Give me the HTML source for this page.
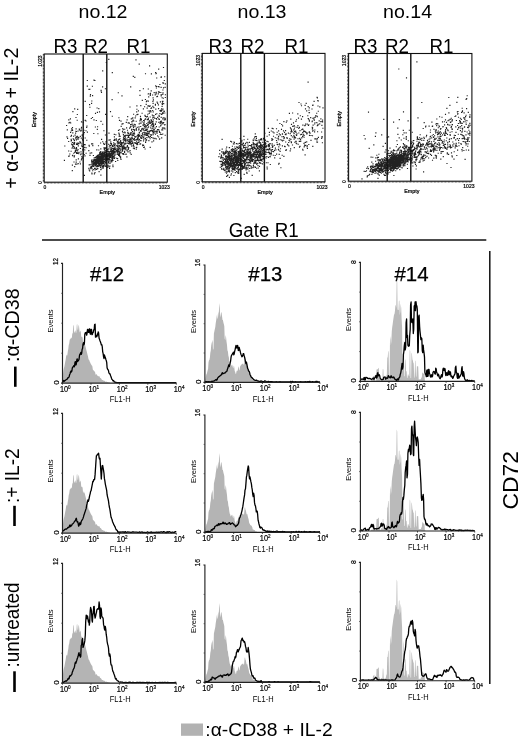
<!DOCTYPE html>
<html><head><meta charset="utf-8"><title>Figure</title>
<style>html,body{margin:0;padding:0;background:#fff}svg{display:block}</style></head>
<body>
<svg width="520" height="741" viewBox="0 0 520 741" font-family='"Liberation Sans", Arial, sans-serif' fill="#000">
<rect width="520" height="741" fill="#fff"/>
<path d="M98 159.8h0M98.1 162.6h0M95.5 163.7h0M103.1 157.3h0M102.8 158h0M100.4 159.6h0M92.8 161.4h0M100.8 158.2h0M92.7 170.7h0M95.7 164.5h0M100.1 160.6h0M100.9 162.3h0M100.1 159h0M96.5 156.3h0M101 155.7h0M96.7 164.9h0M97.7 162.1h0M101.3 158.9h0M97.3 165.4h0M97.1 157.8h0M96 161.8h0M100.6 165.5h0M99.2 156.3h0M91.5 166.3h0M98.6 164.2h0M100.8 160.2h0M93.6 161.1h0M101.5 156.3h0M104.3 156.8h0M99.4 165.4h0M101.3 162h0M97.3 166.5h0M95.4 164.9h0M103.7 165.6h0M93.6 163.2h0M104.3 156h0M92 173.9h0M100.3 162.9h0M94.8 159.9h0M103 158.2h0M99.9 159h0M104.9 155.6h0M100.9 158h0M93.2 159.7h0M102.5 157.2h0M91.7 167.3h0M102.1 165.8h0M98.3 157.8h0M94.1 158h0M101 160.4h0M100.2 158.1h0M99.4 156.7h0M96.5 163.9h0M102.8 158.8h0M95.7 159.5h0M104.4 159.6h0M93.9 164.4h0M98.4 162.4h0M104.2 161.8h0M103.6 163h0M96.1 160.4h0M103.1 155.7h0M100.3 159.8h0M99.5 158.7h0M98.3 160.4h0M101.1 159.9h0M101.8 157.5h0M106.4 155.8h0M97.4 163.2h0M98.9 157.8h0M97.7 160.4h0M105.8 166.4h0M94.8 162.5h0M100.5 159.4h0M97.4 159.6h0M100 162.3h0M108 154.8h0M96.9 162.5h0M98.1 161.7h0M88.9 168.4h0M102.7 163.1h0M98.7 157.8h0M102.1 154h0M92.7 165.8h0M97.7 159.5h0M103 168.3h0M103 164h0M101.5 164.9h0M99.6 156.4h0M98.4 160.7h0M101.9 158.9h0M98.7 155.8h0M102.9 159.9h0M109.1 159.5h0M102.4 160.1h0M99.5 158.3h0M99.8 158.3h0M93.3 169.5h0M101.3 163.2h0M95.2 168.4h0M103.7 155.8h0M104.4 161.4h0M99 165.1h0M101.8 153.8h0M95.7 157.3h0M102.6 159.7h0M91.7 160.1h0M98.6 163.4h0M100.5 158.8h0M104.5 161.6h0M103.2 153.4h0M104.3 158.7h0M96.2 159h0M99.4 160.4h0M104.2 159.1h0M90.5 167.1h0M92.1 161.9h0M100.2 162.6h0M98.9 158.1h0M99.3 156.2h0M98.8 157.5h0M104.5 152.3h0M96.5 159.3h0M92.1 168.7h0M91.7 161.3h0M94.4 163.6h0M98.3 161.5h0M96.8 161.4h0M105.6 157.2h0M100.9 156.4h0M98.2 165.9h0M96.9 158.4h0M92.9 166.5h0M102.7 156.2h0M99 158.2h0M99.6 164.9h0M93.2 166.5h0M102.4 161.2h0M95.6 165.6h0M93.3 164.6h0M94.6 162.2h0M90.3 164.7h0M96.6 169.3h0M101.7 160.5h0M90.7 168.7h0M100.1 162.1h0M101.9 156.8h0M101.4 158.5h0M103.9 156h0M100.6 167.5h0M102.3 154.6h0M97.9 163.3h0M106.1 163.3h0M100.7 151.5h0M95.6 160.5h0M105.9 157.6h0M101.1 156.7h0M95.6 163.2h0M100.1 157.5h0M98.9 161.8h0M95.2 164.4h0M102.3 158.9h0M95.8 165.8h0M108.8 151.5h0M101.3 169h0M101.3 158.1h0M105.2 156.1h0M98.7 159.3h0M91.8 161.4h0M100.2 162.9h0M103.9 151.9h0M93.8 166.3h0M100.1 159.8h0M97.5 165.3h0M106.8 153h0M94.6 168.3h0M105.3 154h0M105.7 154.4h0M95.8 161.9h0M91 168.1h0M98.8 159.3h0M96.3 163h0M100.7 158.8h0M101.3 159h0M97.8 158.9h0M99.2 163.9h0M96.7 162.3h0M98.6 160.7h0M99 160.4h0M98.5 165.8h0M100.5 156.4h0M100.6 160.8h0M100.6 163.6h0M92 164.7h0M95.5 160.3h0M95 172.6h0M95.1 157.6h0M97.6 166.7h0M96.2 160.8h0M100.8 159.4h0M112.1 148.3h0M101.9 154.3h0M113.3 146.1h0M109 160.8h0M101.1 153.9h0M100 152.4h0M106.1 150.2h0M100.6 143h0M110.5 154.8h0M102.7 141.7h0M99.7 153.7h0M108.7 154.3h0M94.2 160.8h0M104.5 149.7h0M107.4 154.9h0M107.8 151.5h0M103.5 156.8h0M100.4 154.5h0M94.9 165.4h0M102.1 166.8h0M99.1 171.6h0M97.4 156.8h0M105.9 156.2h0M100.5 167.3h0M114.4 148.2h0M109.5 159.4h0M100.8 169.6h0M107.3 149.4h0M89.2 164.8h0M106.3 166.4h0M89.7 170.8h0M97.8 168.6h0M102.3 156.2h0M106.3 151.3h0M112.2 145.4h0M93.2 165.6h0M94.9 168.2h0M101.5 158.1h0M105.4 165.8h0M93.7 162.3h0M100.7 160.4h0M101.6 162.7h0M106.8 153.2h0M101.5 162.3h0M100.9 175.1h0M95.4 161.1h0M91.9 161.9h0M103.1 165.7h0M100.4 160.6h0M105.2 152.5h0M101.8 163.2h0M101.1 158.8h0M107 153.5h0M97.2 168.7h0M99.5 163.7h0M94.5 162.5h0M98.7 158.9h0M105.6 158.5h0M117.8 151.6h0M109.5 153.2h0M109.6 168.4h0M97 159h0M106.1 141.5h0M104.2 148.9h0M107.2 149.4h0M105.5 157h0M105.5 162.6h0M110.1 159.9h0M103.7 144h0M100.5 158.5h0M109.9 153.6h0M96.6 159.1h0M106 151.5h0M96.8 149.9h0M113.3 151.9h0M103.9 159.5h0M111.6 157.2h0M106.6 158.4h0M97.4 155.9h0M111.1 153.2h0M97.5 155.3h0M101.7 156.1h0M112.4 145.6h0M98.5 145.7h0M102.1 153h0M97.7 160.4h0M90.2 153.1h0M111.3 160.4h0M91.9 173h0M110 156.5h0M101.6 160h0M101.2 164.9h0M102.2 166.5h0M101.6 156.2h0M105.2 157.6h0M95.9 160.1h0M98.8 150h0M107.3 155.8h0M98.9 163.8h0M95.7 163.3h0M104.1 153.7h0M105.9 143h0M97.3 160.2h0M121 159.4h0M98.5 158.6h0M103.1 154.8h0M100.4 156.4h0M102.4 152.9h0M89.2 169.9h0M102 164.2h0M95 157.7h0M97.7 156.3h0M107.1 153.3h0M105.5 156.7h0M92.5 163h0M105.1 159.5h0M101.4 153.6h0M96.1 157h0M114.7 154.7h0M103 158.2h0M112.5 150.5h0M108.1 158.9h0M101.9 158h0M90 155.3h0M108.1 165.4h0M107.1 156h0M105.1 154h0M91.9 164.4h0M112.2 156.1h0M95.1 169.8h0M93.8 160.1h0M113.5 149.3h0M103.7 143.3h0M98.5 163.8h0M105.6 152.6h0M95.2 168.6h0M104 155.3h0M93.2 163.7h0M98.4 156.9h0M101.3 158.8h0M99.7 152.7h0M111.5 155.2h0M107.8 159.5h0M102.5 153h0M112.3 154.8h0M101.6 156.9h0M91.9 163h0M97.5 158h0M94.4 173.9h0M102.3 156.1h0M124 136.7h0M146.4 101.6h0M147.8 114.2h0M134.4 148.6h0M112.6 151.3h0M131.2 154.3h0M148.3 89h0M162.7 119h0M146.1 129.6h0M99.1 158.1h0M156.4 118.5h0M103.1 157h0M123.8 148.8h0M120.4 141.3h0M105.8 161.4h0M147.5 124.7h0M139.9 90.6h0M120.1 152.6h0M142.3 100.3h0M115.8 134.7h0M111.6 150.9h0M148.7 96.9h0M125 139.9h0M149.9 131.4h0M100.5 152.2h0M105.5 157.6h0M122.6 151.1h0M145 115.3h0M115 143.6h0M151.5 135.1h0M156.2 121.8h0M125 135.7h0M144.6 106.7h0M124.1 135.8h0M120.1 150.7h0M161.1 77.3h0M128.4 122.8h0M124.9 144.2h0M112.6 145.7h0M119.5 153.5h0M125.8 149.7h0M102 155.8h0M143.1 135h0M114.4 136.9h0M118.1 151.8h0M148.5 137h0M148.2 118.1h0M130.2 152.8h0M165.3 119.6h0M123.4 146.2h0M165.3 97.5h0M153 115.8h0M164.3 80.5h0M110.1 154.2h0M120.1 136.3h0M121.8 143.3h0M113 157.5h0M136.6 143.9h0M159.2 116.5h0M114.9 146.9h0M123.8 143h0M137.8 142.5h0M146.6 133.1h0M108.8 152.9h0M106.7 151.2h0M103.8 165.4h0M134.5 136.7h0M115.6 161.5h0M146.2 130.4h0M151.8 134.7h0M111.8 153.1h0M157.7 117.3h0M113 152.1h0M103.7 155.2h0M163 113.5h0M105.6 159.1h0M129.4 123.1h0M105.7 160.2h0M121.2 146.2h0M118.8 147.9h0M103.6 161.2h0M141.4 119.1h0M101.7 161.2h0M142.1 121.8h0M113.4 154.1h0M101.1 163.3h0M135.9 136.6h0M141.2 131.1h0M113.1 153.4h0M154.5 131.1h0M139.1 141.8h0M145.4 99.5h0M164.8 113h0M127.1 150h0M137.7 144.4h0M109.3 155.4h0M109.3 146.8h0M98.3 158.8h0M156.2 138.9h0M149.8 122.5h0M98.7 154.8h0M141 123.2h0M129 137.4h0M109 140.1h0M100.3 157.7h0M147.1 108h0M121.2 126.3h0M136.2 129.4h0M153.6 140.9h0M123.3 147.8h0M147.9 127.7h0M108.8 152.8h0M109.4 156.1h0M141.4 119.9h0M134.1 133h0M153.7 125.1h0M165.3 83.9h0M107.9 150.7h0M152.9 106.4h0M109.2 154.3h0M129.9 138.7h0M114.1 156.6h0M135.6 116h0M103.4 159.7h0M144 122.2h0M161.2 94.6h0M113 166.6h0M100.1 160.8h0M127.9 132.7h0M115 147.4h0M136.2 121.2h0M98.9 157.6h0M119.4 135h0M163.5 83.1h0M119.8 156.4h0M122.3 149.6h0M150.1 138.7h0M123.9 146.2h0M151 108.5h0M150.4 136.3h0M115.7 148.8h0M144.6 133h0M118.3 146.9h0M129.9 143h0M160.4 121.5h0M143.8 136.8h0M125.5 137.9h0M129.6 128.1h0M106 155.1h0M122 124.1h0M132.8 142.4h0M149.5 120.7h0M143 128.2h0M128 151.9h0M145.1 149h0M122.2 153.5h0M105.7 155h0M100.9 157h0M131.8 146.1h0M127.8 132.4h0M165 124.5h0M123.1 146.8h0M102.3 156.3h0M102.2 162.2h0M117.4 141.3h0M162.6 112.8h0M117.3 145.3h0M150.7 122.1h0M161.6 121.2h0M150.7 127.9h0M109 157.2h0M160.3 134.5h0M117.1 150.9h0M120.6 157.9h0M139.9 144.1h0M161.2 124.9h0M156.5 86.5h0M141.5 135.5h0M117 150.4h0M110.9 149.6h0M156.4 88h0M134.4 133.7h0M157.7 103.3h0M130.4 142.3h0M116.6 145.7h0M133.3 129.4h0M125 135.7h0M96.5 166.7h0M153.3 119.8h0M136.3 149.2h0M120.3 149h0M100.5 166h0M118.6 150.8h0M152.1 131h0M124.7 129.2h0M122.8 128.5h0M131.9 124.3h0M118.4 139.9h0M140.6 143.9h0M138.4 110.9h0M107.7 165.8h0M156.7 119.1h0M136.3 128.5h0M110.9 154.3h0M151.9 121.3h0M159.2 127h0M150.1 130.7h0M125.3 135.4h0M141.6 138.4h0M108.6 162.9h0M161.7 134.5h0M129.5 135.3h0M106.1 160.9h0M106.7 155.7h0M100.1 163.9h0M149.6 137.1h0M156.9 96.6h0M137.2 135.8h0M164.7 124.8h0M94.9 158h0M151.9 124.9h0M132.7 138.6h0M148.6 126.8h0M118.9 145.5h0M158.3 129.5h0M138.2 138.2h0M152.6 126.8h0M161.3 114.4h0M155.4 104.4h0M135.2 117.9h0M111.9 151.7h0M153.6 129.1h0M155.2 94.9h0M151.5 120h0M98.5 160.7h0M103.6 155.8h0M142.1 113.2h0M109.2 156.3h0M154 138.7h0M133.1 120h0M139.4 139.9h0M107.5 159h0M134.1 139.9h0M106.4 153.7h0M133.8 135.3h0M128.7 147.6h0M155.7 85.9h0M164.7 76.7h0M113.6 150.6h0M149.5 123.2h0M162.9 101.4h0M164.2 119.8h0M140.5 118.4h0M120.6 156.9h0M114.2 155.8h0M161.1 87.3h0M147 129h0M108.8 166.9h0M149.2 133.9h0M120.2 146.3h0M133.4 139.4h0M99.8 163.5h0M100.5 153.1h0M162 110.2h0M102.4 157.4h0M123.3 148.2h0M143.2 129.6h0M140.6 130.6h0M117.6 151.5h0M123.2 129.6h0M118.9 147.9h0M158.6 137h0M133.5 144.7h0M113.1 151.9h0M118.9 148.8h0M155.4 123.8h0M135.7 142.8h0M150.5 130.6h0M107 160.2h0M108.1 160h0M152.7 117.9h0M125.8 143.6h0M160 110.6h0M104 163.3h0M160.6 133h0M106.3 149.7h0M99.3 163.4h0M150.2 147.3h0M116.6 150.6h0M162.4 128.1h0M132.3 118.2h0M114.4 151.8h0M114.6 149.3h0M116.7 150.9h0M136.7 111.9h0M149.2 113.5h0M131.8 132.8h0M101.8 159.5h0M105.9 147.8h0M159.9 84.5h0M155.4 105.2h0M121.5 142.6h0M127.1 119.8h0M160.7 110.3h0M163.2 117.8h0M121.7 144.6h0M127.7 140.5h0M156.3 92.2h0M148.7 93.7h0M115.2 154.8h0M132.8 125.8h0M130.7 134.6h0M117.6 158.6h0M132.8 121h0M136.1 139.5h0M125.3 140.1h0M102.8 158.8h0M144.4 120.8h0M128.1 133.6h0M115.7 149.4h0M124 154.2h0M110.6 145.6h0M117.5 146.6h0M106.3 161.9h0M105.8 158.9h0M119.6 154.1h0M112.1 157.9h0M158.6 108.5h0M142.6 145.7h0M148.4 136.6h0M158.3 93.8h0M161.2 117.3h0M148.4 119h0M128.9 141.6h0M123.6 142.9h0M152.6 95h0M113 160.3h0M107.7 159.6h0M148.3 101.1h0M162.1 106.3h0M136.9 105.9h0M162.8 94.4h0M147.3 129.8h0M161.6 122.9h0M108.2 161.8h0M162.9 123.8h0M119.5 120.4h0M155.8 109.1h0M161.8 110.1h0M150.3 123.5h0M160.4 122.9h0M133.5 127.4h0M139.2 123.9h0M96.5 157h0M118.9 155.5h0M137 114.6h0M131.2 139.3h0M163.7 103.6h0M112.2 153.9h0M103.4 156.8h0M138.9 135.4h0M119.5 155.1h0M111.8 152.8h0M118.5 143.1h0M99.7 154.8h0M140.6 137.8h0M159.9 113.5h0M111.5 149.4h0M131.1 141.8h0M110.8 141.8h0M128.6 143.6h0M114.2 152.8h0M139.5 132.8h0M108.4 153.8h0M124.6 152.4h0M99.9 163.2h0M107.6 157.9h0M100.8 148.9h0M156.4 126.6h0M136.6 141.1h0M120.1 148.8h0M128.3 149.4h0M102.5 152h0M113.1 156h0M118.2 142.1h0M108 155.3h0M133.8 135.3h0M119.8 146.3h0M146.6 126h0M153.3 124.9h0M122.6 149.8h0M146.7 133.5h0M117.2 148.3h0M142.9 134.6h0M148.1 122.3h0M112.6 156.9h0M118 153.3h0M153.4 99.8h0M145 119.4h0M152.6 126.9h0M142.3 133.9h0M103.9 152.8h0M103.5 161h0M146.8 123.5h0M132.2 135.8h0M144.3 126.2h0M142 137.7h0M153.2 123.1h0M161.6 108.7h0M120.5 146.7h0M123.8 145.1h0M110.8 151h0M165.2 118.3h0M133.2 133.4h0M133.4 148.2h0M130.3 139.6h0M109.9 157.6h0M119.3 145.6h0M130.9 143.7h0M110.5 156.1h0M165.2 135.2h0M140 95.4h0M132.1 134.9h0M136.3 147.6h0M145.6 142.5h0M153 137.9h0M105.7 147.9h0M155 138.2h0M126.8 147h0M131.1 126.2h0M115.9 151.3h0M153.9 117.5h0M131.9 140.6h0M103.5 159h0M128.1 139.6h0M111.4 155.4h0M150.9 111.8h0M139.6 135.7h0M123.4 134.6h0M108.6 144.2h0M138.6 136.3h0M137.5 144.1h0M156.3 73.2h0M100.9 162.8h0M114.6 139.4h0M114.4 145.3h0M106.3 162.1h0M140 136.5h0M125.7 135.7h0M114.4 158.4h0M104.3 153.3h0M110.8 149.4h0M113 157.8h0M103.2 158.6h0M124.6 139.8h0M112.5 153.7h0M102.5 153h0M136.9 109.2h0M152.4 123.3h0M139.5 139.5h0M150.1 105.9h0M143.1 125.4h0M106.6 156.6h0M157.5 96.4h0M146.9 100.8h0M99.3 160.2h0M104 154.5h0M131.2 144.7h0M106.7 156.4h0M134.6 130.1h0M130.1 142.4h0M154.3 129.5h0M125.1 140.4h0M104.4 153.1h0M147.3 119.6h0M128.6 135.3h0M106.4 155h0M103.8 156.4h0M128.4 136.4h0M137.4 143.2h0M129.4 141.2h0M116.3 140.2h0M114.3 134.4h0M95.7 162.5h0M153.1 133.1h0M119.6 155.6h0M160.1 123.5h0M130.6 124.6h0M136.5 143h0M163 109.1h0M118.4 154.2h0M154.3 133h0M139.2 139.3h0M118.6 154.9h0M101.1 161.4h0M118.7 149.2h0M133.6 145.9h0M116.2 150.9h0M111.3 144.4h0M135.4 124.9h0M163.5 87.9h0M151.4 120.4h0M138.6 142.4h0M165 129h0M124.4 135.9h0M103.5 162.3h0M129.6 139.9h0M130.5 127.2h0M98.4 162.6h0M121.9 143.8h0M106.5 159.7h0M132.5 131.5h0M120.6 144.3h0M140.6 140.7h0M162.8 82.9h0M133.2 134.7h0M143.6 145.4h0M111.9 156h0M144.1 130.7h0M110 163.4h0M110.8 148.9h0M130 107h0M154 115.8h0M153.4 132.4h0M124.6 151.4h0M116.6 158.2h0M112.6 160h0M118.5 149.4h0M159.6 132.4h0M147.1 134h0M162.5 102.9h0M140.4 119.6h0M154.9 118.3h0M164.3 111.3h0M108.6 154.4h0M99 161.5h0M109.4 156.5h0M118.5 130.3h0M102.1 152.4h0M146.4 116.9h0M117.2 154.4h0M118.5 151.6h0M129.8 144h0M104.4 154.7h0M135 140.4h0M111.5 143.5h0M110.5 151.5h0M101.9 162.8h0M98.1 166.5h0M133.6 114.2h0M144.8 134.2h0M126.1 140.6h0M108.8 155.2h0M138.5 134.5h0M115.4 149h0M148.3 119.6h0M117.5 152.1h0M119.7 152.9h0M123 123.6h0M109.9 151.9h0M120 138.7h0M149.2 132.1h0M139.3 132.4h0M126 148.1h0M112.4 159.6h0M132.8 117.8h0M149.6 121h0M150.5 93.2h0M156.2 132.8h0M110.8 161.9h0M132.2 124h0M125.1 136.5h0M153.2 132.1h0M148.1 124.9h0M120.9 142.1h0M111.6 151.8h0M115.8 140h0M158.4 104.8h0M128.4 148.4h0M124.6 143.9h0M113.9 140.3h0M156.8 131.1h0M117.3 151.6h0M120.7 140.5h0M119.8 143.7h0M159.5 139.1h0M131.7 143.5h0M128 141.1h0M152 141.9h0M127 139h0M153 124.2h0M102.6 153.8h0M142 128.5h0M147.1 135.5h0M144.9 127.8h0M160.9 121.9h0M126.9 156.9h0M129.8 143.8h0M151 119.7h0M99.2 160.3h0M130.2 134.6h0M116.2 150.8h0M106.8 163.9h0M119.3 139.3h0M111.7 153.5h0M155.6 114.3h0M105.1 150.9h0M101.9 160h0M159.3 92.3h0M143.7 139.7h0M162.4 101.3h0M107.3 167.3h0M124.1 140.1h0M114.5 151.7h0M99.4 159.6h0M118 141.3h0M165.1 87.3h0M122.1 147.7h0M129.3 151h0M149.2 106.3h0M123.1 154.3h0M97.8 158.4h0M138.6 135.2h0M161.2 121.1h0M163 92.9h0M162.7 129.9h0M121.8 145.5h0M151.9 122.3h0M139 126.8h0M134 129.5h0M103.9 161.5h0M122.6 148.4h0M108.9 148.8h0M131.9 121.9h0M161.6 114.3h0M132.4 143h0M134.6 142.7h0M107.8 149.2h0M132 141.4h0M147.4 131.6h0M111.9 155.6h0M122 148.2h0M162 103.7h0M151.7 107.7h0M109 133.1h0M146.9 137.6h0M155.9 73.7h0M125 147.4h0M109.5 151.9h0M109 152.4h0M118.9 117.7h0M133.6 139.2h0M147.9 135.3h0M157.1 102.1h0M130.2 140.8h0M112 160.5h0M153.6 132.3h0M130.8 138.9h0M113 158.4h0M113.2 150.7h0M106.4 147.6h0M141.6 135.6h0M151.4 108h0M128.7 133.4h0M142.2 136.4h0M99.9 156.2h0M123.5 137.8h0M124.5 147.4h0M120.7 142.1h0M148.2 111h0M151.6 130.4h0M120.3 156.8h0M153.5 126.1h0M125.1 132.5h0M112.5 157.9h0M134.2 132.9h0M153.8 125.5h0M103.3 157.4h0M101.3 154.6h0M141 140.6h0M126.6 135.2h0M143.6 120.5h0M148.2 94h0M127.3 135.4h0M137.3 139.3h0M119.6 151.8h0M114.4 140.4h0M160.4 101.8h0M163.3 112.9h0M121.3 145.3h0M124.7 132.1h0M163.8 111.1h0M101.7 155.6h0M164.4 118h0M110.2 139.8h0M109.9 166.1h0M118.8 133h0M124.4 138.4h0M109.2 158.3h0M130.9 132.8h0M158.5 108.7h0M147.6 134.9h0M131.6 130.1h0M117.8 160.5h0M138.9 128.2h0M111.3 151.9h0M146.2 139.6h0M159.7 138.7h0M125 133h0M133.8 121h0M124.8 147.7h0M128 137.5h0M136.3 129.8h0M150.6 134.7h0M138.7 130h0M144.3 124.6h0M145 138.7h0M119.1 142.7h0M113.2 149.8h0M143.4 108.9h0M105.6 160.4h0M98.3 161.8h0M122.3 147h0M100.3 159.6h0M119.1 133.8h0M110.8 150.9h0M141.1 119.9h0M101.1 155.2h0M144.7 130.7h0M131.7 129.3h0M156.7 78h0M143.9 129h0M125 149h0M144.7 126.4h0M109.6 155.8h0M152.3 115h0M160.8 92.5h0M119.8 153.4h0M145.6 130.5h0M144.6 134.8h0M105.2 154.5h0M130.6 133.1h0M105 148.3h0M146 134.7h0M110.4 157.3h0M123.5 153.5h0M143.4 88.7h0M127.1 150.6h0M108 158.8h0M103.2 167.3h0M131.9 121.6h0M114.8 157.7h0M129.3 141.4h0M128.2 122.9h0M111.2 161.9h0M145.4 125h0M149.2 121.7h0M147.5 116.3h0M146 125.9h0M104.1 147.6h0M118.1 143.8h0M150.7 110.8h0M164.6 128h0M163.4 122.7h0M156 92.6h0M100.7 162.8h0M163.1 127.9h0M138.2 134.4h0M159.4 131.6h0M149.5 111.8h0M137.4 138.1h0M117.8 149.8h0M150.3 95.5h0M105.6 157.1h0M133.9 125.8h0M104.4 166h0M158.7 118.9h0M100.7 157.6h0M151 125.8h0M135.1 126.7h0M122.5 131.3h0M158.9 122.4h0M148.4 105.7h0M162.4 104.4h0M125.6 147.8h0M123.7 141.9h0M158.9 91.9h0M115.8 152.7h0M158.7 69.1h0M147.2 108.1h0M152.9 130.6h0M121 121.1h0M134.2 124.4h0M123.1 132.6h0M111 147.3h0M106.2 158.9h0M125.9 154.4h0M146.6 140.1h0M146.3 134.1h0M160.9 111.4h0M145.3 116.4h0M103.9 157.1h0M137.4 143.3h0M114.7 151h0M124.6 148.1h0M152.9 101.3h0M102.6 162.1h0M151.8 124.2h0M113.2 157.1h0M140.5 116.4h0M109.1 158.2h0M141.7 129.6h0M163.3 128.2h0M121 150h0M121.4 143.7h0M112.4 158.1h0M114.6 145.5h0M128.4 147.7h0M98.9 166.2h0M115.1 144.9h0M148.5 124h0M133.3 145.2h0M100.9 156.3h0M162.3 122.9h0M143.1 124.8h0M162.9 90h0M111.9 158.6h0M112.9 165.1h0M100.9 158h0M109.5 145.2h0M131.3 118.8h0M142.8 144.9h0M135.3 137.1h0M137.9 135.5h0M151.2 90.8h0M162.8 134h0M104.7 155.7h0M130 144h0M158.5 91.9h0M99.4 165.7h0M152.2 128.6h0M147.5 132h0M130.7 86.8h0M122 145.9h0M127.3 143.1h0M97.8 166.4h0M148.7 131.2h0M106.4 153.6h0M138.9 129.6h0M118.6 154.6h0M155.5 134.2h0M161.8 129.8h0M127.4 145.6h0M138.2 140.2h0M142.8 132.9h0M140.7 126.5h0M109.9 155.5h0M117.8 150.3h0M146.1 135.5h0M143.7 147.5h0M145.4 138.3h0M161.7 137.9h0M104.6 144.4h0M152.7 110.5h0M114.1 153.2h0M131.2 137.8h0M161.6 110.9h0M109.8 151.7h0M147.5 125.4h0M152.4 131.5h0M146 127.1h0M117.9 153.1h0M153.2 111.9h0M134.2 147h0M103.8 158.8h0M113.5 148.9h0M106.4 149.2h0M122.2 143.5h0M105.5 157.3h0M138.1 137.5h0M119.1 136.2h0M161.8 122.7h0M123.9 139.1h0M151.4 137.5h0M148.9 140.6h0M117.2 149h0M110.1 156.2h0M144.4 147.1h0M153.7 127h0M118.6 155.3h0M161.2 95.9h0M145.7 141.1h0M153.1 103.3h0M155.8 131.3h0M140.8 137.6h0M140.2 123h0M115.1 148.8h0M138.2 137.1h0M109.3 156.4h0M136.7 147.3h0M129.2 142.3h0M126.3 122.3h0M100.9 155.8h0M119.7 129.7h0M127.7 146.9h0M97.3 161.4h0M132.9 143.4h0M108.7 158.6h0M106.1 155.1h0M157.5 129.6h0M123.2 139.8h0M151.4 73.9h0M143.5 141h0M110.7 143.3h0M103 157.8h0M132.3 137.8h0M159 130.1h0M105.3 148.2h0M157.4 133h0M163.3 98.2h0M153.9 131h0M121 143h0M111.8 155.1h0M150.3 94.3h0M153.1 97.8h0M113.6 144.2h0M159.4 119.4h0M125.7 141.9h0M165.4 94.7h0M150 110.5h0M136.5 130.2h0M158.8 86.5h0M117.3 142.9h0M115.1 153h0M152.9 138h0M162.1 97.7h0M161.3 76.8h0M156.8 113.7h0M134.4 138.6h0M157.6 135.8h0M130 134.4h0M123.8 143h0M155.4 124.5h0M106.9 153.8h0M163.5 67.5h0M145.8 129.2h0M150.2 117h0M130.5 126.9h0M137.2 127.3h0M159 87h0M162.1 113.9h0M127.7 116.6h0M160.6 125.8h0M137.7 139.5h0M113.2 148.2h0M130.3 150.7h0M149.8 106.1h0M137.9 135.4h0M137.1 144.6h0M144.1 132.5h0M106.4 159h0M107.6 156.5h0M121.3 152.1h0M118.4 151h0M123.8 145.6h0M111.1 155.9h0M134.3 130.9h0M127.5 130.2h0M110.2 155.4h0M112.6 146.5h0M119.3 148.1h0M146.8 129.2h0M103.4 166.4h0M116.3 138.9h0M113.5 150h0M148 133.5h0M147.8 106h0M119.8 142.2h0M111.9 161.6h0M104.9 164.3h0M157.2 131.4h0M159.1 115.4h0M140.5 131.2h0M125.7 139.3h0M113.7 142.7h0M108.8 156.6h0M155.2 128.1h0M109 161.6h0M155.6 72.5h0M103.2 154.8h0M156.1 93.9h0M153.3 134.7h0M103.4 159.7h0M145.4 132.9h0M135.3 143.3h0M122.3 142.5h0M126.1 154.1h0M148.6 133.3h0M153 121.5h0M145.6 118.8h0M132.7 135.2h0M126.6 127.8h0M137.9 114.4h0M124 148.6h0M139.9 120.8h0M122.2 142.8h0M143.5 137.8h0M154.2 92.6h0M163.7 122.5h0M143.9 123.4h0M139.8 135h0M153.8 107.6h0M134.6 134h0M105.1 158.7h0M76.8 137.5h0M81.1 153.8h0M76.6 153.5h0M76.2 162.1h0M82.2 135.1h0M76.5 152.5h0M74.8 152.3h0M69 122.8h0M94.6 159.5h0M71 136.3h0M80.4 163.9h0M67 136.8h0M66.6 125.5h0M74.6 142.6h0M77.2 150.9h0M76.4 147.6h0M83.8 144.9h0M77 150.5h0M73.8 153.2h0M77.2 120.2h0M83.1 140.7h0M86 130.7h0M78.3 145.8h0M71.4 140.6h0M75.5 164.1h0M70.4 118.9h0M78.3 137.4h0M78.2 149.7h0M79.6 129.8h0M75.6 137.2h0M82.6 149.9h0M78.1 153.2h0M80.4 148.5h0M83.3 153.5h0M86.1 147.7h0M72.7 155.3h0M80.7 154.7h0M86.7 127.3h0M79.9 162h0M77.1 153.1h0M67.6 138.3h0M88.8 150.6h0M81.5 127.3h0M72.1 148.1h0M78.6 137.7h0M71.1 141h0M76.6 131.5h0M68.7 151h0M74.5 147.8h0M81 151.8h0M91.7 152.8h0M81.6 130.7h0M82.3 146.4h0M72.8 147h0M80.7 142.2h0M80.3 136.4h0M72.5 155.7h0M84.8 150h0M68.8 119.9h0M72.8 155.7h0M82.3 158.2h0M72.6 130.3h0M72.9 111.6h0M77.7 109.3h0M77.9 143h0M73.8 146.6h0M74.5 144h0M81.3 160h0M72.3 170.6h0M85.2 144.7h0M77.1 144.5h0M82.5 139.6h0M81.7 145.9h0M76.5 144.5h0M67.3 129.8h0M68.8 156.5h0M80.7 143h0M81.5 121.9h0M87 126h0M76 117.5h0M72.5 144.8h0M82.5 146.5h0M76.6 148.3h0M84.4 175.4h0M83.9 130.2h0M76.8 136.5h0M72.1 129.5h0M93.4 155.5h0M84.6 144.5h0M75.4 150h0M76.2 159.8h0M70 122.4h0M77.1 136.7h0M78.8 137.6h0M69.1 155.9h0M80.5 130.9h0M71.1 151.2h0M71.5 135.4h0M79 143.3h0M73.8 139.3h0M77.4 153.3h0M79 152.3h0M82.2 135.7h0M73.6 136.2h0M77.5 152.8h0M72.4 165.1h0M71.2 139.3h0M83.6 151.8h0M78 139.3h0M81.3 138.1h0M83.7 133.9h0M73.2 138.7h0M64.8 146h0M77.3 136.3h0M75.6 133.1h0M84.2 154.5h0M74.3 140.4h0M79.8 141.9h0M81.6 158.9h0M81.3 128.8h0M83.1 138.3h0M75.9 138.6h0M76.8 164.1h0M74 144.3h0M74.5 155.7h0M76 148.5h0M77.6 144.4h0M78.1 131h0M77.9 138.5h0M75.1 135.1h0M75.4 151.7h0M70.6 132.3h0M74.4 140.6h0M83.2 136.9h0M89.1 145.4h0M82.3 134.8h0M73.7 143.1h0M74.2 156.9h0M78.8 153.7h0M86.1 153.2h0M74.3 142.6h0M74.4 143.1h0M74 162h0M64.4 160.3h0M85.2 138h0M78 149.7h0M76.4 139.9h0M69.8 154h0M72.5 127.6h0M71.6 128.7h0M74.7 108.8h0M76.8 143.3h0M84.3 132.5h0M82.2 157.4h0M83.2 122.2h0M76.6 149.9h0M71.4 130.7h0M78.7 143.7h0M70.7 123h0M81.8 144h0M85 155.9h0M81.9 156.5h0M84.7 147.3h0M83.7 149.1h0M79.3 129.1h0M72.4 142.5h0M72.8 132.8h0M74 148.5h0M76.1 128.8h0M71.7 144.1h0M75.4 150.8h0M73 145.8h0M78.2 163.6h0M78.4 158.9h0M77.3 114.5h0M72.1 144.6h0M75.8 131.2h0M74.7 166.6h0M68.7 141.5h0M101.1 90.9h0M112.1 99.6h0M112.3 72.6h0M140.8 105.6h0M102.7 70.8h0M134.8 77.4h0M133.3 76.3h0M105.6 114.4h0M112.3 116.2h0M158.2 86.5h0M136 59.9h0M146.2 104.3h0M110.5 111.6h0M145.5 73.7h0M122 95.9h0M105.4 88.7h0M139.2 64.1h0M149.6 65.8h0M118.3 92.7h0M108.8 59.4h0M98.8 108.6h0M106.3 62.5h0M102.7 124.2h0M102.6 86.9h0M93.8 133.5h0M101 121.3h0M87.3 86.1h0M94 119.8h0M97.3 129.3h0M85.2 120.3h0M92.8 145.6h0M92.6 95.6h0M91.8 101h0M97.9 133.7h0M85.2 101.3h0M97.6 126.7h0M89 89.3h0M103.9 130.7h0M97.1 108h0M91.6 143.9h0M91.6 103.3h0M97.4 112.3h0M87.4 132.1h0M91.3 118.5h0M92.4 86.2h0M87.3 80.5h0M89.9 89.2h0M89.9 107.2h0M92.7 143.8h0M101.5 92.3h0M90.5 94.6h0M94.9 80.5h0M86 121h0M89.6 104.6h0M101.1 90.2h0M96.3 120.5h0M101.6 139.3h0M90.3 96.1h0M94 80.1h0M86.7 115.5h0M89.3 146.2h0M86.8 140.2h0M92.5 117.5h0M95.4 127h0M99.5 111.9h0M105.4 135h0M95.5 113.4h0" fill="none" stroke="#222" stroke-width="1.15" stroke-linecap="square"/>
<rect x="44.2" y="54" width="123.1" height="128.2" fill="none" stroke="#111" stroke-width="1.1"/>
<line x1="83.2" y1="54" x2="83.2" y2="182.2" stroke="#111" stroke-width="1.4"/>
<line x1="106.8" y1="54" x2="106.8" y2="182.2" stroke="#111" stroke-width="1.4"/>
<line x1="43.400000000000006" y1="54" x2="43.400000000000006" y2="182.2" stroke="#222" stroke-width="1.2" stroke-dasharray="0.7 0.7"/>
<line x1="44.2" y1="183.0" x2="167.3" y2="183.0" stroke="#222" stroke-width="1.2" stroke-dasharray="0.7 0.7"/>
<text x="41.8" y="55.5" font-size="5" text-anchor="end" transform="rotate(-90 41.8 55.5)" stroke="#000" stroke-width="0.2">1023</text>
<text x="41.8" y="182.7" font-size="5" text-anchor="middle" transform="rotate(-90 41.8 182.7)" stroke="#000" stroke-width="0.2">0</text>
<text x="36.5" y="119.6" font-size="5.4" text-anchor="middle" transform="rotate(-90 36.5 119.6)" stroke="#000" stroke-width="0.2">Empty</text>
<text x="45.0" y="189.2" font-size="5" text-anchor="middle" stroke="#000" stroke-width="0.2">0</text>
<text x="164.3" y="189.2" font-size="5" text-anchor="middle" stroke="#000" stroke-width="0.2">1023</text>
<text x="107.2" y="194.2" font-size="5.4" text-anchor="middle" stroke="#000" stroke-width="0.2">Empty</text>
<text x="103" y="17.8" font-size="18.3" text-anchor="middle" textLength="49" lengthAdjust="spacingAndGlyphs">no.12</text>
<text x="53.4" y="53.4" font-size="19.4" text-anchor="start" textLength="24" lengthAdjust="spacingAndGlyphs">R3</text>
<text x="83.9" y="53.4" font-size="19.4" text-anchor="start" textLength="24" lengthAdjust="spacingAndGlyphs">R2</text>
<text x="126.4" y="53.4" font-size="19.4" text-anchor="start" textLength="24" lengthAdjust="spacingAndGlyphs">R1</text>
<path d="M223.3 152.4h0M234.9 149h0M228.3 156.9h0M225.8 166.5h0M231.2 158.7h0M237.4 162.9h0M238.5 155.3h0M226.4 162.4h0M226.1 150.8h0M228.4 155.8h0M237.3 162.8h0M228.8 159.1h0M227 169h0M225.8 159.2h0M232.9 150.4h0M220.6 158.2h0M224.7 154.2h0M236 160.5h0M240.8 163.5h0M228.5 167.7h0M227.7 160.5h0M235.9 153.4h0M230.1 165.7h0M229.7 163.9h0M228.9 163.7h0M226.4 161.6h0M228.6 162.3h0M223.3 160.4h0M235.2 157.3h0M228.4 168.2h0M223.8 168.4h0M227.8 163.2h0M220.9 157.2h0M222.4 165.5h0M227.4 156.2h0M242.9 163.4h0M230.1 163.7h0M230.5 162.3h0M246.8 167.9h0M231.1 166.1h0M233.9 164.4h0M235.2 167.9h0M244.6 160h0M221 157h0M228.9 168.3h0M234.4 164.4h0M236.2 164.6h0M237.2 160.3h0M233.9 160.3h0M229.5 163.5h0M234.5 156.9h0M229.3 147.6h0M242 168.2h0M238.3 161.7h0M233.2 166.1h0M241.8 166.3h0M231.3 165.7h0M243.5 153.6h0M223.8 164h0M234 163.9h0M229.6 167.8h0M233.3 167.9h0M236.8 146.7h0M229.8 151.3h0M234 165.3h0M229.7 167.1h0M232.4 157h0M237.4 162.9h0M224.5 161.7h0M241.9 159.5h0M231.4 173.8h0M229.1 157.9h0M226 153.1h0M228.3 166.5h0M228.2 161.8h0M237.8 164.7h0M221 161.7h0M234.9 151.9h0M225 152.3h0M235.8 158.5h0M227.1 166.6h0M226 155.6h0M233.1 154.8h0M242.7 161.1h0M231.5 149.6h0M223.9 163.9h0M229.5 163.5h0M232.6 166.3h0M238.8 169.5h0M226.8 171.4h0M223.3 157.7h0M235.5 162.4h0M236.8 157.5h0M228.3 161.5h0M234 149.1h0M229.1 159h0M235 153.9h0M234.3 154.8h0M225.3 162.8h0M220.1 161.5h0M245.8 159.8h0M232.3 159.6h0M232.6 169.2h0M227.6 162.3h0M232.8 166.4h0M231.1 165.6h0M223.8 165.2h0M226.9 156.2h0M239.8 157.7h0M230.5 164.6h0M222.3 164.4h0M241.2 154.3h0M233.1 162.7h0M231.8 158.7h0M231.7 158.6h0M227.1 160.9h0M229.6 154.7h0M224.3 153.4h0M231.2 164.2h0M231.9 160.5h0M230.3 158.7h0M228.3 171.4h0M235.9 161.4h0M241.8 158.9h0M219.7 153.8h0M227.6 157.9h0M245.1 154.6h0M225.2 161.8h0M222.1 157.2h0M235.1 167.4h0M234.5 155.6h0M236.6 165.2h0M227.6 167.9h0M224 159.3h0M232 153.4h0M233.4 163.1h0M223.2 151.9h0M232.7 161.4h0M225.7 167.5h0M235.6 167h0M235.3 157.4h0M229.4 170.9h0M234.2 152.8h0M226.8 168.8h0M238.3 160.3h0M228 153.9h0M230.1 158.5h0M229.3 165.7h0M233.1 166.4h0M221.1 164.4h0M239.2 154.6h0M244.8 155.3h0M241.5 159.7h0M229.1 158.4h0M226 156.8h0M229.1 159.7h0M226.6 162h0M237.7 162.5h0M227.7 159.5h0M237.1 162.3h0M224.7 170.5h0M223.7 154.8h0M231.2 158.3h0M238.2 159.5h0M234.7 164.2h0M222.1 157.4h0M231.2 157.8h0M225.3 162h0M243.9 166.2h0M232.3 153.4h0M230.4 160.4h0M218.9 156.6h0M229.1 153.5h0M231.2 163.4h0M234.4 162.6h0M228.7 152h0M237.7 160.5h0M236.6 156.3h0M235.2 160.9h0M232.2 158.8h0M235.1 159.1h0M228.4 161.6h0M234.5 167h0M231.7 156.7h0M232.8 162.9h0M231.6 164h0M237.7 163.4h0M221.7 168.3h0M233.5 159.9h0M228.9 168.9h0M230.9 166.1h0M227.8 161.2h0M227.1 159.3h0M227.3 163.9h0M230.4 152.5h0M241.2 155.6h0M227.3 161.1h0M237.2 156.4h0M222 161.5h0M227.3 156.7h0M235.6 164.3h0M244.6 162.8h0M246.4 162.2h0M231.2 150h0M228.6 163.9h0M240.6 161.4h0M234.6 168.6h0M242.5 155.4h0M233.9 157h0M228.7 164h0M222.3 159h0M239.2 156.1h0M237.3 157h0M226.2 168.8h0M235.6 160.2h0M237.7 162.8h0M226.5 158.5h0M228.4 170.8h0M228.1 166.3h0M225.1 164.4h0M237.4 147.3h0M242.1 163.6h0M238.6 161.6h0M234.2 165.1h0M231.3 171h0M242.5 165.6h0M235.3 164.6h0M233.4 168.1h0M229.5 155.8h0M235.3 172.6h0M236.9 168.9h0M233.5 158.1h0M227.9 163h0M230.3 158.8h0M237.2 153.2h0M233.7 149.5h0M226.1 150.7h0M230.2 156.7h0M231 160.7h0M226.2 158.9h0M243.9 160.3h0M231.6 161.1h0M236 162.3h0M231.7 159.9h0M239.6 155.6h0M225.4 164.9h0M231.9 156.2h0M237.6 162.4h0M244.5 162.1h0M240.2 152.8h0M241.3 160h0M235.2 170.1h0M221.1 164.7h0M236.1 154.9h0M231.1 155.1h0M235.2 152.2h0M222.2 166h0M226 167.3h0M241.6 166.6h0M226.8 163.5h0M237.1 163.9h0M236.2 157.9h0M227.9 175h0M226.2 168.5h0M241.6 165.4h0M225.3 159h0M232.1 166.6h0M238.3 155.8h0M233.4 165.6h0M226.5 173.2h0M234.1 158.9h0M226.2 161h0M251.5 167.8h0M221.5 157.6h0M229.2 164.1h0M235.5 161.9h0M237.7 158.1h0M238.7 160.5h0M221.5 155.1h0M233.3 169.3h0M232.1 156h0M225.6 160.9h0M227.3 167.1h0M228 153.7h0M235.9 161.3h0M231.3 160.4h0M233.5 160.1h0M221.4 155.8h0M226.6 176.4h0M236 168.2h0M230.9 161.7h0M228.2 158h0M230.1 162.8h0M226 162.8h0M225.5 160.9h0M239.7 155.3h0M234.3 169.2h0M237.9 155.7h0M244.2 174.4h0M231.8 163.1h0M238.3 167.6h0M229.5 147.6h0M237.7 172.9h0M231.9 153.2h0M228 157.7h0M232.3 169.8h0M228 154.5h0M238.9 164.7h0M238.5 165.4h0M233.2 161.3h0M224.2 159.3h0M229.4 177.3h0M226.7 166.2h0M226.7 166.9h0M227.6 175.6h0M237.1 160.8h0M233.3 162.8h0M232.1 162.8h0M225.2 170.1h0M232.2 155.2h0M233.2 151.7h0M223.5 162.8h0M228 154h0M242 164.3h0M236.2 162.6h0M225.7 161.9h0M225.5 152.1h0M235.3 154.2h0M233.9 175.5h0M236.6 160.7h0M237.9 151.2h0M225.6 156.6h0M233.8 162.2h0M230 158.1h0M235.2 157.3h0M229.3 169h0M239.7 153.6h0M228.3 161.4h0M236.6 171.6h0M234.8 147h0M233.4 165.4h0M244.1 161.2h0M233 163.7h0M232.8 171.8h0M224 169.9h0M237.2 161.8h0M238.7 173.3h0M228.1 152.6h0M227 172.2h0M227.2 163.3h0M231.7 153.5h0M239.8 152.1h0M235.3 164.2h0M228.8 170h0M239.4 153.8h0M232.3 166.5h0M235.8 158.4h0M232.7 168.1h0M233.2 164.6h0M236.2 157.7h0M234.4 163.8h0M240.9 156.7h0M239.4 156.3h0M235.7 158.9h0M225.3 172h0M226.1 157.6h0M237.2 160.2h0M232.3 150.4h0M229.4 171.8h0M222.4 163.1h0M236 156.9h0M230.4 156.4h0M231.5 165.5h0M229.5 156.8h0M237.5 167.9h0M225.8 160.5h0M244.5 168.2h0M224.2 158.8h0M234.8 164.9h0M231.6 158.4h0M221.3 161.4h0M235.4 155.8h0M238.8 161.7h0M223.1 153.3h0M236.4 165h0M238 155.1h0M230.9 175.2h0M228.9 165.7h0M226.7 161.7h0M225.2 159h0M243.1 168.3h0M238 164.4h0M235 162h0M239.5 165.4h0M236.2 165.8h0M233.1 161.3h0M238.3 170.6h0M223.6 153h0M234.1 151.2h0M225.6 160h0M235.4 150.8h0M231.4 163.9h0M236 161.9h0M227.3 156.8h0M220.3 167.2h0M239.9 164.2h0M229.8 159.1h0M238.5 158.1h0M226 164.6h0M238 162h0M228 156.1h0M238.6 148.4h0M225.3 165.4h0M227.6 159.2h0M228.9 154.7h0M227.9 162.9h0M235.2 160.1h0M225.7 152.4h0M235.2 164.2h0M233 167.8h0M224.4 163h0M233.9 160.7h0M227.1 169.4h0M221.7 151.8h0M234 166h0M238.9 158.1h0M229.3 164.9h0M238.6 159.3h0M241.5 159.1h0M228.2 164.8h0M227.5 159.8h0M233.3 157.7h0M234.5 167.5h0M230.5 166.8h0M234.6 169h0M228.3 166.3h0M228.1 162.8h0M240.8 162.8h0M223.2 163h0M236.2 158h0M233.2 149.5h0M238.4 160.7h0M239 169.2h0M230.7 166.4h0M232.8 151.7h0M228.8 151.8h0M225.7 152.8h0M221.6 166.3h0M237.7 161.8h0M232.6 161.3h0M232.8 162.3h0M225.9 163h0M232.4 166.6h0M234.5 150.8h0M222 164.5h0M230.1 161.1h0M232.3 165.5h0M243.7 156.7h0M243.3 145.9h0M245.1 167.2h0M230.9 153.7h0M241.2 161.4h0M232.7 159.9h0M243.3 161.7h0M241.1 150.7h0M250.6 152.3h0M242.6 166.5h0M250.5 145.6h0M254.7 147.6h0M246.3 153.9h0M243.9 147.9h0M241.8 141.7h0M250.5 158.5h0M244 168.2h0M237.9 159.4h0M264.5 160.8h0M251.7 155.6h0M241.6 152.5h0M227.4 151.5h0M260.2 153.3h0M243.5 155.7h0M249.6 159.8h0M245 153.1h0M241.1 154.2h0M246.8 151.4h0M235.8 161.3h0M240.5 148.6h0M246.1 168.3h0M233.4 143.9h0M246.8 165.7h0M236.4 156.4h0M255.9 144.2h0M241 159.2h0M260 162.4h0M257.1 153.2h0M244.8 147.5h0M248 162.4h0M231.3 157.7h0M248.3 146.7h0M222.2 149.1h0M249.2 145.5h0M250.7 154.7h0M247.6 153.6h0M238.8 158h0M245.1 159.9h0M231.8 168.1h0M248.2 152.7h0M244.9 165h0M251.1 158.9h0M226.7 147.1h0M231.6 141.8h0M248.5 159.5h0M224.4 163.5h0M256.4 146h0M246.2 168.8h0M240.8 159.1h0M247.9 157.3h0M246.9 168.1h0M238.7 147h0M231.9 151.2h0M263.3 150.5h0M232.4 148.9h0M228.6 155.7h0M240.6 148.2h0M253.8 154.6h0M259 148.5h0M240 164.1h0M264.5 157.9h0M247.5 157.3h0M240.1 168.6h0M242.8 157.7h0M252.2 159.7h0M231 165.5h0M243.7 155h0M250.1 159h0M248.5 155.3h0M258.1 155.9h0M245.2 152.6h0M254.2 162.4h0M240.1 159.1h0M226.2 149h0M253 155.8h0M272.1 145.3h0M260.9 144.1h0M251.6 166.2h0M256.8 152.7h0M234 157.2h0M250.3 149.2h0M245.5 160.4h0M250.4 161.6h0M243.4 151.4h0M232 155.1h0M227.7 164.8h0M233.7 158.3h0M250 156.6h0M251.6 155.4h0M242.3 153.4h0M242 156h0M252.7 160.1h0M253.6 163.8h0M242.2 169.3h0M239.6 145.8h0M247 147.4h0M231.8 165h0M247.9 150.5h0M251 168.1h0M248.3 156.9h0M245 153.3h0M241.7 169.1h0M235.1 167.9h0M233 158.7h0M254.9 160.9h0M237.6 165.5h0M229.6 157.5h0M240 158.8h0M236 154h0M234 153.7h0M238.5 151.6h0M236.6 154.2h0M247.7 157h0M257.7 154.3h0M236.6 152.5h0M237.1 161.2h0M244.1 155.5h0M258.3 168h0M241.9 148.9h0M242.7 154.6h0M256.8 164.5h0M244.4 151.1h0M239.1 169.7h0M235.7 156.1h0M245.6 143.4h0M255.1 166.9h0M252.7 149.5h0M257.6 156.7h0M239.4 156.1h0M257 151.2h0M258.2 149.9h0M239.1 164.4h0M259.5 166.3h0M241.1 159.3h0M236.4 161.5h0M244.1 139.7h0M243.5 160.6h0M245.1 149.9h0M237.2 160.3h0M229.4 153h0M249.7 145.5h0M234 142h0M251.3 158.1h0M240.7 159.3h0M233.9 152.1h0M238.9 162.4h0M248.3 155.6h0M239.1 158.9h0M239.9 147.5h0M252.4 161.2h0M243.7 147h0M241.6 144.2h0M247.7 151.6h0M226.6 152.2h0M246.9 152.3h0M248 152.6h0M239.8 150.7h0M244.5 164.2h0M235.5 156.3h0M246.8 172.3h0M226.7 150.7h0M243.9 136.3h0M231.2 159.7h0M239 153.2h0M255.8 144.2h0M235.6 148.6h0M233.8 155.4h0M245.5 152.2h0M237.3 147.7h0M243.4 156.9h0M241.8 164.6h0M250.1 153.8h0M247.8 143h0M236.8 159.4h0M244.1 150.6h0M242.5 150.2h0M247.8 169.1h0M238.3 171.9h0M241.6 160h0M249 155.1h0M243.5 147.7h0M249 165.2h0M238.2 154.9h0M258.3 156.9h0M242.6 155h0M250.6 156.8h0M246.5 159.6h0M239.4 162.9h0M249.5 160.3h0M248.6 153.4h0M252.2 175.4h0M235.9 166.2h0M242.6 151.1h0M265.3 143.8h0M255.4 153h0M240.8 153.2h0M225.8 151.6h0M244.1 152.3h0M235.4 165.4h0M238.6 157.5h0M246.9 159.1h0M247 151.6h0M234.3 158.3h0M231 161.8h0M251.6 161.2h0M259.7 151.8h0M251.5 155.4h0M251.3 148.3h0M244.9 160.5h0M239.4 143.3h0M242.5 160.2h0M238.1 169.4h0M239.8 154.8h0M239.9 162.6h0M247.5 153.2h0M240.4 154.9h0M235.9 151.3h0M235.7 159.9h0M245.2 159.7h0M234.4 142.5h0M256.7 168.2h0M245 165.8h0M246.6 165.9h0M248.9 152.5h0M258.4 146.8h0M240.2 150.3h0M240.2 157.9h0M239.8 169.8h0M249.1 171h0M242 153.1h0M245 168h0M238.6 152.3h0M253.2 144.5h0M228.8 154.8h0M240 151.6h0M229.9 159h0M250 160.9h0M241 164.1h0M253.4 165.5h0M236.4 159.8h0M241.4 141.8h0M246.3 162.6h0M248.9 153.9h0M246.4 157h0M247.9 164.9h0M233.9 160.7h0M234.8 152.5h0M260.3 146.4h0M247.8 154h0M238.3 166.6h0M248.6 167h0M246.6 157.6h0M250.3 155.9h0M244.9 160.9h0M229.6 160.5h0M249.9 148.7h0M255.6 162.9h0M236.2 152.4h0M240.2 138.5h0M246.7 167.5h0M239.4 145.8h0M228.7 157h0M232.4 146.2h0M240.3 164.5h0M229.7 163.1h0M222.6 162h0M262.3 154.5h0M241.8 165.3h0M246.9 159.9h0M236.9 147.4h0M247.7 162.9h0M256.4 156.1h0M248.2 155.3h0M253.9 151.5h0M241.1 151.8h0M240.7 156.1h0M257.8 163.2h0M235.3 160.4h0M239.8 147.7h0M230.7 141.4h0M257.3 158.9h0M245.6 159.2h0M249.7 151.5h0M250.3 150.7h0M260.2 156.6h0M249.9 157.6h0M244.3 155.1h0M243.6 154.3h0M236.9 158.5h0M238.9 165.6h0M238.1 160.9h0M242.8 168.1h0M241.9 165.1h0M237.1 156h0M253.3 153.9h0M239.9 160.3h0M255.3 167.5h0M253.6 166.8h0M238.7 156.9h0M242.2 144.9h0M248.2 156.7h0M252 155.8h0M237.2 149.2h0M256.6 146.4h0M234.1 143.8h0M240.5 151.5h0M254 138.7h0M230.4 165.3h0M253.9 152.3h0M241.4 178.2h0M247.7 157.8h0M222.1 139.3h0M223 162.6h0M244 155.1h0M250.4 158.1h0M236.5 160h0M226.3 166.4h0M260.6 160.3h0M243.3 143.1h0M252.9 155.1h0M250.2 158.2h0M236.4 150.2h0M245.2 145.1h0M241.8 159.7h0M246.9 157.9h0M241.4 163.5h0M246.2 154.2h0M259.4 155.6h0M229.2 154.7h0M263.3 158.3h0M237.3 158.6h0M219.9 161.3h0M242.4 167.8h0M248.9 162.7h0M228.5 163.3h0M249.4 142.4h0M254.6 154.4h0M239.7 159h0M252.2 159.8h0M247.5 149.5h0M236.4 161.7h0M247.8 156.4h0M243 160.7h0M243.5 143.4h0M255.5 167.5h0M244.4 156.1h0M244.3 166.7h0M242.9 155.8h0M238.3 155h0M223.5 169.5h0M244.9 153.9h0M242.6 160.2h0M245.6 148.8h0M251.6 156.7h0M240.1 149.4h0M248.6 150h0M241.7 163.2h0M245.6 161.2h0M253.7 149.7h0M225.6 153.5h0M255.3 148.3h0M240 163.3h0M252.2 148.7h0M244.5 165.1h0M231.1 155.9h0M237.1 162.3h0M247.8 148.8h0M226.6 163.1h0M255 156.1h0M241.1 152.4h0M234.4 166.5h0M244.2 145.4h0M252.6 156.1h0M252.5 159h0M234.1 169.8h0M246.3 150h0M247.2 156.8h0M240.6 149.1h0M243.6 167.2h0M255.6 160.5h0M247.3 156.4h0M252.9 154.2h0M254.4 154.3h0M240.1 160.8h0M249.5 162.3h0M251.8 157.8h0M236.2 163.8h0M242.8 144h0M250.5 156.1h0M236.4 143.6h0M241.7 157h0M240.4 147.4h0M245.5 160h0M245.6 163.9h0M235.1 158.7h0M219.7 150.3h0M260.8 163.4h0M242.8 168.3h0M245.5 155.1h0M250.3 165.9h0M238.9 161.9h0M241.9 140.3h0M242.3 157.2h0M239.7 151.3h0M265.6 146.4h0M256.9 163.4h0M252.9 155.8h0M254.6 148.2h0M249.5 168.5h0M245.1 160.3h0M247.8 156.2h0M252.9 167.6h0M237.8 157.9h0M246.7 159.5h0M243.8 156.4h0M252.9 156.8h0M246.1 169.8h0M221.9 169.3h0M247 173.3h0M247.5 157.2h0M244 162.1h0M240.5 151h0M247 156.7h0M239.9 155.6h0M254.1 156h0M240.9 165.6h0M244.9 163.4h0M231.9 151.5h0M238.8 172h0M237.9 143.9h0M243.1 166.5h0M234.7 152.3h0M247.5 154.9h0M242.4 153.4h0M257 152.1h0M242.6 167.1h0M247.8 145h0M249.5 165.4h0M245.6 147.2h0M238.7 153.6h0M264.8 140.1h0M247.9 165.4h0M259.8 147.2h0M255.4 152.7h0M255 144.3h0M244.2 152h0M249.8 157.8h0M248.3 159.6h0M257.4 152.1h0M268.3 152.5h0M259.6 149.6h0M259.1 142h0M258.4 151.1h0M256.8 152.3h0M257.2 145.4h0M257.6 151.8h0M257.2 147.1h0M254.7 146.1h0M254.1 147.9h0M269.1 149.3h0M257 160.5h0M262 151.7h0M263 156.2h0M260.7 139.4h0M259.9 154.2h0M249.6 153.2h0M261.5 147.7h0M250.8 160.2h0M251.6 160h0M255.8 150.6h0M269.2 149.6h0M266.3 162.7h0M266.8 145.7h0M260.2 146.2h0M261.3 138.6h0M262.4 163.8h0M246.9 142.3h0M257 143.2h0M255.4 157.1h0M255.4 150.3h0M258.6 156.4h0M260.8 147.6h0M252 160.6h0M245.6 155.8h0M257.6 157.1h0M253.9 153.6h0M257.7 148.3h0M262.6 148.7h0M264.3 158.2h0M261.2 149.3h0M251.2 157.7h0M260.2 151.4h0M249.9 157h0M266.8 145.4h0M258 142.9h0M252 154.1h0M263.3 153.9h0M250.7 149h0M267.2 168.8h0M258.5 160.8h0M255.7 162.3h0M273.3 155.2h0M257.8 157.1h0M251.5 156.1h0M258.8 140h0M259.3 141.2h0M251.1 152.5h0M254.9 163.4h0M280.1 151.3h0M259 157.3h0M254 159.9h0M263.7 154.3h0M256.6 151.1h0M250.1 151.5h0M256.5 149.3h0M255.2 152.3h0M260.7 145.2h0M253.3 146h0M251.5 154.3h0M258.3 151.2h0M242.4 160.8h0M256.4 146h0M253.2 142.3h0M246.6 153h0M260.8 151.8h0M259.1 145.6h0M252.6 148.7h0M264 153.1h0M243.5 162.1h0M252.3 160.2h0M260.1 157.6h0M272.5 146.6h0M249.6 155.2h0M266.8 146.5h0M251.3 145.8h0M254.6 137.2h0M254.2 148.5h0M260.9 155h0M256.6 144.3h0M260.5 152.3h0M260.2 139.8h0M263.2 148.3h0M259.5 162.9h0M258.3 155.6h0M262 156h0M260.2 159.3h0M262.9 156.7h0M257.3 148.3h0M255.6 152.4h0M263.9 139.2h0M246.6 159.8h0M261.6 145.3h0M254.6 151.9h0M256.3 136.6h0M256.3 160.7h0M248.1 162.2h0M265.4 154.1h0M269.3 146.5h0M259.8 147.5h0M262.3 145.3h0M251.6 156.8h0M254.2 151.9h0M256 161h0M253.3 140.3h0M270.4 156.7h0M259.8 152.3h0M252.4 147.9h0M257.1 140.7h0M260.3 154.1h0M241.5 154.8h0M262.7 156.6h0M262.9 146.9h0M246.8 154.9h0M259.5 146.8h0M258.5 152.3h0M255.4 154.5h0M257.5 159.6h0M261.4 154.1h0M260.7 155.4h0M260 151.1h0M262.9 148.4h0M263.2 152.8h0M257.2 154.1h0M249.9 154h0M264.1 146.2h0M252.4 150.8h0M262.1 161.2h0M259.6 149.7h0M262.1 150h0M247 167.5h0M269.5 153.6h0M265.2 142.6h0M258 160.1h0M265.8 151.6h0M260.7 148.6h0M263.3 144.6h0M248.9 163h0M258.4 152.1h0M262.2 152.7h0M256.4 138.3h0M265.8 143.3h0M263.8 157h0M257 152.8h0M250.9 159h0M258.5 160.6h0M260.8 148.6h0M256.1 154.8h0M261.2 148.5h0M259.7 160.5h0M247.7 139.2h0M253.6 155.3h0M246.5 159.1h0M253.1 147.3h0M241.5 163.8h0M255 156h0M252.8 155.9h0M248 151.5h0M264.8 150.4h0M254.3 143.9h0M260.5 159h0M254 156.9h0M257.2 143.9h0M253.2 153.8h0M258.2 160.4h0M254.6 148.4h0M264.4 164.4h0M261.8 153.8h0M265.3 147.1h0M269.5 148.8h0M255.1 158.3h0M248.8 149.4h0M260.6 146.2h0M259.6 162.4h0M255.1 154.2h0M258.5 146.9h0M266.1 149.3h0M245 160.8h0M244.6 159h0M250.2 151.5h0M256.2 144.7h0M264.1 154.7h0M263.2 151.5h0M260.3 142.7h0M250.6 153.5h0M266.8 156.5h0M258.8 151.2h0M255 161.6h0M253.4 159.5h0M264.1 149.8h0M261.8 160h0M260.6 150.9h0M263.9 156.5h0M262.4 142.2h0M268.4 157.4h0M250.7 163.1h0M263.4 147.5h0M259.6 158h0M265.1 140.3h0M257.3 153.1h0M264.7 147.9h0M265.7 154.1h0M259.6 154.4h0M254.1 154.7h0M255.8 149h0M255.7 152h0M252.6 161.3h0M266.2 158h0M268.5 144.5h0M243.6 158.3h0M255 152.4h0M256.4 156.5h0M265.1 152.3h0M263.4 156.3h0M253.3 143.6h0M255.8 160h0M256.5 145.1h0M256.5 157.3h0M261.4 145.1h0M256.3 154.6h0M255.3 133.9h0M256.4 140.4h0M256.6 149.6h0M245.2 152.5h0M257.8 154.4h0M255 161.9h0M248.5 152.2h0M253.7 153.3h0M256.4 155.9h0M253.1 140h0M250.8 156.5h0M255.7 160.4h0M251.7 147h0M263.2 150.7h0M277.2 144.3h0M265 157h0M264.1 139.9h0M255.2 140.1h0M252.6 160.6h0M257.3 157.8h0M261.4 159.4h0M258 165.6h0M257.3 145.1h0M255.9 150.3h0M264.1 159h0M249.8 152.6h0M259.2 153.9h0M251.7 144.6h0M250.5 154.9h0M257.3 147.3h0M254.8 158.2h0M269.7 156.7h0M262.4 152.8h0M254.6 152.9h0M256 150.3h0M242.1 154.2h0M258 158.9h0M255.2 136.5h0M268.7 146.6h0M258.9 154.2h0M265.9 154.4h0M285.8 150.3h0M294.8 127h0M316.7 113.2h0M259.5 157h0M311 135.5h0M264.3 159.3h0M264.5 143.2h0M291.3 141.8h0M263.4 138.3h0M297 133.9h0M309.8 133h0M323 107.8h0M321.7 138.4h0M307 146.7h0M312.7 131.2h0M301.4 134.3h0M282.4 145.9h0M281.5 129.3h0M279.2 154.3h0M281.7 140.1h0M264.6 141.8h0M285.7 142h0M315.8 138.8h0M289.1 140.3h0M290.4 127.7h0M294.7 136.8h0M291.6 132h0M293.5 130h0M312.3 129h0M320.9 118.9h0M268.8 146h0M302.7 132.6h0M269.4 148.5h0M309.5 112.7h0M288.8 145.9h0M294.4 128.8h0M278.6 136.4h0M268.5 149.9h0M296.2 143.1h0M261.8 139.8h0M304.5 145h0M279.9 123.5h0M288.7 142.5h0M278.6 130.9h0M304 143.4h0M279.3 133.7h0M290.2 150.8h0M302.9 136.1h0M288.4 133.1h0M269.4 145.4h0M272 140.4h0M282.6 125.9h0M319.2 120.8h0M271.9 138.9h0M269.3 152.3h0M276.6 154.1h0M313 130.3h0M300 141.3h0M303.2 134.4h0M284.1 138.4h0M321.6 132h0M265.4 140.1h0M310.7 117.6h0M284.6 146.4h0M293.9 135.3h0M268.2 141.7h0M305.1 154.8h0M322.6 121.8h0M317.1 97.3h0M260.7 157.2h0M268.3 128.4h0M300.5 134.7h0M300.8 141.2h0M269.4 143.8h0M296.2 134.7h0M316.8 116h0M297.9 125.6h0M298 138.7h0M278.3 139.7h0M302.6 136.6h0M296.6 135.5h0M292.2 131.7h0M294.5 131.4h0M272.1 151.4h0M280.2 139.7h0M301.7 137.9h0M261.3 139.4h0M292.8 126.3h0M267.1 167.1h0M285.9 134.7h0M296.7 143.7h0M262.1 146.4h0M317.6 131.7h0M278.8 146.8h0M272.2 128.3h0M285.1 146.6h0M299.7 138.3h0M261.4 153.8h0M308.2 118.5h0M260.1 142.6h0M260.5 145.7h0M300.3 115.7h0M259.8 160.3h0M322.4 142.7h0M262 150.5h0M314.6 131.8h0M286.9 137.6h0M264.4 155.2h0M306.1 132.3h0M271.3 151h0M306.7 141.8h0M321.9 125.4h0M286.3 122.2h0M318.3 111.2h0M299.5 147.1h0M277.3 120h0M321.8 136.9h0M282.4 133.8h0M314.9 138.9h0M312.5 135.7h0M312.1 121.7h0M303 150.2h0M261.2 155.9h0M259.8 156.1h0M315 122.7h0M265.3 145h0M268.6 152.1h0M309.4 131.8h0M299.3 141.4h0M296.5 119.7h0M295.6 137.9h0M290.6 148.9h0M267 141.3h0M305.5 108.8h0M295.8 141.2h0M283.4 136.6h0M295.6 131.1h0M317.4 116.7h0M309.1 132.2h0M312.8 146.3h0M272.2 143.9h0M282.2 155.2h0M289.7 138.7h0M280 135h0M287.8 145h0M274.7 157.9h0M284 138.5h0M303.5 131.7h0M322.6 120h0M279.1 163.4h0M273.6 151.6h0M263.6 149.5h0M315.6 115.9h0M294.2 125.6h0M293.8 132.7h0M271.3 152.9h0M289.4 113.3h0M275.4 148.1h0M294.3 137.6h0M302.6 116.6h0M280.5 134.8h0M308.8 144.5h0M300 146.4h0M271.9 140.3h0M313 105.1h0M263.5 156.3h0M290.9 131.8h0M316.9 140h0M310.1 133.1h0M278.4 149.3h0M291.4 142.6h0M295 137.5h0M314.8 130h0M270.4 153.3h0M284.3 137.2h0M322.2 121.3h0M273.2 128.7h0M270.5 143.7h0M309.3 120.1h0M283.7 140.2h0M265.1 157h0M308.4 125.3h0M292.6 113h0M271.1 150.4h0M319.8 106.8h0M294.8 142.2h0M271 149.5h0M272.8 139.5h0M300.4 139.4h0M297.8 113.9h0M314.1 101.3h0M293.5 122.9h0M301.6 129.7h0M286.9 120.9h0M307.3 133h0M279.9 144.8h0M309.3 107.9h0M296 132.3h0M306.9 134h0M291.5 124.3h0M309.1 112.6h0M277.1 138.2h0M298.8 133h0M275.3 137.7h0M318.4 137.3h0M308.2 106.6h0M277.8 144.6h0M320.8 121.6h0M301.5 119.2h0M292.7 126.2h0M304.1 135.3h0M301 104h0M264.2 142.3h0M280.1 158.4h0M306.7 110.8h0M264.1 162.6h0M314.7 124h0M305.1 105.4h0M290.8 119.1h0M322.4 136.9h0M304.1 137.2h0M286.5 149.7h0M274.2 145.4h0M277.2 132.2h0M305.8 145.4h0M305.2 142.5h0M303.8 130.8h0M259.4 170.9h0M273.5 136.2h0M290.9 128.6h0M313.9 119.7h0M261.3 147.1h0M316.7 142h0M277 134.6h0M289.8 141h0M321.9 137h0M266.9 152.5h0M259.2 153.6h0M313.9 118.1h0M276.5 128.7h0M272.5 149.5h0M306.6 133.7h0M264.5 139.8h0M314.4 120.1h0M305.4 142.3h0M282.5 134.2h0M308.5 118.9h0M297.1 127.3h0M291.4 129.8h0M259.9 143.2h0M268.5 145.4h0M318 106h0M312 109h0M280.9 167.7h0M300.6 139.7h0M285.6 130.6h0M322.2 121.7h0M280.5 148.7h0M302.9 125.1h0M317.6 125.4h0M307.4 148.3h0M266.7 150h0M299.4 127.3h0M304.2 146.9h0M263.5 156.9h0M300 130.6h0M286.3 149.8h0M298.8 128.3h0M318.1 124.3h0M272 138.5h0M267.1 136.2h0M268 162.7h0M283.9 121.6h0M276.5 140.5h0M293.2 126.2h0M291.3 135.6h0M304.8 125.6h0M281.9 136.7h0M265.5 146.7h0M312.3 121h0M317.4 97.9h0M315.1 117.3h0M302.8 136.2h0M264.9 133.2h0M262.3 145.2h0M319.7 123.9h0M309.4 121.2h0M302.5 129h0M269.4 153.8h0M275.2 155.5h0M291.5 130.6h0M301.5 105.7h0M305.4 131.8h0M317.8 125.4h0M311 140.3h0M292.5 137h0M309.5 135.3h0M294.1 136.6h0M274 132.8h0M316.8 122.6h0M307.2 124.1h0M298.5 118.1h0M298.2 144.2h0M305.2 125.3h0M317.5 142.1h0M304.7 131.3h0M267.6 149.3h0M283.5 130.8h0M292.5 145h0M308.1 82.1h0M284.6 146.2h0M270.3 164.5h0M301.4 119.1h0M317.3 125.7h0M312.6 127.9h0M312.8 118.2h0M287.5 144.4h0M307.8 115.7h0M318.3 101h0M271.4 153.7h0M284.5 132.4h0M282.5 140.8h0M271.5 151h0M302.9 129.4h0M287.2 138.3h0M281.7 124.5h0M260.6 144.3h0M317.3 138.6h0M279.4 143.9h0M269.4 132.4h0M322.9 128.2h0M262.7 159.1h0M278.7 164.1h0M269.3 134.9h0M299 102.5h0M309 110.2h0M313.1 125.1h0M275.9 149.8h0M261.8 154.8h0M272.3 147.5h0M271.3 131h0M278.9 150.2h0M285.3 134.3h0M312.7 105.3h0M295.9 121.3h0M312.2 127.2h0M266.1 147.2h0M307.4 145.7h0M273 146.7h0M278.5 138.1h0M306.2 103.4h0M270 148h0M290.9 139.3h0M277 142.4h0M304.9 145.6h0M272.9 131.8h0M305.6 124h0M259.5 142.7h0M283.9 156.3h0M294.3 147.6h0M302.7 149.2h0M294.1 133.4h0M261.3 160.5h0M296.1 141.4h0M286.1 133.8h0M274.5 150.4h0M317.8 100.6h0M290.2 133.6h0M294.1 139.1h0M308.8 124.7h0M270.9 154.8h0" fill="none" stroke="#222" stroke-width="1.15" stroke-linecap="square"/>
<rect x="202.3" y="53.4" width="122.7" height="128.4" fill="none" stroke="#111" stroke-width="1.1"/>
<line x1="240.8" y1="53.4" x2="240.8" y2="181.8" stroke="#111" stroke-width="1.4"/>
<line x1="264.4" y1="53.4" x2="264.4" y2="181.8" stroke="#111" stroke-width="1.4"/>
<line x1="201.5" y1="53.4" x2="201.5" y2="181.8" stroke="#222" stroke-width="1.2" stroke-dasharray="0.7 0.7"/>
<line x1="202.3" y1="182.60000000000002" x2="325" y2="182.60000000000002" stroke="#222" stroke-width="1.2" stroke-dasharray="0.7 0.7"/>
<text x="199.9" y="54.9" font-size="5" text-anchor="end" transform="rotate(-90 199.9 54.9)" stroke="#000" stroke-width="0.2">1023</text>
<text x="199.9" y="182.3" font-size="5" text-anchor="middle" transform="rotate(-90 199.9 182.3)" stroke="#000" stroke-width="0.2">0</text>
<text x="194.6" y="119.1" font-size="5.4" text-anchor="middle" transform="rotate(-90 194.6 119.1)" stroke="#000" stroke-width="0.2">Empty</text>
<text x="203.1" y="188.8" font-size="5" text-anchor="middle" stroke="#000" stroke-width="0.2">0</text>
<text x="322" y="188.8" font-size="5" text-anchor="middle" stroke="#000" stroke-width="0.2">1023</text>
<text x="265.1" y="193.8" font-size="5.4" text-anchor="middle" stroke="#000" stroke-width="0.2">Empty</text>
<text x="262" y="17.8" font-size="18.3" text-anchor="middle" textLength="49" lengthAdjust="spacingAndGlyphs">no.13</text>
<text x="208.4" y="52.8" font-size="19.4" text-anchor="start" textLength="24" lengthAdjust="spacingAndGlyphs">R3</text>
<text x="240.4" y="52.8" font-size="19.4" text-anchor="start" textLength="24" lengthAdjust="spacingAndGlyphs">R2</text>
<text x="284.4" y="52.8" font-size="19.4" text-anchor="start" textLength="24" lengthAdjust="spacingAndGlyphs">R1</text>
<path d="M403.4 160.1h0M393.1 165.3h0M401.5 156.3h0M386.4 160.2h0M391.2 168.5h0M387.7 166.9h0M408.4 147.8h0M389.5 166.1h0M397 159.6h0M393.6 168.1h0M393.9 164.6h0M386.6 164.1h0M388.4 170.4h0M404.2 155.2h0M403.8 158.3h0M393.9 162.4h0M388.9 161.1h0M397.6 162h0M386.2 165.2h0M404.8 153.1h0M400.8 161.1h0M396.9 159.1h0M397.2 157.2h0M392.6 171.1h0M383.3 169.1h0M388.8 161.5h0M401.8 159.4h0M399 160.1h0M397.1 162.8h0M394 157.7h0M394.7 162h0M402.5 155.6h0M394.1 161.2h0M390.8 162.7h0M397.8 160.8h0M397 159.7h0M382.7 169h0M396.5 163.1h0M391 164h0M404.7 159.3h0M392.7 164.3h0M389.8 161.8h0M390.9 159.8h0M401 157.6h0M401.7 159.8h0M386.8 164.8h0M399.5 165.9h0M389.6 159.6h0M398.5 155.6h0M399.7 159.9h0M398.4 157.5h0M396 162.2h0M397.8 162h0M409 159.8h0M388.1 168.9h0M401.7 161h0M397 161.9h0M397.6 166.2h0M396.6 163.3h0M401.9 157.1h0M389.4 167.2h0M399.2 155.9h0M400.2 160.5h0M402.1 168h0M393.3 165.9h0M390.6 161.2h0M397.6 159.8h0M395.4 159.3h0M400.3 162.1h0M401.1 163.1h0M405.5 163h0M394.6 165.9h0M396.4 156.5h0M392.1 156.2h0M403.7 157.4h0M393 159.1h0M380.9 169.4h0M401.3 159.8h0M409.4 159.3h0M389 164.6h0M399.2 154h0M386.7 164h0M402.9 161.5h0M393.7 166.7h0M400.3 156.9h0M399.3 159.4h0M401.5 160h0M400 157h0M403.1 157.1h0M396.6 158.6h0M387.8 170.7h0M404.8 157.9h0M390.5 165.5h0M395.3 161.4h0M392 159.1h0M387 154.2h0M390.3 157.2h0M399.7 166.4h0M389.6 163.4h0M397.6 162.4h0M396.2 160.8h0M390 163.3h0M408.4 159.6h0M390.7 160.8h0M403.4 155h0M392.7 162.8h0M397.2 161.8h0M398.3 156.6h0M399.1 160.4h0M395.1 155.1h0M389.5 156.2h0M400.1 159.7h0M392.1 156h0M402.7 155.8h0M407.4 164.2h0M396.7 162.3h0M392.2 162.4h0M399.1 158.4h0M395.4 166.5h0M399.2 158.1h0M407.7 154h0M396.2 165.6h0M411 158.8h0M397.2 158.2h0M398.9 155.5h0M390.5 165.9h0M397.1 165.6h0M392.8 157.4h0M397.8 161.2h0M393 162.3h0M396 165.4h0M400.4 164.7h0M403.1 160.2h0M383.7 171.4h0M397.7 164.1h0M406 152.9h0M407.7 154.1h0M403.5 161.1h0M403.3 160.6h0M395.9 166.5h0M396.5 159.8h0M395.8 165.6h0M401.1 156.3h0M395.7 158.6h0M401.6 163.2h0M396 168.4h0M390.5 161.7h0M391.3 161.6h0M398.1 168.4h0M393.5 156.6h0M396.2 160.9h0M392.3 168.7h0M387.4 153.6h0M395.1 165h0M396.8 168.4h0M403.8 152.3h0M392 161.6h0M391.2 159.9h0M391.5 163.5h0M403.4 157h0M394.3 167.7h0M387.3 159.9h0M399 160.2h0M403.1 158.5h0M392.1 163.1h0M395.6 161.6h0M409.9 154.5h0M397.7 161.8h0M392.4 166.4h0M385.7 166.7h0M387.7 171.2h0M390.9 170.8h0M403.7 154.1h0M390.8 155.5h0M399.8 169.6h0M396.3 165.1h0M386.5 165.7h0M402.5 157.5h0M388 166.6h0M391.9 158.5h0M395.6 165.2h0M391.1 170.5h0M391.4 159.6h0M385.5 164.3h0M395.5 158.5h0M389.8 160.1h0M404.8 149.8h0M387.1 164.6h0M395 161.3h0M390.6 160h0M409.2 151.3h0M390.8 165.4h0M400.2 159.5h0M391.9 158.2h0M399 156.6h0M395.1 156.9h0M393.5 166.5h0M396.1 166.7h0M403.1 156.2h0M386.8 163.9h0M400.8 161.1h0M398.4 162.8h0M395.7 161.8h0M398.8 164.1h0M389.8 162.3h0M393.3 160.4h0M393.3 167.3h0M400.2 159h0M400.2 161.3h0M394.1 157.3h0M386.7 158.1h0M399 160.6h0M396.6 158.9h0M391.8 161.8h0M390.8 170.2h0M397.2 160.6h0M399.7 158.1h0M400 157.1h0M390.2 158.8h0M411 158.4h0M389.1 161.2h0M401.2 155.8h0M404.7 163.7h0M398.2 158.9h0M403.1 162.4h0M396.2 162.8h0M395.2 162.3h0M395.3 168.4h0M395.9 161.2h0M393.9 175.5h0M392.2 165.2h0M391.2 157h0M401.3 160.3h0M399.4 147.8h0M390.7 161.5h0M392.7 156.9h0M402.3 159.7h0M399.5 163.2h0M387.3 161.2h0M405.2 159.4h0M393.2 169.2h0M408.1 161.8h0M390.7 164h0M402.9 158.9h0M396 161.4h0M400.8 159.9h0M397 161.4h0M389.9 158.4h0M392.2 167.7h0M393.6 162.1h0M400.7 165.4h0M389 163.1h0M398.2 164.8h0M389.8 162.9h0M395.3 167.8h0M391.2 157.5h0M390.2 159.5h0M387.5 158.7h0M405 160.7h0M392.3 160.3h0M389.2 161.7h0M402.9 158.1h0M397.9 161.4h0M401.7 162.6h0M405 158.5h0M394.3 168.2h0M393.6 161.3h0M403 165.1h0M395.4 164.2h0M389.4 163.7h0M391.8 159.6h0M381 163.8h0M385.5 172.4h0M399 161.7h0M396.8 164.8h0M390.2 166.2h0M395.8 164.7h0M393.7 165.5h0M397.4 165.3h0M384.5 175.3h0M396 161.1h0M401.4 162.4h0M389.7 169.2h0M400.3 162.3h0M401.6 159.8h0M394.5 169h0M392.3 159.7h0M392.7 160h0M386.9 160.7h0M411.6 151.9h0M397.9 165.5h0M393.1 164.9h0M397.1 168.7h0M391.3 160.1h0M396.9 158.3h0M400.8 164.1h0M388.6 162.2h0M396.3 161h0M391.5 159.1h0M398.8 156.1h0M394.1 159.5h0M395.7 165.1h0M395.6 167.8h0M395.1 161.1h0M399.9 164.1h0M388.7 166.7h0M384.5 167.8h0M410.6 155.9h0M391.8 165.4h0M405.9 162.4h0M395.4 161.9h0M392 165.5h0M386.7 167.8h0M403.3 153.6h0M394.5 159.3h0M398.6 160.1h0M395.3 157.1h0M399.2 161.2h0M394.8 158.3h0M392.8 165.2h0M394.5 163.8h0M403.1 157.7h0M395.6 163.6h0M403.9 157.1h0M407.7 154h0M394.9 163.9h0M394.5 161.3h0M400.5 158.1h0M404.8 164.2h0M396.2 166.7h0M390.3 165.6h0M392.4 166.3h0M387.6 160h0M394.3 158.4h0M389.9 172.3h0M392.8 159.2h0M393 161h0M390.1 158.2h0M398.5 156.6h0M394.5 157.1h0M396.5 163.1h0M392.5 162.4h0M391 167.6h0M396.8 158.5h0M394.4 158.8h0M404.9 163.2h0M397.5 164.6h0M392.5 162h0M382.9 163.6h0M400.7 157.8h0M399.7 153.3h0M394 158h0M404.1 156.8h0M386.1 165.4h0M394.4 168.1h0M395.7 158.7h0M394.6 162.6h0M404.2 160.9h0M390.8 163.1h0M402.3 157h0M396.5 163.1h0M402.9 155.7h0M386.4 163.5h0M382.7 160.3h0M399.5 162.6h0M388.9 165h0M386.3 162.6h0M393.2 169.1h0M396 157h0M389 165.2h0M406.2 157.3h0M393 161.8h0M400.4 163.7h0M395.5 167.8h0M387.3 170.2h0M400.8 158.6h0M400.1 155.4h0M396.3 160.4h0M398.3 158.9h0M390.1 164.5h0M395.2 161.6h0M391.9 163.3h0M397.7 160.2h0M399.3 157.2h0M399.2 156.7h0M400.7 154.6h0M399.6 162.6h0M409 152.7h0M403 156.3h0M396.3 165.6h0M398.5 161.9h0M393.8 170.2h0M404.7 162.9h0M389.9 161.7h0M399.2 163.3h0M396 160.5h0M396.9 159.1h0M400.4 161.3h0M387 156.3h0M393.9 165.9h0M400.2 157.8h0M392.6 153.7h0M383 161.1h0M395.9 160.3h0M397.8 161.7h0M397.8 165.7h0M393.8 155.2h0M381.7 161.7h0M383.6 168.9h0M401 161.3h0M392.8 168.2h0M395.4 162.3h0M392.5 168.5h0M396.9 159.5h0M402.4 157.3h0M404.5 154h0M380.3 160.5h0M395.5 165.6h0M398.5 157h0M387.4 169h0M399.9 162.2h0M404.2 157.8h0M393 167.5h0M399.4 166.8h0M388.8 168.8h0M405.5 151.7h0M394.8 163.3h0M400 155.4h0M391.6 154.6h0M394.9 157.5h0M382.9 166.1h0M392.2 155.2h0M394.9 166.6h0M406.9 160.3h0M396 166.1h0M399.8 159.4h0M394.5 163.5h0M392.9 165.2h0M388.2 159.5h0M401 165h0M389.6 162.1h0M408.7 157.9h0M394.3 163h0M397.5 161.6h0M402.1 155.6h0M399.1 154.4h0M394.8 163.9h0M412.7 163h0M387.4 173.3h0M398.1 164.8h0M402 167.3h0M395.3 163.2h0M390 159.2h0M393.8 160.5h0M393.1 161.8h0M393.6 162h0M395.5 164.2h0M398.5 161.3h0M390.7 167.2h0M398.5 155.5h0M388.8 165.5h0M398.6 156.6h0M400 164.5h0M396.3 157.9h0M397.4 161.8h0M389.5 163h0M395.7 161.4h0M404.4 154.1h0M391.6 162h0M394.3 161.6h0M405.2 154.8h0M396.3 163.8h0M395.2 160.3h0M393.3 158.2h0M396.2 165.8h0M407.5 168.5h0M394.6 162.4h0M401.6 155.3h0M404.2 152.7h0M397.8 160.4h0M401.7 159.6h0M389 165.5h0M399.8 157.8h0M389.9 159h0M397.8 166.5h0M398.7 156.7h0M399 161.6h0M391.6 158.7h0M397.3 161h0M393.8 166.1h0M385.6 166.3h0M402.2 156.4h0M392.3 156.9h0M394.8 165.6h0M401.5 154.3h0M393.9 166.8h0M395.7 170.7h0M396.4 155.6h0M397.6 163.7h0M400 161.9h0M403.1 160.4h0M407.4 158.9h0M397.1 164.6h0M388.9 162.5h0M398 164.4h0M399.2 161.9h0M393 162.7h0M398.3 157.9h0M403 157.6h0M392 165.4h0M398.1 165.2h0M395.1 163.2h0M395.5 160.9h0M401.9 153.2h0M401 155.9h0M390.1 159.5h0M403.3 164.1h0M410.1 158.7h0M382.8 159.3h0M396.4 164.3h0M392.9 158.5h0M397.5 162.3h0M402.5 162.8h0M391.3 165.1h0M391.9 160.2h0M394.8 165.8h0M393.5 169.8h0M397 160.7h0M399.5 161.1h0M398.3 164.2h0M396.2 160.8h0M389.3 161.5h0M396.9 160.9h0M393.4 154.8h0M396.1 164.3h0M391.3 160.8h0M394.9 164.8h0M392 159.3h0M396.5 157.3h0M396 165.9h0M400.9 158.6h0M392.4 163.8h0M390.7 160.1h0M393.7 160.4h0M397.5 161.9h0M398.1 161.6h0M389.5 165.2h0M389.5 160.8h0M399.7 162.4h0M399.5 159.3h0M401.5 163.1h0M396.2 165.1h0M392.3 157.6h0M384.9 168.7h0M398.8 157.6h0M391.7 170.5h0M386.5 163.3h0M402.2 155.9h0M392 157.7h0M395 159.4h0M395 155.8h0M393.2 170.5h0M394.3 161.3h0M397.6 163.6h0M394.8 166.1h0M394.8 161.5h0M397.4 154.8h0M385 163.3h0M398.5 164.9h0M396.5 161.3h0M390.5 160.6h0M406.7 155.3h0M400.4 155.9h0M395.4 158h0M391.6 162.3h0M400 155.2h0M394.5 163.1h0M398.7 160.8h0M396.8 158.1h0M391.8 159.6h0M398.2 161.7h0M389.1 166.1h0M395.8 158h0M385.2 162.5h0M397.1 165.3h0M400.8 158.3h0M398.5 164.3h0M389.9 160.1h0M403.8 157.4h0M395 163.5h0M386.6 161h0M395.5 157h0M392.1 158.8h0M392.1 160.6h0M403.7 161.4h0M401.1 159.7h0M390.9 162.4h0M399.6 162.9h0M394.6 164h0M391.8 163.6h0M400.6 161.7h0M402.9 160.5h0M392.3 158.7h0M403.8 161.2h0M399.3 164.6h0M393.8 163.6h0M400 164.8h0M393.3 164.9h0M396.6 165.8h0M388.7 153.4h0M397.2 166.6h0M400.7 164.7h0M385.7 158.7h0M402.9 162.2h0M390.1 161.7h0M407.2 155.4h0M399.7 164.6h0M386.3 163.3h0M401.6 159h0M396 156.3h0M391.5 158.9h0M400.6 162.2h0M396.7 160.8h0M399.3 164h0M394.8 161.5h0M396.2 161.3h0M397.4 161.7h0M393.3 158.5h0M392.5 163.8h0M391.2 167.3h0M398.5 160.7h0M395.3 160h0M395.1 159.2h0M406 156.7h0M394.6 155.8h0M399.9 166.3h0M403.4 158.1h0M400.7 164.1h0M391.4 165.4h0M399.1 164.5h0M392.2 159.2h0M392.6 162.2h0M391.2 169.4h0M395.6 162h0M388.2 160.5h0M400.5 156.6h0M393.3 166.6h0M395.6 161h0M395.1 163.9h0M390.6 166h0M395.6 163.4h0M405.2 159.3h0M398.5 162.3h0M395.1 165.4h0M393.4 167.9h0M384.7 160.3h0M390.3 161.8h0M395.4 163.7h0M400 162.1h0M398.4 162h0M401.4 156.1h0M396.4 157.2h0M398.8 154.7h0M395.4 167.3h0M397.2 160.1h0M394.1 162.9h0M394.6 166.5h0M405.4 161.1h0M390.2 169.2h0M391.5 163.1h0M404.1 156.5h0M392.1 167.4h0M390 163.8h0M400.8 161.6h0M404.8 151.3h0M396.9 169.1h0M402 159.7h0M399.7 156.5h0M390.6 163h0M397 163.9h0M399.8 160.6h0M393.9 155.2h0M397 155.1h0M395.2 157.9h0M392 162.3h0M401.9 167.4h0M399 161.4h0M402 158.7h0M395.6 166.3h0M412 158.7h0M394.3 164.7h0M394.4 161.2h0M388.8 160h0M394.6 159.7h0M384.6 167.3h0M394.4 163.4h0M392.4 161.5h0M398.3 164.3h0M385.4 162.4h0M394.3 158.1h0M387.6 166h0M372.4 170.3h0M377 163.7h0M370.6 166.3h0M371.7 171.2h0M372.5 171.4h0M378.9 166.3h0M378 165.4h0M393.5 163.7h0M374.2 169.3h0M381.2 168.3h0M389.5 161.2h0M395.1 162.1h0M364.2 171.4h0M386.3 168.7h0M377.9 164.7h0M382.8 170.6h0M378 178.4h0M381.8 171.1h0M381.5 171.1h0M375.7 170.1h0M400.3 166.8h0M374 170.5h0M388.9 162.6h0M386.5 167h0M382.7 169.4h0M380.6 170h0M372.2 172.5h0M394.6 162.7h0M376.9 168.4h0M378.9 163.4h0M381.7 169.1h0M386.3 164.8h0M377.3 170.6h0M382.8 172.3h0M375.8 164.8h0M387.6 161.8h0M378.9 169.6h0M380 169h0M390.3 165.8h0M390.8 167.3h0M384.3 160.8h0M376.9 170.3h0M377.9 173.4h0M379.9 169.6h0M396.4 165.3h0M367.7 166.9h0M388.1 165.6h0M383.7 164h0M378.1 167.6h0M382.8 161h0M391.2 164.2h0M373 165.9h0M381.5 163h0M382.2 166.2h0M386.2 168.5h0M377.5 160h0M376.1 165h0M386.3 163.1h0M390.9 169.5h0M388.1 172.6h0M382.2 165.7h0M388.6 161.7h0M375.6 169.3h0M380.8 169.6h0M376.4 170.4h0M389.4 160.5h0M386.8 160h0M382.4 170.5h0M377.5 167.2h0M388.6 161.2h0M375.9 165h0M378.3 165.7h0M387.9 160.5h0M378.3 166.9h0M384.6 167.7h0M382.4 164.7h0M370.9 171.6h0M397 161.9h0M378.1 174.1h0M375.5 166.6h0M386.3 164.4h0M385.7 168.1h0M392.3 168.4h0M385.2 167.1h0M370.5 166.4h0M380 164.9h0M390.2 164.5h0M377.4 168.7h0M381.3 162.1h0M387.4 160.2h0M386.8 168.4h0M387.9 162.2h0M381 165.5h0M379.7 171.7h0M381.2 164.4h0M379.4 175.2h0M376.5 164.4h0M383.3 162.7h0M376.8 169.5h0M375.2 171.1h0M385.2 165.7h0M378.6 166.6h0M373.2 170.2h0M371.9 174.3h0M372.8 172.7h0M392.2 159.8h0M390.1 167.1h0M385.9 169.9h0M378.2 166.9h0M371.3 168.6h0M385.8 173.2h0M365.7 171.5h0M381 166.6h0M374.3 166.6h0M382.6 169.3h0M392.6 163.6h0M386.7 159.4h0M378.5 168.4h0M370.3 170.3h0M384.7 157.6h0M385.5 165.4h0M373.4 171.8h0M369.6 174.4h0M382.5 165.7h0M375.8 169h0M376.5 166h0M386 167.9h0M378.8 171.9h0M378.7 160.1h0M381.7 164h0M385.6 161h0M379.6 170.5h0M388.6 162.2h0M377.4 164.1h0M381.7 167.1h0M393.9 162.3h0M383.8 167.6h0M383.1 163h0M384.8 168.9h0M384.7 166.7h0M383.8 167.1h0M367.4 175.8h0M379.2 175.1h0M371.8 162.1h0M386.4 167.5h0M383.9 174.2h0M383.4 163.1h0M383 171.2h0M388.2 167.3h0M378 167.1h0M379.8 160.3h0M380.9 159.7h0M384.8 170.6h0M381.8 166.7h0M391.3 160.3h0M398.7 165.4h0M378.9 159.5h0M375.8 167h0M392.4 168h0M379.5 170h0M385.3 164.7h0M381.5 164.7h0M376.6 169.4h0M384.9 159.2h0M381.5 166.8h0M390.5 164.7h0M390.4 164.1h0M389.4 164.6h0M375.7 171.3h0M384.6 159.7h0M394.1 165.2h0M398.4 167.1h0M376.2 164.9h0M371.7 166h0M384.3 164.2h0M373.8 167.4h0M388 165.7h0M388.6 165.3h0M384.1 167.5h0M372.8 169.5h0M385.1 168.8h0M368.8 175.3h0M390.5 165.7h0M376.7 163.7h0M380.6 172.4h0M378.9 170.7h0M380.6 170.4h0M382.2 165.2h0M378 168.5h0M380.7 164.3h0M377 165.4h0M390.1 165.7h0M375.4 169.5h0M370 171.5h0M373.8 169.3h0M379.3 165.7h0M382.6 165.3h0M381.5 166h0M374.3 166.3h0M390.4 161.1h0M372.8 167.5h0M371 166.7h0M380.4 168.8h0M376.8 168.9h0M381.8 170.3h0M382.2 165.9h0M385.3 166.3h0M381.8 158.8h0M388.5 164.3h0M372.5 166.8h0M385.6 175.4h0M380.7 165.8h0M382 166.5h0M380.8 162.3h0M384.3 167.3h0M380.3 159.9h0M376 170.1h0M384 165.9h0M383.8 161.7h0M389.4 163.7h0M382.1 167.1h0M380.3 163.7h0M373.4 172.5h0M378.8 171h0M376.9 163.8h0M366.8 168.3h0M373 169.7h0M378 171.3h0M371.9 168.9h0M362 178.8h0M379.2 163.7h0M394.2 165.1h0M376.4 169.1h0M384.9 162.9h0M375.4 166.7h0M381.6 162.9h0M379.1 168.3h0M376.1 172.8h0M383.6 164h0M389.3 164.3h0M378.7 170.8h0M374.1 171.2h0M384.1 166.1h0M366.5 170.7h0M379.9 171h0M381.7 165.1h0M374.9 173.2h0M379.7 166.5h0M380.1 161.9h0M382.8 170.2h0M387 168h0M386.4 165.5h0M390.1 168.5h0M386.7 164.3h0M375.8 165.8h0M397 162.2h0M376.7 168.6h0M390.5 164h0M391.7 167h0M390.6 170.5h0M380.7 168.2h0M378.5 163.4h0M377.8 166.6h0M394.3 161.2h0M379 170.1h0M368.4 168.6h0M387.8 161.7h0M383.5 159h0M387 173.9h0M375.9 165.4h0M379.2 164.6h0M399.1 165.7h0M396.7 163.8h0M371.9 168.8h0M387.9 167.6h0M392.5 167.6h0M380.5 164h0M380.4 169.2h0M381.7 164.6h0M393.5 159.5h0M394.5 164.2h0M370.7 169.6h0M379.1 171h0M378.4 167.9h0M382.2 163.6h0M375.7 164.3h0M382.2 164.3h0M390.2 169.4h0M392.6 167h0M384.5 162.5h0M388.1 171h0M383 162.7h0M381 167.4h0M382.3 161h0M378.2 171h0M374.4 170.4h0M380.3 166h0M381.3 173.1h0M371.2 166.9h0M386.8 170.6h0M388.2 174h0M397.6 161.3h0M370.7 167.6h0M381.6 168.5h0M379.4 168.2h0M381.2 170.2h0M378 165.8h0M385.4 170.8h0M378.5 162.1h0M386.7 160h0M372.7 172.6h0M367.2 177h0M379.3 171.2h0M374.5 171h0M380.6 164.3h0M385.7 172.2h0M392 165.8h0M375.1 168.5h0M379.2 172.4h0M413.8 155.1h0M395.2 154h0M414.8 148.5h0M392.6 155.4h0M409.9 150.6h0M406 156.8h0M399.8 165.7h0M394.2 164.2h0M400.4 146.9h0M381 169.1h0M392.3 158.6h0M410.4 157.2h0M393.6 150.6h0M403.6 151.6h0M407.6 157.9h0M402.3 158.9h0M394.1 156.7h0M404.1 162h0M393.7 154.1h0M401.8 151.3h0M397.7 161.2h0M407.1 150.1h0M375.8 157.8h0M393.8 153.7h0M414 153.3h0M392 156.6h0M401.2 152.1h0M388.2 157.8h0M408.1 149.3h0M405.8 147h0M393.2 150.6h0M402.2 161h0M397.8 154.8h0M403.2 146.9h0M402 158.2h0M419.3 152h0M393.2 152.3h0M396.8 161.3h0M391.2 151.4h0M391.2 157.8h0M396.4 158h0M393.3 156.9h0M405.6 147.9h0M397.3 163.4h0M387.5 159.4h0M378.9 154.2h0M400.6 154.9h0M388.3 163h0M393.9 153.6h0M396.8 153.1h0M404.8 165.6h0M398.4 148.8h0M395.9 156.2h0M399.3 163.2h0M419.3 150.8h0M405.9 156.6h0M412.5 145.3h0M410.6 147h0M406.5 145.7h0M403.9 153.8h0M407.4 158.8h0M378.4 157.4h0M401.7 159.4h0M398.1 161.9h0M393.1 156.7h0M401.4 150.4h0M399.6 152.1h0M406.3 158h0M385.8 164h0M398.2 159.4h0M419.5 154h0M404.5 158.9h0M406.4 161.2h0M408.6 152.1h0M396.9 163.6h0M414.8 154.7h0M412.9 166h0M390 148.1h0M415.8 150.9h0M409 149.5h0M397.3 155.8h0M390.4 166.4h0M401.5 151h0M401.8 162.4h0M407.7 152.9h0M406.9 155.4h0M398.1 150.1h0M412.3 159.1h0M390.8 152.8h0M403.5 154.4h0M391.9 152.2h0M402 153.8h0M403.7 157.7h0M403.8 153.8h0M406.6 151.5h0M389.3 163h0M398.1 149.5h0M394.8 150.6h0M409.7 147.7h0M419.9 149.9h0M403.2 147.6h0M403.9 148.7h0M399.3 147.7h0M403.4 165.9h0M409.8 153.9h0M392.7 159.6h0M397.9 149.6h0M403.3 155.1h0M400.3 160.9h0M394.8 159.9h0M398.4 163h0M396.9 150.8h0M404.3 154.4h0M403.4 156.1h0M390.1 153.5h0M419.8 146.8h0M406.3 139.5h0M389.9 155.6h0M397.4 158.1h0M386 160.3h0M403.8 163.9h0M398.5 159h0M391.7 154.5h0M414.6 148.9h0M409.3 148.5h0M399.8 152.4h0M411.9 154.7h0M399.1 164h0M384.3 165.1h0M408.1 151.2h0M402.6 147.3h0M385.1 152.1h0M401.1 150.8h0M412.4 156.8h0M392.9 155.5h0M399.9 159.1h0M399.3 160.1h0M401.6 157.5h0M415.1 157.3h0M405.4 153.6h0M414.1 157.1h0M396.3 146.7h0M394.7 159.5h0M397 162.3h0M411 143.6h0M399.1 160.3h0M388.7 155.2h0M395.8 153.8h0M379.5 164.2h0M405.8 151.5h0M375.6 161.2h0M401.5 155.4h0M397.4 159h0M401.6 152.2h0M373 163.8h0M408.5 154.5h0M411 157.9h0M417 145.1h0M396.9 140.7h0M412.9 142.7h0M390 159.3h0M404.5 148.3h0M401 162.9h0M411 153.4h0M404.2 156.3h0M399.4 163.8h0M406.2 157.5h0M385 157.7h0M400.1 150.1h0M407.5 160.5h0M436.7 123.5h0M431.5 143.8h0M419.3 153.4h0M460.9 128.2h0M457.9 113.5h0M414 154.9h0M432 145h0M426.5 147.8h0M413.2 149.9h0M445.6 130.7h0M407.5 149.8h0M414.8 157.4h0M409.8 159.9h0M437.4 144.4h0M410.3 158.7h0M408.7 147.3h0M437.5 134.6h0M411.8 160.5h0M446.4 133.2h0M403.5 155.2h0M439.5 138.1h0M411.2 147.8h0M464.7 117.9h0M458.5 117.2h0M433.9 150.7h0M459.4 138.5h0M450.2 119.3h0M412.6 147h0M436.1 138.3h0M448.1 124.9h0M453.5 138h0M433.9 141.3h0M466 145h0M455.7 139.9h0M446.9 108.3h0M453.9 143.8h0M458.6 127.3h0M451.9 128.8h0M442.9 126.9h0M425.7 157.3h0M414.7 154.3h0M437 146.6h0M421.9 157.6h0M446.6 128.3h0M445.5 114.4h0M451.5 126.6h0M465.5 142.9h0M464.2 141.7h0M454.4 138h0M404.5 158h0M452.3 129.3h0M417.4 156.7h0M433.3 134.5h0M411.9 162.1h0M416.8 147.7h0M420.2 134.7h0M464.2 137.8h0M431.5 141.8h0M412.5 152.2h0M431.6 146.8h0M429 139.2h0M462.2 150.9h0M465.6 116.6h0M462.1 135h0M438.2 153.2h0M452.3 157h0M415.3 162.3h0M464.9 131.3h0M461.4 144.1h0M422.6 156.2h0M469.8 116.6h0M419.6 142.4h0M466.4 143.7h0M423.6 156.4h0M463.9 150.5h0M451.1 127.3h0M441 151.7h0M416.1 169h0M468.2 133.9h0M405.8 157.7h0M461 123.1h0M415.4 151.8h0M426.3 152.5h0M470 114.8h0M421.8 140.3h0M455 116.5h0M420.6 144.1h0M469 137.7h0M404.8 146.4h0M467.7 146.2h0M454.2 151.7h0M407 156.1h0M416.7 158h0M464.3 137h0M407.8 159.9h0M447.7 129.9h0M406.2 154h0M414.7 152.7h0M422.1 144.6h0M447.3 152.8h0M444.6 124.9h0M466.6 108.6h0M439.5 140.4h0M420.5 146.4h0M470 133.3h0M439.1 133.5h0M405.2 153.2h0M424.1 160.4h0M404.9 145.1h0M455.6 145.9h0M417.4 138.6h0M405 158.8h0M464.3 138.3h0M444.1 141.8h0M417.6 152.6h0M457.6 125.5h0M407.7 155.1h0M443.1 126.5h0M434 129.3h0M456.9 102.4h0M416.1 160.7h0M428 144.5h0M467.6 139.8h0M426.1 151.7h0M452.8 142h0M422.4 159h0M460 122.8h0M412.5 150.7h0M455.8 126.9h0M449.4 141.6h0M419 162.3h0M437.1 132.3h0M444.3 140h0M420.8 148.2h0M433.4 150h0M450.1 134.5h0M430.5 130h0M406.2 146.9h0M459.6 120.9h0M449.8 125.1h0M456.6 146h0M460.7 143.7h0M414 157.1h0M419.2 146.8h0M429.9 143.6h0M423 161h0M421.4 154.7h0M464.6 126.9h0M443.6 145.5h0M416.5 145.9h0M417 149.1h0M403.4 143.5h0M462.6 128.4h0M462.5 129.9h0M462.1 131.6h0M428.7 153.2h0M439.5 126.7h0M425.6 145.1h0M452 131.7h0M465.4 121h0M439.1 140.5h0M421.2 157.8h0M421.1 149.2h0M410.9 163.4h0M412.4 145.7h0M440 136.3h0M426.8 156.2h0M466.9 120.6h0M423.6 171.8h0M436.3 158.1h0M445.6 132.2h0M440.8 159.1h0M427.2 148.9h0M411.9 150.9h0M409.5 149.2h0M434.2 149.3h0M438.8 138.7h0M431.9 122.1h0M430.9 146.7h0M436.1 156.9h0M432.2 135.7h0M416.8 157.1h0M420.6 149h0M456.2 143.3h0M423.8 137.2h0M410.7 151.4h0M451.5 152.9h0M445 133.2h0M460.4 118.2h0M457 146.5h0M414.6 157.3h0M406.7 155.1h0M420.4 151.4h0M430.5 149.7h0M462.7 147.6h0M467.1 132h0M411.3 147.5h0M425.6 126.8h0M442.5 121.8h0M436.8 119h0M419.8 143h0M456 132.4h0M412.3 146.9h0M439.8 144.5h0M452.2 119.6h0M418.5 143.3h0M430.5 136.3h0M433.7 147.9h0M411.3 150.2h0M453.1 146.2h0M446.9 149.3h0M438.3 134.1h0M439.6 116.7h0M434.5 145h0M430.9 144h0M444.2 144.6h0M421.6 149h0M430.2 136.9h0M447.3 153.8h0M413.6 143.3h0M461.9 149.5h0M430.1 138.7h0M420.6 139.1h0M452.7 145h0M438.9 147.6h0M454 159.1h0M469.8 135.1h0M463.8 121.9h0M460.4 121.6h0M431.4 150.9h0M468.3 127.7h0M414.7 147.4h0M423.8 154.8h0M434.6 138.8h0M405.3 160h0M406.6 147.9h0M436.1 129.6h0M468.2 139.1h0M462.2 135h0M407 155.8h0M442.6 134.9h0M411.9 158.2h0M455.3 146.2h0M411.7 155.5h0M441.1 153.4h0M465.1 139h0M408.1 151.8h0M431.5 151.4h0M426.6 143.7h0M407.8 161.1h0M435.6 142.8h0M406.4 155h0M429.1 146.9h0M412.3 153.6h0M465.1 159.4h0M440.3 148.3h0M468.7 134h0M406.3 161.1h0M413.1 149.9h0M423.4 158.7h0M414.1 161.8h0M420 162.1h0M415.4 153.3h0M452 128.9h0M419.3 152.7h0M412.7 151.8h0M431.7 137.9h0M419.3 153.3h0M421.2 154.2h0M431.8 143.8h0M409.1 152.6h0M403.2 158.2h0M436 146.1h0M464.2 138.7h0M430.6 150.2h0M432.4 146.4h0M413.7 150.4h0M412.7 151.4h0M409.9 147.2h0M445.4 135.2h0M450.7 122.3h0M437.2 144.1h0M433.8 158.1h0M417.5 137.4h0M428.2 142.7h0M422.9 143.7h0M464.4 127.2h0M435.4 131.1h0M420 160.8h0M418.5 145.8h0M444.2 144.6h0M467.5 141.5h0M469 126.6h0M462.4 111.7h0M418.3 155.6h0M406.2 138.1h0M440.3 138.3h0M463.8 121.5h0M469.8 131.9h0M421.8 146.3h0M467.7 137.9h0M459.7 120.5h0M458.4 123.5h0M418.9 154.6h0M438.3 127.7h0M463.1 138.2h0M416.4 165.9h0M442.3 142.1h0M457.7 129.3h0M450.4 147h0M450.6 148h0M458.8 127.8h0M463.7 117.8h0M449.5 139h0M440.9 136.3h0M435.1 148.8h0M420.5 145.2h0M403.3 165h0M410.3 147.2h0M456.4 120.5h0M426.6 135.4h0M445.3 131.8h0M432.6 146.2h0M418.9 142.1h0M459 145.7h0M440.8 128.6h0M418.7 152.8h0M462.5 110.8h0M466.2 124.5h0M409.7 149.3h0M415.9 159.6h0M466.1 115.2h0M443.6 133.1h0M412.8 146.6h0M422.2 156.6h0M414.7 155.9h0M421.9 138.4h0M444.4 147.7h0M425.1 151.9h0M403.9 144.6h0M448 120.7h0M406.2 158.3h0M405.2 155.5h0M432 150.2h0M447.8 142.2h0M450 144.7h0M465.9 141.6h0M450.2 135.3h0M463.1 141.5h0M456.8 155.5h0M468.9 130.2h0M417.3 137.4h0M411 161.8h0M423.2 128.5h0M424.2 122.6h0M455.2 147.8h0M427.2 145.7h0M403.5 159h0M407.2 157.8h0M462.2 123.4h0M433.7 136.9h0M428.6 153.7h0M426.3 136.7h0M468.5 125.2h0M469.9 123.2h0M433.4 146.4h0M460.4 130.6h0M417.1 148.8h0M408.7 155.7h0M406.3 158.9h0M415.2 162.9h0M408.3 140.7h0M407.6 156.8h0M415.8 154.3h0M433 149h0M413.2 144.6h0M440.3 134.3h0M461.3 119.4h0M407.8 155.3h0M441 136.1h0M469.8 117.5h0M447.7 144.9h0M416.8 159.3h0M450.1 132.2h0M460.8 134.4h0M426.6 143.1h0M461.6 112.4h0M414.4 149.3h0M417 141.2h0M437.8 140.3h0M432.4 145.4h0M416.8 145.5h0M468.3 112.3h0M435.3 155.4h0M462.2 138.6h0M469.6 133.2h0M466.1 123h0M444.6 134.9h0M457.3 138.6h0M411 151.2h0M427.8 143.2h0M431.5 155.4h0M432.5 160.2h0M442.8 148h0M421.1 144.8h0M403.2 157.7h0M458 111.5h0M450.2 146.6h0M415.9 148.7h0M419.6 137.7h0M430.8 146.2h0M439.8 149.1h0M431.7 145.2h0M432.6 126.1h0M422.8 157.8h0M434.3 139.6h0M412.3 132.2h0M436.1 130.7h0M434.6 143.4h0M403.8 151.9h0M435.6 132.8h0M423.8 140.3h0M426.9 144.5h0M410 157.9h0M439.6 145.7h0M451.9 121.2h0M446.8 138h0M464.6 139.1h0M448.6 154.4h0M418.3 144.9h0M436.5 155.9h0M466.7 98.6h0M427.5 140.3h0M440.3 139.9h0M437.1 148h0M403.9 138.2h0M418 145.9h0M432.3 126.3h0M437.8 123.9h0M461.9 134.7h0M419.9 139.7h0M443.6 143.7h0M443.2 151.5h0M424.3 146.7h0M414.4 153.2h0M448.9 112.9h0M419.9 152.7h0M468 143.8h0M447.5 134.4h0M445.5 119.8h0M424.7 158.7h0M464.5 138.3h0M413.8 140.5h0M446.9 148.1h0M448.8 97.5h0M429.6 141.2h0M454.4 137.3h0M447.6 124.4h0M410.9 153.2h0M440.4 131.8h0M411.5 143.5h0M445.5 144.4h0M421 145h0M405.2 150.8h0M416.7 158h0M455.4 135.5h0M412.6 150.6h0M450.3 122h0M424.6 147.1h0M428 141.8h0M429 144.4h0M426.4 152.8h0M454.3 135.2h0M470 125.4h0M466 134.8h0M434.6 135.7h0M417.4 147.1h0M452 155.8h0M430.4 132.2h0M415.5 164.5h0M449 120.1h0M457.8 97.3h0M431.1 146.2h0M407.2 160.3h0M438.3 131h0M461.7 125.6h0M442.7 141.6h0M441.4 133.1h0M438 136.9h0M435 147h0M433.8 148.3h0M429.3 141.7h0M440.3 138.3h0M439.2 132.4h0M467.8 140.3h0M405.2 155.8h0M438.6 145h0M435.6 139.2h0M445.4 148.3h0M446.5 122.3h0M407.2 146.2h0M444.6 135.5h0M441.3 140.2h0M452.4 124.5h0M430.3 151.4h0M446.3 140.7h0M436 124.1h0M458.3 134.2h0M435.1 148.5h0M421.2 152h0M425.1 155.3h0M410.9 161.4h0M456 144.8h0M413.4 149.6h0M411.8 141.9h0M464.1 112.9h0M420.9 154.2h0M441.7 140.3h0M447.7 147.1h0M444.4 121.7h0M449.1 146.8h0M440.5 129.1h0M450.4 145.7h0M424.3 138.4h0M418.2 143.6h0M469.8 123.7h0M425.9 126h0M416.1 156.9h0M445.5 130.9h0M410.6 150h0M436.9 150.3h0M449.3 139.7h0M433.6 137.5h0M420.7 159.2h0M460.2 123.2h0M404.8 155.7h0M468.6 150.1h0M409.2 153.6h0M451.3 138.6h0M457.6 150.1h0M455.8 115.8h0M437.2 144.2h0M408.1 150.6h0M440.2 147.3h0M439.5 143.2h0M408.3 158h0M413.3 140.6h0M439 125.9h0M417.4 136.9h0M467.2 95.7h0M422.3 158h0M449.9 105.4h0M450.6 122.3h0M405.4 154.1h0M426.9 143.8h0M467.6 127.4h0M458.8 142.8h0M403.6 162.2h0M408.1 156.9h0M466.3 150h0M447 163.5h0M445.7 129.5h0M464.8 119.4h0M441.4 147.5h0M427.6 153.4h0M403.7 156.3h0M409.2 149.6h0M406.6 155.1h0M451 167.5h0M460.2 126.6h0M429.1 126.1h0M461.9 132.2h0M439.2 132.3h0M418.3 151.7h0M457.4 111.8h0M435.2 150.1h0M443.3 156.6h0M442 151.6h0M469.2 141.5h0M404.8 155.6h0M425.2 149.4h0M433.2 144.8h0M410.9 155.6h0M466.1 99.4h0M410.8 160h0M406.6 159.3h0M423.4 156.1h0M442.2 143.2h0M407.4 161.4h0M415.9 157.7h0M442 117.2h0M445.4 147.3h0M438.8 142.7h0M451.7 147.4h0M428.6 158h0M443.3 145.5h0M444.5 146.3h0M448.1 130.6h0M433.6 151.8h0M422.9 145.7h0M446.1 133.5h0M447.7 143h0M439.5 150.2h0M430.5 154.4h0M403.6 161.4h0M446.3 127.6h0M466.8 139.4h0M427.1 156.2h0M457.7 114.2h0M436.7 125.6h0M434.2 148h0M411.2 143.4h0M418.5 146.1h0M418.6 139.3h0M423.1 149.3h0M428 145.9h0M412.2 147.1h0M410.4 159.8h0M462.9 135.6h0M440.9 128.5h0M432.9 145.9h0M403.4 160.7h0M463.7 135.8h0M418.3 144.8h0M458.6 140.4h0M452.2 120.7h0M427.7 151.1h0M421 149.6h0M423.5 144.3h0M424.7 148h0M437.5 144.1h0M437.9 133h0M417.2 139.5h0M451.3 118.2h0M462.2 108.2h0M399.3 119.6h0M408.1 120.8h0M416.9 61.9h0M421.8 102.5h0M452.1 124.9h0M398.8 69h0M418 117.9h0M406.5 77.9h0M409.3 130.2h0M397.8 128.1h0M375.9 132.8h0M381.7 134.9h0M401.3 140h0M383.8 119.4h0M368.5 112.1h0M393.6 122.1h0M375.4 136.4h0M403.5 111.8h0M364.1 135.5h0M372.8 157.2h0M391.4 156.7h0M402.8 134.7h0M376.8 155.2h0M387.4 137.5h0M365.2 138.8h0M369.2 148.4h0M371.1 157.1h0M388.5 150.7h0M406.1 132.9h0M397.4 144.5h0M393.7 149.7h0M385.4 143.4h0M383.1 146.4h0M403.3 130.4h0M397.9 134.3h0M377.7 157.3h0M373.8 144.8h0M399.2 137.9h0M406.3 136.6h0M377.4 157.9h0M386 149.8h0M404.1 132.9h0M388.6 136.8h0" fill="none" stroke="#222" stroke-width="1.15" stroke-linecap="square"/>
<rect x="348.6" y="53.5" width="123.3" height="127.7" fill="none" stroke="#111" stroke-width="1.1"/>
<line x1="387.2" y1="53.5" x2="387.2" y2="181.2" stroke="#111" stroke-width="1.4"/>
<line x1="410.8" y1="53.5" x2="410.8" y2="181.2" stroke="#111" stroke-width="1.4"/>
<line x1="347.8" y1="53.5" x2="347.8" y2="181.2" stroke="#222" stroke-width="1.2" stroke-dasharray="0.7 0.7"/>
<line x1="348.6" y1="182.0" x2="471.9" y2="182.0" stroke="#222" stroke-width="1.2" stroke-dasharray="0.7 0.7"/>
<text x="346.2" y="55.0" font-size="5" text-anchor="end" transform="rotate(-90 346.2 55.0)" stroke="#000" stroke-width="0.2">1023</text>
<text x="346.2" y="181.7" font-size="5" text-anchor="middle" transform="rotate(-90 346.2 181.7)" stroke="#000" stroke-width="0.2">0</text>
<text x="340.9" y="118.8" font-size="5.4" text-anchor="middle" transform="rotate(-90 340.9 118.8)" stroke="#000" stroke-width="0.2">Empty</text>
<text x="349.4" y="188.2" font-size="5" text-anchor="middle" stroke="#000" stroke-width="0.2">0</text>
<text x="468.9" y="188.2" font-size="5" text-anchor="middle" stroke="#000" stroke-width="0.2">1023</text>
<text x="411.8" y="193.2" font-size="5.4" text-anchor="middle" stroke="#000" stroke-width="0.2">Empty</text>
<text x="407.6" y="17.8" font-size="18.3" text-anchor="middle" textLength="49" lengthAdjust="spacingAndGlyphs">no.14</text>
<text x="353.4" y="52.9" font-size="19.4" text-anchor="start" textLength="24" lengthAdjust="spacingAndGlyphs">R3</text>
<text x="384.9" y="52.9" font-size="19.4" text-anchor="start" textLength="24" lengthAdjust="spacingAndGlyphs">R2</text>
<text x="429.4" y="52.9" font-size="19.4" text-anchor="start" textLength="24" lengthAdjust="spacingAndGlyphs">R1</text>
<text x="18.1" y="188.7" font-size="19.4" text-anchor="start" transform="rotate(-90 18.1 188.7)" textLength="141" lengthAdjust="spacingAndGlyphs">+ α-CD38 + IL-2</text>
<text x="263.7" y="236.8" font-size="19.4" text-anchor="middle" textLength="69.8" lengthAdjust="spacingAndGlyphs">Gate R1</text>
<line x1="42" y1="240" x2="486.3" y2="240" stroke="#111" stroke-width="1.5"/>
<line x1="489.8" y1="251" x2="489.8" y2="684" stroke="#111" stroke-width="1.5"/>
<text x="518.3" y="509.5" font-size="22.7" text-anchor="start" transform="rotate(-90 518.3 509.5)" textLength="58.5" lengthAdjust="spacingAndGlyphs">CD72</text>
<polygon points="62.5,383.1 62.5,382.2 62.9,375 63.4,370.4 63.8,368.5 64.3,366.9 64.7,364.8 65.2,361.9 65.6,359.9 66.1,356.6 66.5,354.5 67,356.1 67.4,354.4 67.9,350.8 68.3,349.1 68.7,345.3 69.2,343.5 69.6,340.4 70.1,338.6 70.5,339.4 71,337.6 71.4,338.4 71.9,337.2 72.3,333.4 72.8,333.2 73.2,325.5 73.7,325.2 74.1,332.9 74.5,332.3 75,330.9 75.4,330.3 75.9,333.1 76.3,332.5 76.8,324.7 77.2,324.1 77.7,329.7 78.1,330.1 78.6,324.8 79,326.1 79.5,331.2 79.9,332.4 80.4,330.4 80.8,331.6 81.2,336.2 81.7,337 82.1,336.8 82.6,337.7 83,342 83.5,342.9 83.9,341.1 84.4,342.9 84.8,343.6 85.3,345.7 85.7,347.3 86.2,349.4 86.6,351.1 87,352.4 87.5,354.7 87.9,356 88.4,358.7 88.8,359.8 89.3,360.3 89.7,361.5 90.2,362.6 90.6,363.6 91.1,364.2 91.5,365.2 92,365.4 92.4,366.4 92.8,369.4 93.3,370.4 93.7,370.2 94.2,371.1 94.6,371.6 95.1,372.2 95.5,374.3 96,374.9 96.4,374 96.9,374.6 97.3,375.4 97.8,376 98.2,376 98.6,376.6 99.1,376.1 99.5,376.4 100,377.8 100.4,378.1 100.9,378.3 101.3,378.7 101.8,379.8 102.2,380.1 102.7,380.1 103.1,380.4 103.6,380.5 104,380.8 104.4,380.7 104.9,380.9 105.3,381.7 105.8,381.8 106.2,381.6 106.7,381.8 107.1,381.9 107.6,382.1 108,382.2 108.5,382.4 108.9,382.3 109.4,382.5 109.8,382.8 110.3,382.9 110.7,382.9 111.1,382.9 111.6,383.1 112,383.1 112.5,382.9 112.9,382.9 113.4,382.9 113.8,382.9 114.3,383.1 114.7,383.1 115.2,383.1 115.6,383.1 116.1,383.1 116.5,383.1 116.9,382.9 117.4,382.9 117.8,383 118.3,383 118.7,383.1 119.2,383.1 119.6,382.9 120.1,382.9 120.5,383 121,383 121.4,383 121.9,383 122.3,383.1 122.7,383.1 123.2,383 123.6,383.1 124.1,383 124.5,383 125,383.1 125.4,383.1 125.9,383 126.3,383 126.8,383 127.2,383 127.7,383.1 128.1,383.1 128.5,383 129,383 129.4,383.1 129.9,383.1 130.3,383.1 130.8,383.1 131.2,383.1 131.7,383.1 132.1,383.1 132.6,383.1 133,383 133.5,383 133.9,383.1 134.4,383.1 134.8,383.1 135.2,383.1 135.7,383.1 136.1,383.1 136.6,383.1 137,383.1 137.5,383.1 137.9,383.1 138.4,383.1 138.8,383.1 139.3,383.1 139.7,383.1 140.2,383.1 140.6,383.1 141,383.1 141.5,383.1 141.9,383.1 142.4,383.1 142.8,383.1 143.3,383.1 143.7,383.1 144.2,383.1 144.6,383.1 145.1,383.1 145.5,383.1 146,383.1 146.4,383.1 146.8,383.1 147.3,383.1 147.7,383.1 148.2,383.1 148.6,383.1 149.1,383.1 149.5,383.1 150,383.1 150.4,383.1 150.9,383.1 151.3,383.1 151.8,383.1 152.2,383.1 152.6,383.1 153.1,383.1 153.5,383.1 154,383.1 154.4,383.1 154.9,383.1 155.3,383.1 155.8,383.1 156.2,383.1 156.7,383.1 157.1,383.1 157.6,383.1 158,383.1 158.4,383.1 158.9,383.1 159.3,383.1 159.8,383.1 160.2,383.1 160.7,383.1 161.1,383.1 161.6,383.1 162,383.1 162.5,383.1 162.9,383.1 163.4,383.1 163.8,383.1 164.3,383.1 164.7,383.1 165.1,383.1 165.6,383.1 166,383.1 166.5,383.1 166.9,383.1 167.4,383.1 167.8,383.1 168.3,383.1 168.7,383.1 169.2,383.1 169.6,383.1 170.1,383.1 170.5,383.1 170.9,383.1 171.4,383.1 171.8,383.1 172.3,383.1 172.7,383.1 173.2,383.1 173.6,383.1 174.1,383.1 174.5,383.1 175,383.1 175.4,383.1 175.9,383.1 176.3,383.1 176.3,383.1" fill="#b4b4b4"/>
<path d="M62.5 382L62.9 381.9L63.4 380.9L63.8 380.5L64.3 381.2L64.7 380.9L65.2 380.3L65.6 380.1L66.1 379.7L66.5 379.4L67 379.2L67.4 378.9L67.9 377.8L68.3 377.4L68.7 377.5L69.2 376.5L69.6 374.7L70.1 373.7L70.5 372L71 370.9L71.4 372L71.9 371L72.3 368L72.8 367L73.2 366.7L73.7 365.7L74.1 366.9L74.5 366.1L75 362.4L75.4 361.6L75.9 365L76.3 364.3L76.8 359.7L77.2 358.9L77.7 361.5L78.1 360.7L78.6 360.2L79 359.4L79.5 355.5L79.9 354.2L80.4 353.7L80.8 352.4L81.2 354.4L81.7 353.2L82.1 349.5L82.6 348.3L83 344.1L83.5 342.7L83.9 344.8L84.4 343.5L84.8 334.2L85.3 332.7L85.7 333.7L86.2 332.3L86.6 335.2L87 333.9L87.5 329.3L87.9 329.5L88.4 332.3L88.8 332.4L89.3 328.9L89.7 329L90.2 334L90.6 334.2L91.1 329.4L91.5 329.3L92 334.7L92.4 334.3L92.8 332.7L93.3 332.3L93.7 329.9L94.2 329.6L94.6 324.5L95.1 324.2L95.5 337.2L96 337L96.4 335.6L96.9 336.6L97.3 334L97.8 335L98.2 331.8L98.6 332.9L99.1 338.2L99.5 339.2L100 340.7L100.4 341.8L100.9 343.2L101.3 344.8L101.8 344.7L102.2 346.3L102.7 351.8L103.1 353.4L103.6 357.1L104 358.6L104.4 354.9L104.9 356.7L105.3 357.3L105.8 359.2L106.2 360.4L106.7 362.3L107.1 367.7L107.6 369.3L108 369.6L108.5 370.7L108.9 372.8L109.4 373.8L109.8 373.6L110.3 374.7L110.7 375.9L111.1 377L111.6 378.5L112 379.5L112.5 379.8L112.9 380.8L113.4 380.6L113.8 380.9L114.3 381.9L114.7 382.1L115.2 382.1L115.6 382.3L116.1 382.3L116.5 382.5L116.9 382.7L117.4 382.7L117.8 382.7L118.3 382.7L118.7 382.7L119.2 382.7L119.6 382.7L120.1 382.7L120.5 382.7L121 382.7L121.4 382.7L121.9 382.7L122.3 382.7L122.7 382.7L123.2 382.7L123.6 382.7L124.1 382.7L124.5 382.7L125 382.7L125.4 382.7L125.9 382.7L126.3 382.7L126.8 382.7L127.2 382.7L127.7 382.7L128.1 382.7L128.5 382.7L129 382.7L129.4 382.7L129.9 382.7L130.3 382.7L130.8 382.7L131.2 382.7L131.7 382.7L132.1 382.7L132.6 382.7L133 382.7L133.5 382.7L133.9 382.7L134.4 382.7L134.8 382.7L135.2 382.7L135.7 382.7L136.1 382.7L136.6 382.7L137 382.7L137.5 382.7L137.9 382.7L138.4 382.7L138.8 382.7L139.3 382.7L139.7 382.7L140.2 382.7L140.6 382.7L141 382.7L141.5 382.7L141.9 382.7L142.4 382.7L142.8 382.7L143.3 382.7L143.7 382.7L144.2 382.7L144.6 382.7L145.1 382.7L145.5 382.7L146 382.7L146.4 382.7L146.8 382.7L147.3 382.7L147.7 382.7L148.2 382.7L148.6 382.7L149.1 382.7L149.5 382.7L150 382.7L150.4 382.7L150.9 382.7L151.3 382.7L151.8 382.7L152.2 382.7L152.6 382.7L153.1 382.7L153.5 382.7L154 382.7L154.4 382.7L154.9 382.7L155.3 382.7L155.8 382.7L156.2 382.7L156.7 382.7L157.1 382.7L157.6 382.7L158 382.7L158.4 382.7L158.9 382.7L159.3 382.7L159.8 382.7L160.2 382.7L160.7 382.7L161.1 382.7L161.6 382.7L162 382.7L162.5 382.7L162.9 382.7L163.4 382.7L163.8 382.7L164.3 382.7L164.7 382.7L165.1 382.7L165.6 382.7L166 382.7L166.5 382.7L166.9 382.7L167.4 382.7L167.8 382.7L168.3 382.7L168.7 382.7L169.2 382.7L169.6 382.7L170.1 382.7L170.5 382.7L170.9 382.7L171.4 382.7L171.8 382.7L172.3 382.7L172.7 382.7L173.2 382.7L173.6 382.7L174.1 382.7L174.5 382.7L175 382.7L175.4 382.7L175.9 382.7L176.3 382.7" fill="none" stroke="#000" stroke-width="1.3" stroke-linejoin="round"/>
<path d="M61.0 263.4H62.5V383.1H176.3M61.0 383.1H62.5" fill="none" stroke="#222" stroke-width="1.15"/>
<line x1="61.2" y1="353.2" x2="62.5" y2="353.2" stroke="#333" stroke-width="0.7"/>
<line x1="61.2" y1="323.2" x2="62.5" y2="323.2" stroke="#333" stroke-width="0.7"/>
<line x1="61.2" y1="293.3" x2="62.5" y2="293.3" stroke="#333" stroke-width="0.7"/>
<line x1="62.5" y1="383.1" x2="62.5" y2="384.70000000000005" stroke="#222" stroke-width="0.8"/>
<text x="59.9" y="391.8" font-size="8.6" stroke="#000" stroke-width="0.2" textLength="10.8" lengthAdjust="spacingAndGlyphs">10<tspan dy="-2.8" font-size="5.4">0</tspan></text>
<line x1="91.0" y1="383.1" x2="91.0" y2="384.70000000000005" stroke="#222" stroke-width="0.8"/>
<text x="88.4" y="391.8" font-size="8.6" stroke="#000" stroke-width="0.2" textLength="10.8" lengthAdjust="spacingAndGlyphs">10<tspan dy="-2.8" font-size="5.4">1</tspan></text>
<line x1="119.4" y1="383.1" x2="119.4" y2="384.70000000000005" stroke="#222" stroke-width="0.8"/>
<text x="116.8" y="391.8" font-size="8.6" stroke="#000" stroke-width="0.2" textLength="10.8" lengthAdjust="spacingAndGlyphs">10<tspan dy="-2.8" font-size="5.4">2</tspan></text>
<line x1="147.8" y1="383.1" x2="147.8" y2="384.70000000000005" stroke="#222" stroke-width="0.8"/>
<text x="145.2" y="391.8" font-size="8.6" stroke="#000" stroke-width="0.2" textLength="10.8" lengthAdjust="spacingAndGlyphs">10<tspan dy="-2.8" font-size="5.4">3</tspan></text>
<line x1="176.3" y1="383.1" x2="176.3" y2="384.70000000000005" stroke="#222" stroke-width="0.8"/>
<text x="173.7" y="391.8" font-size="8.6" stroke="#000" stroke-width="0.2" textLength="10.8" lengthAdjust="spacingAndGlyphs">10<tspan dy="-2.8" font-size="5.4">4</tspan></text>
<text x="120.2" y="402.3" font-size="8.3" text-anchor="middle" textLength="20.8" lengthAdjust="spacingAndGlyphs">FL1-H</text>
<text x="53.2" y="320.9" font-size="8" text-anchor="middle" transform="rotate(-90 53.2 320.9)" textLength="23" lengthAdjust="spacingAndGlyphs">Events</text>
<text x="57.9" y="265.0" font-size="8" text-anchor="start" transform="rotate(-90 57.9 265.0)" textLength="7" lengthAdjust="spacingAndGlyphs" stroke="#000" stroke-width="0.2">12</text>
<text x="58.6" y="382.4" font-size="8" text-anchor="middle" transform="rotate(-90 58.6 382.4)" stroke="#000" stroke-width="0.2">0</text>
<text x="107" y="281.4" font-size="19.4" text-anchor="middle" textLength="34" lengthAdjust="spacingAndGlyphs" stroke="#000" stroke-width="0.25">#12</text>
<polygon points="204.9,382.4 204.9,382.4 205.4,379.8 205.8,377.2 206.3,374.6 206.7,374 207.2,372.3 207.6,370.5 208.1,368.8 208.5,362.5 209,360.3 209.4,359.9 209.9,357.5 210.3,353.1 210.8,350.5 211.2,345.6 211.7,342.8 212.1,341.9 212.6,339.7 213,350.1 213.5,348.5 213.9,333.4 214.4,331.2 214.8,329.3 215.3,327 215.7,323.2 216.2,320.3 216.6,317 217.1,314 217.5,319.2 218,317.3 218.4,313.5 218.9,311.5 219.3,303.1 219.8,307.8 220.2,317.5 220.7,315.3 221.1,312.1 221.6,313.1 222,316 222.5,319.9 222.9,320.1 223.4,322.5 223.8,323.9 224.3,326.2 224.7,338.6 225.2,340.5 225.6,334.9 226.1,337.5 226.5,341.5 227,345.1 227.4,350.3 227.9,351.4 228.4,356.1 228.8,356.9 229.3,361.2 229.7,363.4 230.2,364.4 230.6,366.8 231.1,365.1 231.5,365.9 232,364.5 232.4,365.4 232.9,367.6 233.3,368.5 233.8,365.6 234.2,366.7 234.7,371 235.1,371.7 235.6,373.7 236,374 236.5,371.4 236.9,370.5 237.4,370.9 237.8,370.1 238.3,367.3 238.7,366.3 239.2,370.6 239.6,370.1 240.1,366.4 240.5,365.8 241,365.2 241.4,364.6 241.9,364.2 242.3,363.6 242.8,364.1 243.2,363.5 243.7,365 244.1,364.3 244.6,358.1 245,357.3 245.5,359.8 245.9,360.6 246.4,363.5 246.8,364.5 247.3,364 247.7,366 248.2,367.9 248.6,369.2 249.1,372.5 249.5,373.6 250,374.3 250.4,375.5 250.9,374.9 251.4,375.8 251.8,376.3 252.3,377.2 252.7,379.2 253.2,379.7 253.6,379.6 254.1,380 254.5,380 255,380.4 255.4,381.3 255.9,381.7 256.3,381.5 256.8,381.6 257.2,381.9 257.7,382 258.1,382.2 258.6,382.3 259,382.4 259.5,382.4 259.9,382.4 260.4,382.4 260.8,382.4 261.3,382.4 261.7,382.4 262.2,382.4 262.6,382.4 263.1,382.4 263.5,382.4 264,382.4 264.4,382.4 264.9,382.4 265.3,382.4 265.8,382.4 266.2,382.4 266.7,382.4 267.1,382.4 267.6,382.4 268,382.4 268.5,382.4 268.9,382.4 269.4,382.4 269.8,382.4 270.3,382.4 270.7,382.4 271.2,382.4 271.6,382.4 272.1,382.4 272.5,382.4 273,382.4 273.4,382.4 273.9,382.4 274.4,382.4 274.8,382.4 275.3,382.4 275.7,382.4 276.2,382.4 276.6,382.4 277.1,382.4 277.5,382.4 278,382.4 278.4,382.4 278.9,382.4 279.3,382.4 279.8,382.4 280.2,382.4 280.7,382.4 281.1,382.4 281.6,382.4 282,382.4 282.5,382.4 282.9,382.4 283.4,382.4 283.8,382.4 284.3,382.4 284.7,382.4 285.2,382.4 285.6,382.4 286.1,382.4 286.5,382.4 287,382.4 287.4,382.4 287.9,382.4 288.3,382.4 288.8,382.4 289.2,382.4 289.7,382.4 290.1,382.4 290.6,382.4 291,382.4 291.5,382.4 291.9,382.4 292.4,382.4 292.8,382.4 293.3,382.4 293.7,382.4 294.2,382.4 294.6,382.4 295.1,382.4 295.5,382.4 296,382.4 296.4,382.4 296.9,382.4 297.4,382.4 297.8,382.4 298.3,382.4 298.7,382.4 299.2,382.4 299.6,382.4 300.1,382.4 300.5,382.4 301,382.4 301.4,382.4 301.9,382.4 302.3,382.4 302.8,382.4 303.2,382.4 303.7,382.4 304.1,382.4 304.6,382.4 305,382.4 305.5,382.4 305.9,382.4 306.4,382.4 306.8,382.4 307.3,382.4 307.7,382.4 308.2,382.4 308.6,382.4 309.1,382.4 309.5,382.4 310,382.4 310.4,382.4 310.9,382.4 311.3,382.4 311.8,382.4 312.2,382.4 312.7,382.4 313.1,382.4 313.6,382.4 314,382.4 314.5,382.4 314.9,382.4 315.4,382.4 315.8,382.4 316.3,382.4 316.7,382.4 317.2,382.4 317.6,382.4 318.1,382.4 318.5,382.4 319,382.4 319.4,382.4 319.9,382.4 319.9,382.4" fill="#b4b4b4"/>
<path d="M204.9 381.7L205.4 381.6L205.8 381.6L206.3 381.6L206.7 381.7L207.2 381.6L207.6 382L208.1 382L208.5 381.7L209 381.6L209.4 381.8L209.9 381.8L210.3 381.9L210.8 381.9L211.2 381.3L211.7 381.3L212.1 381.6L212.6 381.5L213 381.2L213.5 381.1L213.9 381L214.4 380.8L214.8 380.3L215.3 380.1L215.7 379.7L216.2 379.5L216.6 380.2L217.1 379.8L217.5 378.3L218 377.7L218.4 377.2L218.9 376.7L219.3 376.5L219.8 376L220.2 375.7L220.7 375.4L221.1 374.9L221.6 374.6L222 373L222.5 372.7L222.9 373.8L223.4 373.5L223.8 373.3L224.3 373L224.7 373.2L225.2 372.7L225.6 372.2L226.1 371.7L226.5 371.4L227 371L227.4 369.2L227.9 368.1L228.4 366.1L228.8 364.8L229.3 366.6L229.7 365.4L230.2 362.7L230.6 361L231.1 356.9L231.5 355.3L232 354.8L232.4 353.9L232.9 353.1L233.3 352.2L233.8 354.8L234.2 353.9L234.7 351.2L235.1 349.6L235.6 347.2L236 345.5L236.5 346.4L236.9 348.1L237.4 345.5L237.8 345.8L238.3 350.5L238.7 350.3L239.2 347.3L239.6 349.1L240.1 350.8L240.5 352.7L241 354.4L241.4 355.3L241.9 356.8L242.3 356.5L242.8 355.3L243.2 353.7L243.7 353.6L244.1 355.6L244.6 357.2L245 359.2L245.5 361.9L245.9 363.6L246.4 362L246.8 363.8L247.3 367L247.7 368.5L248.2 369.5L248.6 371.1L249.1 371.2L249.5 372.1L250 374.5L250.4 375.3L250.9 376.5L251.4 377.3L251.8 377.3L252.3 378L252.7 378.5L253.2 378.8L253.6 379.5L254.1 379.8L254.5 379.9L255 380.3L255.4 380.4L255.9 380.5L256.3 380.1L256.8 380.2L257.2 380.9L257.7 381L258.1 381L258.6 381.1L259 381.3L259.5 381.4L259.9 381.3L260.4 381.4L260.8 381L261.3 381L261.7 381.3L262.2 381.3L262.6 381.7L263.1 381.7L263.5 381.6L264 381.6L264.4 381L264.9 381L265.3 381.1L265.8 381.2L266.2 381.7L266.7 381.8L267.1 382L267.6 382L268 381.3L268.5 381.4L268.9 382L269.4 382L269.8 381.7L270.3 381.7L270.7 381.7L271.2 381.7L271.6 381.6L272.1 381.7L272.5 381.9L273 381.9L273.4 382L273.9 382L274.4 382L274.8 382L275.3 381.8L275.7 381.8L276.2 381.7L276.6 381.8L277.1 381.8L277.5 381.8L278 382L278.4 382L278.9 382L279.3 382L279.8 381.7L280.2 381.7L280.7 382L281.1 382L281.6 381.9L282 381.9L282.5 382L282.9 382L283.4 382L283.8 382L284.3 382L284.7 382L285.2 382L285.6 382L286.1 381.9L286.5 381.9L287 382L287.4 382L287.9 382L288.3 382L288.8 381.9L289.2 381.9L289.7 381.8L290.1 381.8L290.6 381.5L291 381.5L291.5 382L291.9 382L292.4 381.5L292.8 381.5L293.3 382L293.7 382L294.2 382L294.6 382L295.1 381.7L295.5 381.7L296 382L296.4 382L296.9 381.9L297.4 381.9L297.8 381.9L298.3 381.9L298.7 381.8L299.2 381.8L299.6 382L300.1 382L300.5 381.6L301 381.6L301.4 382L301.9 382L302.3 382L302.8 382L303.2 382L303.7 382L304.1 382L304.6 382L305 381.6L305.5 381.6L305.9 382L306.4 382L306.8 381.8L307.3 381.8L307.7 381.6L308.2 381.6L308.6 381.8L309.1 381.8L309.5 381.4L310 381.4L310.4 382L310.9 382L311.3 382L311.8 382L312.2 381.6L312.7 381.6L313.1 381.8L313.6 381.8L314 382L314.5 382L314.9 382L315.4 382L315.8 381.4L316.3 381.4L316.7 381.5L317.2 381.5L317.6 382L318.1 382L318.5 382L319 382L319.4 382L319.9 382" fill="none" stroke="#000" stroke-width="1.3" stroke-linejoin="round"/>
<path d="M203.4 265.0H204.9V382.4H319.9M203.4 382.4H204.9" fill="none" stroke="#222" stroke-width="1.15"/>
<line x1="203.6" y1="353.0" x2="204.9" y2="353.0" stroke="#333" stroke-width="0.7"/>
<line x1="203.6" y1="323.7" x2="204.9" y2="323.7" stroke="#333" stroke-width="0.7"/>
<line x1="203.6" y1="294.4" x2="204.9" y2="294.4" stroke="#333" stroke-width="0.7"/>
<line x1="204.9" y1="382.4" x2="204.9" y2="384.0" stroke="#222" stroke-width="0.8"/>
<text x="202.3" y="391.1" font-size="8.6" stroke="#000" stroke-width="0.2" textLength="10.8" lengthAdjust="spacingAndGlyphs">10<tspan dy="-2.8" font-size="5.4">0</tspan></text>
<line x1="233.7" y1="382.4" x2="233.7" y2="384.0" stroke="#222" stroke-width="0.8"/>
<text x="231.1" y="391.1" font-size="8.6" stroke="#000" stroke-width="0.2" textLength="10.8" lengthAdjust="spacingAndGlyphs">10<tspan dy="-2.8" font-size="5.4">1</tspan></text>
<line x1="262.4" y1="382.4" x2="262.4" y2="384.0" stroke="#222" stroke-width="0.8"/>
<text x="259.8" y="391.1" font-size="8.6" stroke="#000" stroke-width="0.2" textLength="10.8" lengthAdjust="spacingAndGlyphs">10<tspan dy="-2.8" font-size="5.4">2</tspan></text>
<line x1="291.1" y1="382.4" x2="291.1" y2="384.0" stroke="#222" stroke-width="0.8"/>
<text x="288.5" y="391.1" font-size="8.6" stroke="#000" stroke-width="0.2" textLength="10.8" lengthAdjust="spacingAndGlyphs">10<tspan dy="-2.8" font-size="5.4">3</tspan></text>
<line x1="319.9" y1="382.4" x2="319.9" y2="384.0" stroke="#222" stroke-width="0.8"/>
<text x="317.3" y="391.1" font-size="8.6" stroke="#000" stroke-width="0.2" textLength="10.8" lengthAdjust="spacingAndGlyphs">10<tspan dy="-2.8" font-size="5.4">4</tspan></text>
<text x="263.2" y="401.6" font-size="8.3" text-anchor="middle" textLength="20.8" lengthAdjust="spacingAndGlyphs">FL1-H</text>
<text x="195.6" y="321.4" font-size="8" text-anchor="middle" transform="rotate(-90 195.6 321.4)" textLength="23" lengthAdjust="spacingAndGlyphs">Events</text>
<text x="200.3" y="266.6" font-size="8" text-anchor="start" transform="rotate(-90 200.3 266.6)" textLength="7.6" lengthAdjust="spacingAndGlyphs" stroke="#000" stroke-width="0.2">16</text>
<text x="201.0" y="381.7" font-size="8" text-anchor="middle" transform="rotate(-90 201.0 381.7)" stroke="#000" stroke-width="0.2">0</text>
<text x="265.3" y="281.4" font-size="19.4" text-anchor="middle" textLength="34" lengthAdjust="spacingAndGlyphs" stroke="#000" stroke-width="0.25">#13</text>
<polygon points="360.4,381.3 360.4,381.3 360.8,381.3 361.3,381.3 361.7,381.3 362.2,381.3 362.6,381.3 363.1,381.3 363.5,381.3 364,381.3 364.4,381.3 364.9,381.3 365.3,381.3 365.8,381.3 366.2,381.3 366.7,381.3 367.1,381.3 367.6,381.3 368,381.3 368.5,381.3 368.9,381.3 369.4,381.3 369.8,381.3 370.3,381.3 370.7,381.3 371.2,380.4 371.6,379.5 372.1,380.5 372.5,380.3 373,376.9 373.4,376 373.8,376 374.3,375.2 374.7,380.1 375.2,380 375.6,380.9 376.1,380.9 376.5,369.7 377,369.3 377.4,369.4 377.9,369 378.3,368.2 378.8,367.8 379.2,378.1 379.7,378 380.1,380.4 380.6,380.4 381,378.6 381.5,378.6 381.9,379 382.4,379 382.8,369.1 383.3,369.3 383.7,378.8 384.2,378.5 384.6,379.8 385.1,379.6 385.5,378.5 385.9,378.2 386.4,375.4 386.8,375.1 387.3,357.6 387.7,357.6 388.2,351.2 388.6,351.2 389.1,379.8 389.5,379.6 390,340.1 390.4,335.9 390.9,345.3 391.3,341.8 391.8,331.3 392.2,327.3 392.7,324 393.1,320.8 393.6,317.5 394,314.8 394.5,313.9 394.9,311.2 395.4,305.4 395.8,304.9 396.3,308.1 396.7,279.5 397.2,281.7 397.6,309.5 398.1,309.9 398.5,309.9 398.9,301 399.4,300.5 399.8,315.2 400.3,311.6 400.7,303.6 401.2,307.9 401.6,318.6 402.1,327.8 402.5,369.1 403,370.4 403.4,340.8 403.9,345.6 404.3,376.1 404.8,376.4 405.2,359.1 405.7,360.6 406.1,371.5 406.6,370.9 407,378 407.5,377.8 407.9,374.2 408.4,374.5 408.8,376.1 409.3,376.3 409.7,349.8 410.2,351 410.6,378.1 411.1,378.2 411.5,352.4 411.9,353.4 412.4,359.6 412.8,360.3 413.3,362.8 413.7,363.4 414.2,377.6 414.6,377.7 415.1,360.5 415.5,361 416,376.6 416.4,376.7 416.9,366.2 417.3,366.5 417.8,366.1 418.2,366.5 418.7,379.6 419.1,379.6 419.6,379.3 420,379.4 420.5,379.2 420.9,379.2 421.4,377.5 421.8,377.6 422.3,372 422.7,372.9 423.2,373 423.6,374 424,373.7 424.5,374.9 424.9,380.7 425.4,380.9 425.8,381.2 426.3,381.3 426.7,381.3 427.2,381.3 427.6,381.3 428.1,381.3 428.5,381.3 429,381.3 429.4,381.3 429.9,381.3 430.3,381.3 430.8,381.3 431.2,381.3 431.7,381.3 432.1,381.3 432.6,381.3 433,381.3 433.5,381.3 433.9,381.3 434.4,381.3 434.8,381.3 435.3,381.3 435.7,381.3 436.2,381.3 436.6,381.3 437,381.3 437.5,381.3 437.9,381.3 438.4,381.3 438.8,381.3 439.3,381.3 439.7,381.3 440.2,381.3 440.6,381.3 441.1,381.3 441.5,381.3 442,381.3 442.4,381.3 442.9,381.3 443.3,381.3 443.8,381.3 444.2,381.3 444.7,381.3 445.1,381.3 445.6,381.3 446,381.3 446.5,381.3 446.9,381.3 447.4,381.3 447.8,381.3 448.3,381.3 448.7,381.3 449.2,381.3 449.6,381.3 450,381.3 450.5,381.3 450.9,381.3 451.4,381.3 451.8,381.3 452.3,381.3 452.7,381.3 453.2,381.3 453.6,381.3 454.1,381.3 454.5,381.3 455,381.3 455.4,381.3 455.9,381.3 456.3,381.3 456.8,381.3 457.2,381.3 457.7,381.3 458.1,381.3 458.6,381.3 459,381.3 459.5,381.3 459.9,381.3 460.4,381.3 460.8,381.3 461.3,381.3 461.7,381.3 462.1,381.3 462.6,381.3 463,381.3 463.5,381.3 463.9,381.3 464.4,381.3 464.8,381.3 465.3,381.3 465.7,381.3 466.2,381.3 466.6,381.3 467.1,381.3 467.5,381.3 468,381.3 468.4,381.3 468.9,381.3 469.3,381.3 469.8,381.3 470.2,381.3 470.7,381.3 471.1,381.3 471.6,381.3 472,381.3 472.5,381.3 472.9,381.3 473.4,381.3 473.8,381.3 474.3,381.3 474.7,381.3 474.7,381.3" fill="#bababa"/>
<path d="M360.4 380.1L360.8 379.8L361.3 379.3L361.7 379L362.2 379.2L362.6 378.9L363.1 379.7L363.5 379.5L364 377.7L364.4 377.5L364.9 380L365.3 379.9L365.8 377.5L366.2 377.4L366.7 377.7L367.1 377.6L367.6 378.4L368 378.5L368.5 378.4L368.9 378.7L369.4 378.3L369.8 378.5L370.3 378.6L370.7 378.8L371.2 379.4L371.6 379.3L372.1 379L372.5 378.9L373 378.1L373.4 378L373.8 379.3L374.3 379.2L374.7 377.7L375.2 377.4L375.6 376L376.1 375.5L376.5 378.1L377 377.7L377.4 373.3L377.9 372.8L378.3 375.8L378.8 375.7L379.2 374.7L379.7 375.7L380.1 378L380.6 378.8L381 379.3L381.5 379.6L381.9 379.7L382.4 379.6L382.8 379.4L383.3 379.3L383.7 377.3L384.2 377.1L384.6 377.1L385.1 376.9L385.5 379.2L385.9 379.1L386.4 378L386.8 377.9L387.3 378.3L387.7 378.2L388.2 375.9L388.6 375.7L389.1 377.1L389.5 377L390 377.9L390.4 377.8L390.9 375.8L391.3 375.8L391.8 377.4L392.2 377.7L392.7 377.3L393.1 377.5L393.6 376.9L394 377.2L394.5 378.8L394.9 379L395.4 379.5L395.8 379.7L396.3 380.5L396.7 380.4L397.2 379.1L397.6 378.9L398.1 380L398.5 379.9L398.9 377.8L399.4 377.6L399.8 376.8L400.3 374.2L400.7 373.1L401.2 370.1L401.6 366.9L402.1 363.4L402.5 369.1L403 366.9L403.4 354.7L403.9 351.5L404.3 346.6L404.8 342.5L405.2 349.9L405.7 347.1L406.1 322.5L406.6 319L407 337.5L407.5 335.5L407.9 345.3L408.4 346.2L408.8 344.9L409.3 345.9L409.7 335.5L410.2 329.4L410.6 304.6L411.1 302L411.5 321.7L411.9 322.6L412.4 321.7L412.8 318.8L413.3 333.5L413.7 329.4L414.2 305.8L414.6 310.3L415.1 302L415.5 310.6L416 301.7L416.4 305.2L416.9 306L417.3 309.5L417.8 352.8L418.2 352L418.7 316.7L419.1 315.1L419.6 326.3L420 331.2L420.5 335.7L420.9 339.7L421.4 337.8L421.8 338.5L422.3 350.9L422.7 352.5L423.2 345.2L423.6 349.9L424 352.6L424.5 357.1L424.9 372.4L425.4 374.3L425.8 374.6L426.3 376.6L426.7 370.9L427.2 369.9L427.6 376.4L428.1 376L428.5 369.5L429 369.4L429.4 373.2L429.9 374.2L430.3 376.3L430.8 377.1L431.2 375.2L431.7 374.8L432.1 376.8L432.6 376L433 372.3L433.5 371.5L433.9 371.6L434.4 371.9L434.8 373.7L435.3 374.1L435.7 368.2L436.2 368.8L436.6 372.4L437 372.8L437.5 375.1L437.9 375.9L438.4 374.1L438.8 375.2L439.3 377.4L439.7 378.3L440.2 378.7L440.6 377.4L441.1 375.8L441.5 374.6L442 377L442.4 376L442.9 369.6L443.3 368.2L443.8 370.3L444.2 370.6L444.7 368.4L445.1 369.2L445.6 375L446 375.5L446.5 372.9L446.9 372.6L447.4 375.3L447.8 375L448.3 371.1L448.7 370.7L449.2 374.8L449.6 374.5L450 371.7L450.5 372.4L450.9 376.1L451.4 376.8L451.8 376L452.3 376.8L452.7 378.4L453.2 377.8L453.6 376.2L454.1 375.6L454.5 374.5L455 373.9L455.4 367.4L455.9 366.2L456.3 372.1L456.8 373L457.2 377.4L457.7 378.4L458.1 373.4L458.6 375.1L459 378.1L459.5 376.9L459.9 376.6L460.4 375.6L460.8 374.7L461.3 373.7L461.7 368.3L462.1 366.7L462.6 375.5L463 376.3L463.5 371.7L463.9 373.5L464.4 377.8L464.8 379L465.3 380.1L465.7 380.3L466.2 380.9L466.6 380.9L467.1 379.7L467.5 380.1L468 380.8L468.4 380.9L468.9 380.5L469.3 380.5L469.8 380.6L470.2 380.7L470.7 380.9L471.1 380.9L471.6 380.5L472 380.5L472.5 380.9L472.9 380.9L473.4 380.9L473.8 380.9L474.3 380.9L474.7 380.9" fill="none" stroke="#000" stroke-width="1.3" stroke-linejoin="round"/>
<path d="M358.9 262.3H360.4V381.3H474.7M358.9 381.3H360.4" fill="none" stroke="#222" stroke-width="1.15"/>
<line x1="359.09999999999997" y1="351.6" x2="360.4" y2="351.6" stroke="#333" stroke-width="0.7"/>
<line x1="359.09999999999997" y1="321.8" x2="360.4" y2="321.8" stroke="#333" stroke-width="0.7"/>
<line x1="359.09999999999997" y1="292.1" x2="360.4" y2="292.1" stroke="#333" stroke-width="0.7"/>
<line x1="360.4" y1="381.3" x2="360.4" y2="382.90000000000003" stroke="#222" stroke-width="0.8"/>
<text x="357.8" y="390.0" font-size="8.6" stroke="#000" stroke-width="0.2" textLength="10.8" lengthAdjust="spacingAndGlyphs">10<tspan dy="-2.8" font-size="5.4">0</tspan></text>
<line x1="389.0" y1="381.3" x2="389.0" y2="382.90000000000003" stroke="#222" stroke-width="0.8"/>
<text x="386.4" y="390.0" font-size="8.6" stroke="#000" stroke-width="0.2" textLength="10.8" lengthAdjust="spacingAndGlyphs">10<tspan dy="-2.8" font-size="5.4">1</tspan></text>
<line x1="417.5" y1="381.3" x2="417.5" y2="382.90000000000003" stroke="#222" stroke-width="0.8"/>
<text x="414.9" y="390.0" font-size="8.6" stroke="#000" stroke-width="0.2" textLength="10.8" lengthAdjust="spacingAndGlyphs">10<tspan dy="-2.8" font-size="5.4">2</tspan></text>
<line x1="446.1" y1="381.3" x2="446.1" y2="382.90000000000003" stroke="#222" stroke-width="0.8"/>
<text x="443.5" y="390.0" font-size="8.6" stroke="#000" stroke-width="0.2" textLength="10.8" lengthAdjust="spacingAndGlyphs">10<tspan dy="-2.8" font-size="5.4">3</tspan></text>
<line x1="474.7" y1="381.3" x2="474.7" y2="382.90000000000003" stroke="#222" stroke-width="0.8"/>
<text x="472.1" y="390.0" font-size="8.6" stroke="#000" stroke-width="0.2" textLength="10.8" lengthAdjust="spacingAndGlyphs">10<tspan dy="-2.8" font-size="5.4">4</tspan></text>
<text x="418.3" y="400.5" font-size="8.3" text-anchor="middle" textLength="20.8" lengthAdjust="spacingAndGlyphs">FL1-H</text>
<text x="351.1" y="319.5" font-size="8" text-anchor="middle" transform="rotate(-90 351.1 319.5)" textLength="23" lengthAdjust="spacingAndGlyphs">Events</text>
<text x="355.8" y="263.9" font-size="8" text-anchor="start" transform="rotate(-90 355.8 263.9)" textLength="3.8" lengthAdjust="spacingAndGlyphs" stroke="#000" stroke-width="0.2">8</text>
<text x="356.5" y="380.6" font-size="8" text-anchor="middle" transform="rotate(-90 356.5 380.6)" stroke="#000" stroke-width="0.2">0</text>
<text x="411.5" y="281.4" font-size="19.4" text-anchor="middle" textLength="34" lengthAdjust="spacingAndGlyphs" stroke="#000" stroke-width="0.25">#14</text>
<polygon points="62.5,533.1 62.5,532.2 62.9,525 63.4,520.4 63.8,518.5 64.3,516.9 64.7,514.8 65.2,511.9 65.6,509.9 66.1,506.6 66.5,504.5 67,506.1 67.4,504.4 67.9,500.8 68.3,499.1 68.7,495.3 69.2,493.5 69.6,490.4 70.1,488.6 70.5,489.4 71,487.6 71.4,488.4 71.9,487.2 72.3,483.4 72.8,483.2 73.2,475.5 73.7,475.2 74.1,482.9 74.5,482.3 75,480.9 75.4,480.3 75.9,483.1 76.3,482.5 76.8,474.7 77.2,474.1 77.7,479.7 78.1,480.1 78.6,474.8 79,476.1 79.5,481.2 79.9,482.4 80.4,480.4 80.8,481.6 81.2,486.2 81.7,487 82.1,486.8 82.6,487.7 83,492 83.5,492.9 83.9,491.1 84.4,492.9 84.8,493.6 85.3,495.7 85.7,497.3 86.2,499.4 86.6,501.1 87,502.4 87.5,504.7 87.9,506 88.4,508.7 88.8,509.8 89.3,510.3 89.7,511.5 90.2,512.6 90.6,513.6 91.1,514.2 91.5,515.2 92,515.4 92.4,516.4 92.8,519.4 93.3,520.4 93.7,520.2 94.2,521.1 94.6,521.6 95.1,522.2 95.5,524.3 96,524.9 96.4,524 96.9,524.6 97.3,525.4 97.8,526 98.2,526 98.6,526.6 99.1,526.1 99.5,526.4 100,527.8 100.4,528.1 100.9,528.3 101.3,528.7 101.8,529.8 102.2,530.1 102.7,530.1 103.1,530.4 103.6,530.5 104,530.8 104.4,530.7 104.9,530.9 105.3,531.7 105.8,531.8 106.2,531.6 106.7,531.8 107.1,531.9 107.6,532.1 108,532.2 108.5,532.4 108.9,532.3 109.4,532.5 109.8,532.8 110.3,532.9 110.7,532.9 111.1,532.9 111.6,533.1 112,533.1 112.5,532.9 112.9,532.9 113.4,532.9 113.8,532.9 114.3,533.1 114.7,533.1 115.2,533.1 115.6,533.1 116.1,533.1 116.5,533.1 116.9,532.9 117.4,532.9 117.8,533 118.3,533 118.7,533.1 119.2,533.1 119.6,532.9 120.1,532.9 120.5,533 121,533 121.4,533 121.9,533 122.3,533.1 122.7,533.1 123.2,533 123.6,533.1 124.1,533 124.5,533 125,533.1 125.4,533.1 125.9,533 126.3,533 126.8,533 127.2,533 127.7,533.1 128.1,533.1 128.5,533 129,533 129.4,533.1 129.9,533.1 130.3,533.1 130.8,533.1 131.2,533.1 131.7,533.1 132.1,533.1 132.6,533.1 133,533 133.5,533 133.9,533.1 134.4,533.1 134.8,533.1 135.2,533.1 135.7,533.1 136.1,533.1 136.6,533.1 137,533.1 137.5,533.1 137.9,533.1 138.4,533.1 138.8,533.1 139.3,533.1 139.7,533.1 140.2,533.1 140.6,533.1 141,533.1 141.5,533.1 141.9,533.1 142.4,533.1 142.8,533.1 143.3,533.1 143.7,533.1 144.2,533.1 144.6,533.1 145.1,533.1 145.5,533.1 146,533.1 146.4,533.1 146.8,533.1 147.3,533.1 147.7,533.1 148.2,533.1 148.6,533.1 149.1,533.1 149.5,533.1 150,533.1 150.4,533.1 150.9,533.1 151.3,533.1 151.8,533.1 152.2,533.1 152.6,533.1 153.1,533.1 153.5,533.1 154,533.1 154.4,533.1 154.9,533.1 155.3,533.1 155.8,533.1 156.2,533.1 156.7,533.1 157.1,533.1 157.6,533.1 158,533.1 158.4,533.1 158.9,533.1 159.3,533.1 159.8,533.1 160.2,533.1 160.7,533.1 161.1,533.1 161.6,533.1 162,533.1 162.5,533.1 162.9,533.1 163.4,533.1 163.8,533.1 164.3,533.1 164.7,533.1 165.1,533.1 165.6,533.1 166,533.1 166.5,533.1 166.9,533.1 167.4,533.1 167.8,533.1 168.3,533.1 168.7,533.1 169.2,533.1 169.6,533.1 170.1,533.1 170.5,533.1 170.9,533.1 171.4,533.1 171.8,533.1 172.3,533.1 172.7,533.1 173.2,533.1 173.6,533.1 174.1,533.1 174.5,533.1 175,533.1 175.4,533.1 175.9,533.1 176.3,533.1 176.3,533.1" fill="#b4b4b4"/>
<path d="M62.5 530.8L62.9 530.2L63.4 530.8L63.8 530.4L64.3 530L64.7 529.5L65.2 529.4L65.6 529L66.1 529.3L66.5 529L67 528.5L67.4 528.2L67.9 527.5L68.3 527.2L68.7 527.5L69.2 527.2L69.6 525.3L70.1 524.9L70.5 526.6L71 526.2L71.4 525.4L71.9 525.1L72.3 524.1L72.8 523.7L73.2 523.4L73.7 522.8L74.1 522.1L74.5 521.5L75 521.1L75.4 520.4L75.9 518.9L76.3 518.2L76.8 520.7L77.2 522L77.7 521.7L78.1 523.1L78.6 526.1L79 525.8L79.5 523.6L79.9 522.8L80.4 524.6L80.8 524L81.2 521.5L81.7 520.7L82.1 520L82.6 519.1L83 518.3L83.5 516.9L83.9 515.2L84.4 513.8L84.8 512.5L85.3 511.1L85.7 509.8L86.2 508.4L86.6 505.6L87 504L87.5 501.7L87.9 500L88.4 501.4L88.8 499.9L89.3 497.5L89.7 495.4L90.2 493.6L90.6 491.3L91.1 490.6L91.5 488.4L92 485.9L92.4 483.8L92.8 481.3L93.3 481.6L93.7 479.6L94.2 479.9L94.6 479.4L95.1 474.4L95.5 468.4L96 460.7L96.4 455.8L96.9 455.4L97.3 454.5L97.8 454L98.2 453.7L98.6 453.3L99.1 457.6L99.5 459.1L100 458.2L100.4 464.7L100.9 472.1L101.3 479L101.8 471.3L102.2 465.8L102.7 465.5L103.1 467.8L103.6 470.7L104 473.5L104.4 478.4L104.9 481.1L105.3 483.8L105.8 486.3L106.2 488.2L106.7 490.6L107.1 494.7L107.6 497.1L108 498.6L108.5 501L108.9 504.2L109.4 507.3L109.8 508.8L110.3 512.2L110.7 515L111.1 517.3L111.6 518.5L112 519.4L112.5 521.5L112.9 522.4L113.4 523.6L113.8 524.8L114.3 525.2L114.7 526.4L115.2 527.2L115.6 528.4L116.1 529.5L116.5 530L116.9 530.2L117.4 530.7L117.8 532.2L118.3 532.6L118.7 531.8L119.2 531.8L119.6 532.6L120.1 532.6L120.5 532L121 532L121.4 532.1L121.9 532.1L122.3 532L122.7 532.1L123.2 531.9L123.6 531.9L124.1 532.5L124.5 532.5L125 531.7L125.4 531.7L125.9 532.5L126.3 532.5L126.8 532.2L127.2 532.2L127.7 531.9L128.1 531.9L128.5 532.2L129 532.2L129.4 532.1L129.9 532.1L130.3 532.4L130.8 532.4L131.2 532.4L131.7 532.4L132.1 532L132.6 532L133 532L133.5 532L133.9 532.1L134.4 532.1L134.8 532.1L135.2 532.1L135.7 532.1L136.1 532.1L136.6 532.2L137 532.2L137.5 532.4L137.9 532.4L138.4 532.4L138.8 532.4L139.3 531.8L139.7 531.8L140.2 532.6L140.6 532.6L141 532.1L141.5 532.1L141.9 532L142.4 532L142.8 532.6L143.3 532.6L143.7 532.3L144.2 532.3L144.6 532.3L145.1 532.3L145.5 532.7L146 532.7L146.4 532.4L146.8 532.4L147.3 531.9L147.7 531.9L148.2 532.3L148.6 532.3L149.1 532.4L149.5 532.4L150 532.6L150.4 532.6L150.9 531.9L151.3 531.9L151.8 532.7L152.2 532.7L152.6 532.3L153.1 532.3L153.5 532.3L154 532.3L154.4 532.4L154.9 532.4L155.3 532.4L155.8 532.4L156.2 532.1L156.7 532.1L157.1 532.3L157.6 532.3L158 532.1L158.4 532.1L158.9 532.4L159.3 532.4L159.8 532.1L160.2 532.1L160.7 532L161.1 532L161.6 531.9L162 531.9L162.5 532.4L162.9 532.4L163.4 531.7L163.8 531.7L164.3 531.8L164.7 531.8L165.1 532.4L165.6 532.4L166 532.7L166.5 532.7L166.9 531.7L167.4 531.7L167.8 532.4L168.3 532.4L168.7 531.7L169.2 531.7L169.6 531.9L170.1 531.9L170.5 532.3L170.9 532.3L171.4 532.5L171.8 532.5L172.3 532.1L172.7 532.1L173.2 532.3L173.6 532.3L174.1 532.4L174.5 532.4L175 531.7L175.4 531.7L175.9 531.7L176.3 531.7" fill="none" stroke="#000" stroke-width="1.3" stroke-linejoin="round"/>
<path d="M61.0 413.4H62.5V533.1H176.3M61.0 533.1H62.5" fill="none" stroke="#222" stroke-width="1.15"/>
<line x1="61.2" y1="503.2" x2="62.5" y2="503.2" stroke="#333" stroke-width="0.7"/>
<line x1="61.2" y1="473.2" x2="62.5" y2="473.2" stroke="#333" stroke-width="0.7"/>
<line x1="61.2" y1="443.3" x2="62.5" y2="443.3" stroke="#333" stroke-width="0.7"/>
<line x1="62.5" y1="533.1" x2="62.5" y2="534.7" stroke="#222" stroke-width="0.8"/>
<text x="59.9" y="541.8" font-size="8.6" stroke="#000" stroke-width="0.2" textLength="10.8" lengthAdjust="spacingAndGlyphs">10<tspan dy="-2.8" font-size="5.4">0</tspan></text>
<line x1="91.0" y1="533.1" x2="91.0" y2="534.7" stroke="#222" stroke-width="0.8"/>
<text x="88.4" y="541.8" font-size="8.6" stroke="#000" stroke-width="0.2" textLength="10.8" lengthAdjust="spacingAndGlyphs">10<tspan dy="-2.8" font-size="5.4">1</tspan></text>
<line x1="119.4" y1="533.1" x2="119.4" y2="534.7" stroke="#222" stroke-width="0.8"/>
<text x="116.8" y="541.8" font-size="8.6" stroke="#000" stroke-width="0.2" textLength="10.8" lengthAdjust="spacingAndGlyphs">10<tspan dy="-2.8" font-size="5.4">2</tspan></text>
<line x1="147.8" y1="533.1" x2="147.8" y2="534.7" stroke="#222" stroke-width="0.8"/>
<text x="145.2" y="541.8" font-size="8.6" stroke="#000" stroke-width="0.2" textLength="10.8" lengthAdjust="spacingAndGlyphs">10<tspan dy="-2.8" font-size="5.4">3</tspan></text>
<line x1="176.3" y1="533.1" x2="176.3" y2="534.7" stroke="#222" stroke-width="0.8"/>
<text x="173.7" y="541.8" font-size="8.6" stroke="#000" stroke-width="0.2" textLength="10.8" lengthAdjust="spacingAndGlyphs">10<tspan dy="-2.8" font-size="5.4">4</tspan></text>
<text x="120.2" y="552.3" font-size="8.3" text-anchor="middle" textLength="20.8" lengthAdjust="spacingAndGlyphs">FL1-H</text>
<text x="53.2" y="470.9" font-size="8" text-anchor="middle" transform="rotate(-90 53.2 470.9)" textLength="23" lengthAdjust="spacingAndGlyphs">Events</text>
<text x="57.9" y="415.0" font-size="8" text-anchor="start" transform="rotate(-90 57.9 415.0)" textLength="7" lengthAdjust="spacingAndGlyphs" stroke="#000" stroke-width="0.2">12</text>
<text x="58.6" y="532.4" font-size="8" text-anchor="middle" transform="rotate(-90 58.6 532.4)" stroke="#000" stroke-width="0.2">0</text>
<polygon points="204.9,532.4 204.9,532.4 205.4,529.8 205.8,527.2 206.3,524.6 206.7,524 207.2,522.3 207.6,520.5 208.1,518.8 208.5,512.5 209,510.3 209.4,509.9 209.9,507.5 210.3,503.1 210.8,500.5 211.2,495.6 211.7,492.8 212.1,491.9 212.6,489.7 213,500.1 213.5,498.5 213.9,483.4 214.4,481.2 214.8,479.3 215.3,477 215.7,473.2 216.2,470.3 216.6,467 217.1,464 217.5,469.2 218,467.3 218.4,463.5 218.9,461.5 219.3,453.1 219.8,457.8 220.2,467.5 220.7,465.3 221.1,462.1 221.6,463.1 222,466 222.5,469.9 222.9,470.1 223.4,472.5 223.8,473.9 224.3,476.2 224.7,488.6 225.2,490.5 225.6,484.9 226.1,487.5 226.5,491.5 227,495.1 227.4,500.3 227.9,501.4 228.4,506.1 228.8,506.9 229.3,511.2 229.7,513.4 230.2,514.4 230.6,516.8 231.1,515.1 231.5,515.9 232,514.5 232.4,515.4 232.9,517.6 233.3,518.5 233.8,515.6 234.2,516.7 234.7,521 235.1,521.7 235.6,523.7 236,524 236.5,521.4 236.9,520.5 237.4,520.9 237.8,520.1 238.3,517.3 238.7,516.3 239.2,520.6 239.6,520.1 240.1,516.4 240.5,515.8 241,515.2 241.4,514.6 241.9,514.2 242.3,513.6 242.8,514.1 243.2,513.5 243.7,515 244.1,514.3 244.6,508.1 245,507.3 245.5,509.8 245.9,510.6 246.4,513.5 246.8,514.5 247.3,514 247.7,516 248.2,517.9 248.6,519.2 249.1,522.5 249.5,523.6 250,524.3 250.4,525.5 250.9,524.9 251.4,525.8 251.8,526.3 252.3,527.2 252.7,529.2 253.2,529.7 253.6,529.6 254.1,530 254.5,530 255,530.4 255.4,531.3 255.9,531.7 256.3,531.5 256.8,531.6 257.2,531.9 257.7,532 258.1,532.2 258.6,532.3 259,532.4 259.5,532.4 259.9,532.4 260.4,532.4 260.8,532.4 261.3,532.4 261.7,532.4 262.2,532.4 262.6,532.4 263.1,532.4 263.5,532.4 264,532.4 264.4,532.4 264.9,532.4 265.3,532.4 265.8,532.4 266.2,532.4 266.7,532.4 267.1,532.4 267.6,532.4 268,532.4 268.5,532.4 268.9,532.4 269.4,532.4 269.8,532.4 270.3,532.4 270.7,532.4 271.2,532.4 271.6,532.4 272.1,532.4 272.5,532.4 273,532.4 273.4,532.4 273.9,532.4 274.4,532.4 274.8,532.4 275.3,532.4 275.7,532.4 276.2,532.4 276.6,532.4 277.1,532.4 277.5,532.4 278,532.4 278.4,532.4 278.9,532.4 279.3,532.4 279.8,532.4 280.2,532.4 280.7,532.4 281.1,532.4 281.6,532.4 282,532.4 282.5,532.4 282.9,532.4 283.4,532.4 283.8,532.4 284.3,532.4 284.7,532.4 285.2,532.4 285.6,532.4 286.1,532.4 286.5,532.4 287,532.4 287.4,532.4 287.9,532.4 288.3,532.4 288.8,532.4 289.2,532.4 289.7,532.4 290.1,532.4 290.6,532.4 291,532.4 291.5,532.4 291.9,532.4 292.4,532.4 292.8,532.4 293.3,532.4 293.7,532.4 294.2,532.4 294.6,532.4 295.1,532.4 295.5,532.4 296,532.4 296.4,532.4 296.9,532.4 297.4,532.4 297.8,532.4 298.3,532.4 298.7,532.4 299.2,532.4 299.6,532.4 300.1,532.4 300.5,532.4 301,532.4 301.4,532.4 301.9,532.4 302.3,532.4 302.8,532.4 303.2,532.4 303.7,532.4 304.1,532.4 304.6,532.4 305,532.4 305.5,532.4 305.9,532.4 306.4,532.4 306.8,532.4 307.3,532.4 307.7,532.4 308.2,532.4 308.6,532.4 309.1,532.4 309.5,532.4 310,532.4 310.4,532.4 310.9,532.4 311.3,532.4 311.8,532.4 312.2,532.4 312.7,532.4 313.1,532.4 313.6,532.4 314,532.4 314.5,532.4 314.9,532.4 315.4,532.4 315.8,532.4 316.3,532.4 316.7,532.4 317.2,532.4 317.6,532.4 318.1,532.4 318.5,532.4 319,532.4 319.4,532.4 319.9,532.4 319.9,532.4" fill="#b4b4b4"/>
<path d="M204.9 531.9L205.4 531.9L205.8 532L206.3 532L206.7 531.7L207.2 531.7L207.6 531.5L208.1 531.4L208.5 531.3L209 531.3L209.4 531.8L209.9 531.8L210.3 531.5L210.8 531.3L211.2 530L211.7 529.6L212.1 530.2L212.6 529.8L213 528.8L213.5 528.4L213.9 528.8L214.4 528.4L214.8 526.6L215.3 526.2L215.7 526.1L216.2 525.7L216.6 525.3L217.1 524.9L217.5 525.7L218 525.5L218.4 523.9L218.9 523.7L219.3 524.9L219.8 524.8L220.2 523.7L220.7 523.6L221.1 523.9L221.6 523.9L222 523.3L222.5 523.5L222.9 522.2L223.4 522.4L223.8 523.7L224.3 523.8L224.7 523.1L225.2 522.9L225.6 523.7L226.1 523.6L226.5 524.4L227 524.3L227.4 523.8L227.9 523.9L228.4 523.1L228.8 523.2L229.3 522.6L229.7 522.7L230.2 524.2L230.6 524.3L231.1 523.7L231.5 523.6L232 523.1L232.4 522.9L232.9 523.4L233.3 523.9L233.8 524.2L234.2 524.8L234.7 525L235.1 525.7L235.6 526.7L236 526.5L236.5 525.5L236.9 525.4L237.4 525.3L237.8 524.3L238.3 524L238.7 522.8L239.2 519.2L239.6 517.9L240.1 517.2L240.5 515.3L241 514.7L241.4 512.9L241.9 511.1L242.3 509L242.8 506.7L243.2 504L243.7 500.4L244.1 497.6L244.6 494.9L245 490.1L245.5 488.7L245.9 483.9L246.4 477.2L246.8 475.4L247.3 471.5L247.7 468.8L248.2 466L248.6 467L249.1 475.3L249.5 478.8L250 477L250.4 479.2L250.9 481.7L251.4 483.9L251.8 487.2L252.3 490L252.7 494.2L253.2 496.5L253.6 493.1L254.1 495.6L254.5 502.4L255 505.2L255.4 505.6L255.9 508.5L256.3 511.9L256.8 511.2L257.2 511.2L257.7 515.2L258.1 520.2L258.6 522.1L259 524L259.5 525.8L259.9 527.6L260.4 528L260.8 527L261.3 527.5L261.7 527.6L262.2 528.2L262.6 529.7L263.1 530L263.5 529.9L264 530L264.4 530.5L264.9 530.7L265.3 530.9L265.8 531L266.2 531.9L266.7 532L267.1 531L267.6 531.1L268 531.4L268.5 531.4L268.9 531.1L269.4 531.1L269.8 531.6L270.3 531.6L270.7 531.3L271.2 531.3L271.6 531.6L272.1 531.6L272.5 531.7L273 531.7L273.4 531.5L273.9 531.5L274.4 531.7L274.8 531.7L275.3 531.7L275.7 531.7L276.2 531.2L276.6 531.2L277.1 531.2L277.5 531.2L278 531.8L278.4 531.8L278.9 531.6L279.3 531.6L279.8 531.8L280.2 531.8L280.7 531.6L281.1 531.6L281.6 531.9L282 531.9L282.5 531.3L282.9 531.3L283.4 531.9L283.8 531.9L284.3 531.6L284.7 531.6L285.2 531.8L285.6 531.8L286.1 532L286.5 532L287 531.9L287.4 531.9L287.9 531.8L288.3 531.8L288.8 531.9L289.2 531.9L289.7 532L290.1 532L290.6 532L291 532L291.5 531.7L291.9 531.7L292.4 532L292.8 532L293.3 531.7L293.7 531.7L294.2 532L294.6 532L295.1 532L295.5 532L296 531.5L296.4 531.5L296.9 532L297.4 532L297.8 532L298.3 532L298.7 531.3L299.2 531.3L299.6 532L300.1 532L300.5 531.9L301 531.9L301.4 531.6L301.9 531.6L302.3 532L302.8 532L303.2 532L303.7 532L304.1 531.4L304.6 531.4L305 532L305.5 532L305.9 531.6L306.4 531.6L306.8 532L307.3 532L307.7 532L308.2 532L308.6 531.8L309.1 531.8L309.5 531.7L310 531.7L310.4 531.6L310.9 531.6L311.3 532L311.8 532L312.2 531.8L312.7 531.8L313.1 531.9L313.6 531.9L314 531.7L314.5 531.7L314.9 531.8L315.4 531.8L315.8 532L316.3 532L316.7 532L317.2 532L317.6 532L318.1 532L318.5 531.8L319 531.8L319.4 531.6L319.9 531.6" fill="none" stroke="#000" stroke-width="1.3" stroke-linejoin="round"/>
<path d="M203.4 415.0H204.9V532.4H319.9M203.4 532.4H204.9" fill="none" stroke="#222" stroke-width="1.15"/>
<line x1="203.6" y1="503.0" x2="204.9" y2="503.0" stroke="#333" stroke-width="0.7"/>
<line x1="203.6" y1="473.7" x2="204.9" y2="473.7" stroke="#333" stroke-width="0.7"/>
<line x1="203.6" y1="444.4" x2="204.9" y2="444.4" stroke="#333" stroke-width="0.7"/>
<line x1="204.9" y1="532.4" x2="204.9" y2="534.0" stroke="#222" stroke-width="0.8"/>
<text x="202.3" y="541.1" font-size="8.6" stroke="#000" stroke-width="0.2" textLength="10.8" lengthAdjust="spacingAndGlyphs">10<tspan dy="-2.8" font-size="5.4">0</tspan></text>
<line x1="233.7" y1="532.4" x2="233.7" y2="534.0" stroke="#222" stroke-width="0.8"/>
<text x="231.1" y="541.1" font-size="8.6" stroke="#000" stroke-width="0.2" textLength="10.8" lengthAdjust="spacingAndGlyphs">10<tspan dy="-2.8" font-size="5.4">1</tspan></text>
<line x1="262.4" y1="532.4" x2="262.4" y2="534.0" stroke="#222" stroke-width="0.8"/>
<text x="259.8" y="541.1" font-size="8.6" stroke="#000" stroke-width="0.2" textLength="10.8" lengthAdjust="spacingAndGlyphs">10<tspan dy="-2.8" font-size="5.4">2</tspan></text>
<line x1="291.1" y1="532.4" x2="291.1" y2="534.0" stroke="#222" stroke-width="0.8"/>
<text x="288.5" y="541.1" font-size="8.6" stroke="#000" stroke-width="0.2" textLength="10.8" lengthAdjust="spacingAndGlyphs">10<tspan dy="-2.8" font-size="5.4">3</tspan></text>
<line x1="319.9" y1="532.4" x2="319.9" y2="534.0" stroke="#222" stroke-width="0.8"/>
<text x="317.3" y="541.1" font-size="8.6" stroke="#000" stroke-width="0.2" textLength="10.8" lengthAdjust="spacingAndGlyphs">10<tspan dy="-2.8" font-size="5.4">4</tspan></text>
<text x="263.2" y="551.6" font-size="8.3" text-anchor="middle" textLength="20.8" lengthAdjust="spacingAndGlyphs">FL1-H</text>
<text x="195.6" y="471.4" font-size="8" text-anchor="middle" transform="rotate(-90 195.6 471.4)" textLength="23" lengthAdjust="spacingAndGlyphs">Events</text>
<text x="200.3" y="416.6" font-size="8" text-anchor="start" transform="rotate(-90 200.3 416.6)" textLength="7.6" lengthAdjust="spacingAndGlyphs" stroke="#000" stroke-width="0.2">16</text>
<text x="201.0" y="531.7" font-size="8" text-anchor="middle" transform="rotate(-90 201.0 531.7)" stroke="#000" stroke-width="0.2">0</text>
<polygon points="360.4,531 360.4,531 360.8,531 361.3,531 361.7,531 362.2,531 362.6,531 363.1,531 363.5,531 364,531 364.4,531 364.9,531 365.3,531 365.8,531 366.2,531 366.7,531 367.1,531 367.6,531 368,531 368.5,531 368.9,531 369.4,531 369.8,531 370.3,531 370.7,531 371.2,530.1 371.6,529.2 372.1,530.2 372.5,530 373,526.6 373.4,525.7 373.8,525.7 374.3,524.9 374.7,529.8 375.2,529.7 375.6,530.6 376.1,530.6 376.5,519.5 377,519 377.4,519.1 377.9,518.7 378.3,518 378.8,517.5 379.2,527.8 379.7,527.7 380.1,530.1 380.6,530.1 381,528.3 381.5,528.3 381.9,528.7 382.4,528.7 382.8,518.9 383.3,519 383.7,528.5 384.2,528.2 384.6,529.5 385.1,529.3 385.5,528.2 385.9,527.9 386.4,525.1 386.8,524.8 387.3,507.4 387.7,507.4 388.2,500.9 388.6,500.9 389.1,529.5 389.5,529.3 390,489.9 390.4,485.7 390.9,495.1 391.3,491.6 391.8,481.2 392.2,477.2 392.7,473.9 393.1,470.7 393.6,467.3 394,464.6 394.5,463.8 394.9,461.1 395.4,455.3 395.8,454.8 396.3,458 396.7,429.5 397.2,431.6 397.6,459.4 398.1,459.7 398.5,459.7 398.9,450.9 399.4,450.4 399.8,465 400.3,461.4 400.7,453.5 401.2,457.8 401.6,468.4 402.1,477.6 402.5,518.8 403,520.1 403.4,490.6 403.9,495.4 404.3,525.8 404.8,526.1 405.2,508.9 405.7,510.4 406.1,521.2 406.6,520.7 407,527.7 407.5,527.6 407.9,523.9 408.4,524.2 408.8,525.8 409.3,526 409.7,499.6 410.2,500.7 410.6,527.8 411.1,527.9 411.5,502.2 411.9,503.2 412.4,509.3 412.8,510.1 413.3,512.6 413.7,513.1 414.2,527.3 414.6,527.4 415.1,510.3 415.5,510.7 416,526.4 416.4,526.5 416.9,515.9 417.3,516.3 417.8,515.9 418.2,516.2 418.7,529.3 419.1,529.3 419.6,529 420,529.1 420.5,528.9 420.9,529 421.4,527.2 421.8,527.3 422.3,521.7 422.7,522.6 423.2,522.7 423.6,523.7 424,523.4 424.5,524.6 424.9,530.4 425.4,530.6 425.8,530.9 426.3,531 426.7,531 427.2,531 427.6,531 428.1,531 428.5,531 429,531 429.4,531 429.9,531 430.3,531 430.8,531 431.2,531 431.7,531 432.1,531 432.6,531 433,531 433.5,531 433.9,531 434.4,531 434.8,531 435.3,531 435.7,531 436.2,531 436.6,531 437,531 437.5,531 437.9,531 438.4,531 438.8,531 439.3,531 439.7,531 440.2,531 440.6,531 441.1,531 441.5,531 442,531 442.4,531 442.9,531 443.3,531 443.8,531 444.2,531 444.7,531 445.1,531 445.6,531 446,531 446.5,531 446.9,531 447.4,531 447.8,531 448.3,531 448.7,531 449.2,531 449.6,531 450,531 450.5,531 450.9,531 451.4,531 451.8,531 452.3,531 452.7,531 453.2,531 453.6,531 454.1,531 454.5,531 455,531 455.4,531 455.9,531 456.3,531 456.8,531 457.2,531 457.7,531 458.1,531 458.6,531 459,531 459.5,531 459.9,531 460.4,531 460.8,531 461.3,531 461.7,531 462.1,531 462.6,531 463,531 463.5,531 463.9,531 464.4,531 464.8,531 465.3,531 465.7,531 466.2,531 466.6,531 467.1,531 467.5,531 468,531 468.4,531 468.9,531 469.3,531 469.8,531 470.2,531 470.7,531 471.1,531 471.6,531 472,531 472.5,531 472.9,531 473.4,531 473.8,531 474.3,531 474.7,531 474.7,531" fill="#bababa"/>
<path d="M360.4 530.5L360.8 530.4L361.3 530L361.7 529.9L362.2 530.6L362.6 530.6L363.1 529.8L363.5 529.7L364 528.8L364.4 528.7L364.9 528.3L365.3 528.2L365.8 530.4L366.2 530.3L366.7 530L367.1 529.9L367.6 529.4L368 529.3L368.5 530.2L368.9 530L369.4 528.2L369.8 527.7L370.3 527.2L370.7 526.7L371.2 525L371.6 524.4L372.1 526.9L372.5 526.6L373 524.4L373.4 525.2L373.8 528.4L374.3 529L374.7 528.6L375.2 528.8L375.6 528.7L376.1 528.5L376.5 529L377 528.8L377.4 528.7L377.9 528.5L378.3 528.5L378.8 528.3L379.2 527.9L379.7 527.5L380.1 526.9L380.6 526.5L381 523.8L381.5 523.3L381.9 526.1L382.4 525.8L382.8 523.8L383.3 524.8L383.7 524L384.2 525.2L384.6 528.1L385.1 528.9L385.5 528.9L385.9 528.7L386.4 529.4L386.8 529.2L387.3 527.7L387.7 527.5L388.2 526.7L388.6 526.5L389.1 528L389.5 527.5L390 528.2L390.4 527.8L390.9 527.5L391.3 527.2L391.8 522.6L392.2 522L392.7 526.6L393.1 526.8L393.6 527.4L394 527.7L394.5 526.5L394.9 526.8L395.4 525.5L395.8 525.8L396.3 526.8L396.7 525.9L397.2 522.5L397.6 521.3L398.1 523.2L398.5 522.3L398.9 522.5L399.4 521.4L399.8 516.4L400.3 514.4L400.7 514.4L401.2 512.7L401.6 514.2L402.1 511.3L402.5 501.7L403 497.5L403.4 499.4L403.9 495.4L404.3 489.6L404.8 485.4L405.2 472.5L405.7 467.6L406.1 465.4L406.6 460.8L407 477.8L407.5 474.1L407.9 453.3L408.4 449.5L408.8 451.6L409.3 448.1L409.7 445.2L410.2 446.7L410.6 454.6L411.1 453.7L411.5 428.9L411.9 426.1L412.4 435L412.8 434.8L413.3 454.8L413.7 455.6L414.2 426.7L414.6 421.1L415.1 430.4L415.5 437.3L416 441.1L416.4 445.7L416.9 437.7L417.3 437L417.8 439.3L418.2 442.3L418.7 457L419.1 465.4L419.6 459.5L420 467.8L420.5 476.2L420.9 483.4L421.4 498L421.8 500.4L422.3 496.5L422.7 499.6L423.2 494.3L423.6 499.3L424 516.5L424.5 519.1L424.9 519L425.4 520.7L425.8 523.6L426.3 525.1L426.7 523.3L427.2 524L427.6 525.1L428.1 525.8L428.5 525.5L429 525.8L429.4 526.9L429.9 526.5L430.3 526.1L430.8 525.6L431.2 524L431.7 524.2L432.1 524.1L432.6 524.5L433 525.4L433.5 525.9L433.9 526.9L434.4 527.4L434.8 529.3L435.3 529.5L435.7 527.6L436.2 527.7L436.6 529.2L437 529.2L437.5 528.1L437.9 528.2L438.4 527.4L438.8 527.5L439.3 527.7L439.7 527.9L440.2 528.6L440.6 528.6L441.1 529.7L441.5 529.7L442 529.8L442.4 529.9L442.9 529.5L443.3 529.5L443.8 529.8L444.2 529.8L444.7 529L445.1 529L445.6 529.8L446 529.8L446.5 529.5L446.9 529.5L447.4 529.7L447.8 529.7L448.3 530.2L448.7 530.2L449.2 529.7L449.6 529.7L450 529.5L450.5 529.5L450.9 530.5L451.4 530.5L451.8 530.1L452.3 530.1L452.7 530.3L453.2 530.3L453.6 529.7L454.1 529.8L454.5 530.1L455 530.1L455.4 530.4L455.9 530.4L456.3 530.3L456.8 530.3L457.2 530.3L457.7 530.3L458.1 530.6L458.6 530.6L459 529.8L459.5 529.8L459.9 530.4L460.4 530.4L460.8 530L461.3 530L461.7 530.6L462.1 530.6L462.6 530.3L463 530.4L463.5 530.6L463.9 530.6L464.4 530.4L464.8 530.4L465.3 530.2L465.7 530.3L466.2 530.4L466.6 530.4L467.1 530.2L467.5 530.2L468 530.4L468.4 530.4L468.9 530.3L469.3 530.3L469.8 530.5L470.2 530.5L470.7 530.5L471.1 530.5L471.6 530.6L472 530.6L472.5 530.5L472.9 530.5L473.4 530.6L473.8 530.6L474.3 530.6L474.7 530.6" fill="none" stroke="#000" stroke-width="1.3" stroke-linejoin="round"/>
<path d="M358.9 412.3H360.4V531.0H474.7M358.9 531.0H360.4" fill="none" stroke="#222" stroke-width="1.15"/>
<line x1="359.09999999999997" y1="501.3" x2="360.4" y2="501.3" stroke="#333" stroke-width="0.7"/>
<line x1="359.09999999999997" y1="471.6" x2="360.4" y2="471.6" stroke="#333" stroke-width="0.7"/>
<line x1="359.09999999999997" y1="442.0" x2="360.4" y2="442.0" stroke="#333" stroke-width="0.7"/>
<line x1="360.4" y1="531.0" x2="360.4" y2="532.6" stroke="#222" stroke-width="0.8"/>
<text x="357.8" y="539.7" font-size="8.6" stroke="#000" stroke-width="0.2" textLength="10.8" lengthAdjust="spacingAndGlyphs">10<tspan dy="-2.8" font-size="5.4">0</tspan></text>
<line x1="389.0" y1="531.0" x2="389.0" y2="532.6" stroke="#222" stroke-width="0.8"/>
<text x="386.4" y="539.7" font-size="8.6" stroke="#000" stroke-width="0.2" textLength="10.8" lengthAdjust="spacingAndGlyphs">10<tspan dy="-2.8" font-size="5.4">1</tspan></text>
<line x1="417.5" y1="531.0" x2="417.5" y2="532.6" stroke="#222" stroke-width="0.8"/>
<text x="414.9" y="539.7" font-size="8.6" stroke="#000" stroke-width="0.2" textLength="10.8" lengthAdjust="spacingAndGlyphs">10<tspan dy="-2.8" font-size="5.4">2</tspan></text>
<line x1="446.1" y1="531.0" x2="446.1" y2="532.6" stroke="#222" stroke-width="0.8"/>
<text x="443.5" y="539.7" font-size="8.6" stroke="#000" stroke-width="0.2" textLength="10.8" lengthAdjust="spacingAndGlyphs">10<tspan dy="-2.8" font-size="5.4">3</tspan></text>
<line x1="474.7" y1="531.0" x2="474.7" y2="532.6" stroke="#222" stroke-width="0.8"/>
<text x="472.1" y="539.7" font-size="8.6" stroke="#000" stroke-width="0.2" textLength="10.8" lengthAdjust="spacingAndGlyphs">10<tspan dy="-2.8" font-size="5.4">4</tspan></text>
<text x="418.3" y="550.2" font-size="8.3" text-anchor="middle" textLength="20.8" lengthAdjust="spacingAndGlyphs">FL1-H</text>
<text x="351.1" y="469.3" font-size="8" text-anchor="middle" transform="rotate(-90 351.1 469.3)" textLength="23" lengthAdjust="spacingAndGlyphs">Events</text>
<text x="355.8" y="413.9" font-size="8" text-anchor="start" transform="rotate(-90 355.8 413.9)" textLength="3.8" lengthAdjust="spacingAndGlyphs" stroke="#000" stroke-width="0.2">8</text>
<text x="356.5" y="530.3" font-size="8" text-anchor="middle" transform="rotate(-90 356.5 530.3)" stroke="#000" stroke-width="0.2">0</text>
<polygon points="62.5,683.1 62.5,682.2 62.9,675 63.4,670.4 63.8,668.5 64.3,666.9 64.7,664.8 65.2,661.9 65.6,659.9 66.1,656.6 66.5,654.5 67,656.1 67.4,654.4 67.9,650.8 68.3,649.1 68.7,645.3 69.2,643.5 69.6,640.4 70.1,638.6 70.5,639.4 71,637.6 71.4,638.4 71.9,637.2 72.3,633.4 72.8,633.2 73.2,625.5 73.7,625.2 74.1,632.9 74.5,632.3 75,630.9 75.4,630.3 75.9,633.1 76.3,632.5 76.8,624.7 77.2,624.1 77.7,629.7 78.1,630.1 78.6,624.8 79,626.1 79.5,631.2 79.9,632.4 80.4,630.4 80.8,631.6 81.2,636.2 81.7,637 82.1,636.8 82.6,637.7 83,642 83.5,642.9 83.9,641.1 84.4,642.9 84.8,643.6 85.3,645.7 85.7,647.3 86.2,649.4 86.6,651.1 87,652.4 87.5,654.7 87.9,656 88.4,658.7 88.8,659.8 89.3,660.3 89.7,661.5 90.2,662.6 90.6,663.6 91.1,664.2 91.5,665.2 92,665.4 92.4,666.4 92.8,669.4 93.3,670.4 93.7,670.2 94.2,671.1 94.6,671.6 95.1,672.2 95.5,674.3 96,674.9 96.4,674 96.9,674.6 97.3,675.4 97.8,676 98.2,676 98.6,676.6 99.1,676.1 99.5,676.4 100,677.8 100.4,678.1 100.9,678.3 101.3,678.7 101.8,679.8 102.2,680.1 102.7,680.1 103.1,680.4 103.6,680.5 104,680.8 104.4,680.7 104.9,680.9 105.3,681.7 105.8,681.8 106.2,681.6 106.7,681.8 107.1,681.9 107.6,682.1 108,682.2 108.5,682.4 108.9,682.3 109.4,682.5 109.8,682.8 110.3,682.9 110.7,682.9 111.1,682.9 111.6,683.1 112,683.1 112.5,682.9 112.9,682.9 113.4,682.9 113.8,682.9 114.3,683.1 114.7,683.1 115.2,683.1 115.6,683.1 116.1,683.1 116.5,683.1 116.9,682.9 117.4,682.9 117.8,683 118.3,683 118.7,683.1 119.2,683.1 119.6,682.9 120.1,682.9 120.5,683 121,683 121.4,683 121.9,683 122.3,683.1 122.7,683.1 123.2,683 123.6,683.1 124.1,683 124.5,683 125,683.1 125.4,683.1 125.9,683 126.3,683 126.8,683 127.2,683 127.7,683.1 128.1,683.1 128.5,683 129,683 129.4,683.1 129.9,683.1 130.3,683.1 130.8,683.1 131.2,683.1 131.7,683.1 132.1,683.1 132.6,683.1 133,683 133.5,683 133.9,683.1 134.4,683.1 134.8,683.1 135.2,683.1 135.7,683.1 136.1,683.1 136.6,683.1 137,683.1 137.5,683.1 137.9,683.1 138.4,683.1 138.8,683.1 139.3,683.1 139.7,683.1 140.2,683.1 140.6,683.1 141,683.1 141.5,683.1 141.9,683.1 142.4,683.1 142.8,683.1 143.3,683.1 143.7,683.1 144.2,683.1 144.6,683.1 145.1,683.1 145.5,683.1 146,683.1 146.4,683.1 146.8,683.1 147.3,683.1 147.7,683.1 148.2,683.1 148.6,683.1 149.1,683.1 149.5,683.1 150,683.1 150.4,683.1 150.9,683.1 151.3,683.1 151.8,683.1 152.2,683.1 152.6,683.1 153.1,683.1 153.5,683.1 154,683.1 154.4,683.1 154.9,683.1 155.3,683.1 155.8,683.1 156.2,683.1 156.7,683.1 157.1,683.1 157.6,683.1 158,683.1 158.4,683.1 158.9,683.1 159.3,683.1 159.8,683.1 160.2,683.1 160.7,683.1 161.1,683.1 161.6,683.1 162,683.1 162.5,683.1 162.9,683.1 163.4,683.1 163.8,683.1 164.3,683.1 164.7,683.1 165.1,683.1 165.6,683.1 166,683.1 166.5,683.1 166.9,683.1 167.4,683.1 167.8,683.1 168.3,683.1 168.7,683.1 169.2,683.1 169.6,683.1 170.1,683.1 170.5,683.1 170.9,683.1 171.4,683.1 171.8,683.1 172.3,683.1 172.7,683.1 173.2,683.1 173.6,683.1 174.1,683.1 174.5,683.1 175,683.1 175.4,683.1 175.9,683.1 176.3,683.1 176.3,683.1" fill="#b4b4b4"/>
<path d="M62.5 682.3L62.9 682.1L63.4 682.3L63.8 682.1L64.3 681.7L64.7 681.6L65.2 681.1L65.6 680.9L66.1 681.3L66.5 681L67 680.5L67.4 679.9L67.9 678.9L68.3 678.3L68.7 679L69.2 678.4L69.6 676.2L70.1 675.6L70.5 676.1L71 675.2L71.4 675L71.9 674.2L72.3 672L72.8 671.2L73.2 669.6L73.7 668.7L74.1 668.1L74.5 666.6L75 663.7L75.4 662.2L75.9 663.2L76.3 661.8L76.8 660.2L77.2 658.8L77.7 657.5L78.1 656.3L78.6 653.7L79 652.6L79.5 655.6L79.9 654.6L80.4 657.2L80.8 656.3L81.2 645.5L81.7 644.5L82.1 640L82.6 638.5L83 647.4L83.5 646.1L83.9 644.5L84.4 643.2L84.8 640.9L85.3 635L85.7 621.6L86.2 615.1L86.6 615.9L87 618.7L87.5 615.9L87.9 618.2L88.4 622L88.8 620.2L89.3 625.2L89.7 622.4L90.2 611.1L90.6 607.4L91.1 609.2L91.5 610.9L92 620.4L92.4 622L92.8 614.9L93.3 613L93.7 606.6L94.2 606.5L94.6 614.8L95.1 618.1L95.5 616.7L96 614.2L96.4 612.7L96.9 609.7L97.3 609.3L97.8 608.6L98.2 609.2L98.6 608.7L99.1 602L99.5 605.1L100 616.7L100.4 618.5L100.9 608L101.3 609.3L101.8 615.9L102.2 617.2L102.7 617.4L103.1 618.4L103.6 624.9L104 625.8L104.4 628.9L104.9 630.2L105.3 626.3L105.8 629.3L106.2 634.2L106.7 637.3L107.1 641.5L107.6 644.2L108 645.3L108.5 648L108.9 653.6L109.4 656.2L109.8 653.9L110.3 656.4L110.7 662.6L111.1 664.8L111.6 664.8L112 666.6L112.5 669.9L112.9 671.3L113.4 672L113.8 673.5L114.3 674.9L114.7 676L115.2 677.9L115.6 679L116.1 678.5L116.5 679.5L116.9 680.3L117.4 680.7L117.8 680.8L118.3 681.2L118.7 681.7L119.2 682L119.6 682.2L120.1 682.2L120.5 682L121 682L121.4 682.2L121.9 682.2L122.3 682.2L122.7 682.2L123.2 682.7L123.6 682.7L124.1 682.6L124.5 682.7L125 682.4L125.4 682.4L125.9 682.5L126.3 682.5L126.8 682.6L127.2 682.6L127.7 682.6L128.1 682.6L128.5 682.5L129 682.5L129.4 682.2L129.9 682.2L130.3 682.4L130.8 682.4L131.2 682.7L131.7 682.7L132.1 682.5L132.6 682.5L133 682.5L133.5 682.5L133.9 682.6L134.4 682.6L134.8 682.7L135.2 682.7L135.7 682.6L136.1 682.6L136.6 682.5L137 682.5L137.5 682.4L137.9 682.4L138.4 682.6L138.8 682.6L139.3 682.4L139.7 682.4L140.2 682.5L140.6 682.5L141 682.6L141.5 682.6L141.9 682.5L142.4 682.5L142.8 682.6L143.3 682.6L143.7 682.5L144.2 682.5L144.6 682.7L145.1 682.7L145.5 682.6L146 682.6L146.4 682.4L146.8 682.4L147.3 682.4L147.7 682.4L148.2 682.6L148.6 682.6L149.1 682.3L149.5 682.3L150 682.7L150.4 682.7L150.9 682.7L151.3 682.7L151.8 682.5L152.2 682.5L152.6 682.6L153.1 682.6L153.5 682.6L154 682.6L154.4 682.7L154.9 682.7L155.3 682.5L155.8 682.5L156.2 682.7L156.7 682.7L157.1 682.6L157.6 682.6L158 682.7L158.4 682.7L158.9 682.5L159.3 682.5L159.8 682.6L160.2 682.6L160.7 682.5L161.1 682.5L161.6 682.6L162 682.6L162.5 682.5L162.9 682.5L163.4 682.6L163.8 682.6L164.3 682.4L164.7 682.4L165.1 682.4L165.6 682.4L166 682.7L166.5 682.7L166.9 682.5L167.4 682.5L167.8 682.5L168.3 682.5L168.7 682.7L169.2 682.7L169.6 682.7L170.1 682.7L170.5 682.6L170.9 682.6L171.4 682.7L171.8 682.7L172.3 682.7L172.7 682.7L173.2 682.6L173.6 682.6L174.1 682.7L174.5 682.7L175 682.4L175.4 682.4L175.9 682.5L176.3 682.5" fill="none" stroke="#000" stroke-width="1.3" stroke-linejoin="round"/>
<path d="M61.0 563.4H62.5V683.1H176.3M61.0 683.1H62.5" fill="none" stroke="#222" stroke-width="1.15"/>
<line x1="61.2" y1="653.2" x2="62.5" y2="653.2" stroke="#333" stroke-width="0.7"/>
<line x1="61.2" y1="623.2" x2="62.5" y2="623.2" stroke="#333" stroke-width="0.7"/>
<line x1="61.2" y1="593.3" x2="62.5" y2="593.3" stroke="#333" stroke-width="0.7"/>
<line x1="62.5" y1="683.1" x2="62.5" y2="684.7" stroke="#222" stroke-width="0.8"/>
<text x="59.9" y="691.8" font-size="8.6" stroke="#000" stroke-width="0.2" textLength="10.8" lengthAdjust="spacingAndGlyphs">10<tspan dy="-2.8" font-size="5.4">0</tspan></text>
<line x1="91.0" y1="683.1" x2="91.0" y2="684.7" stroke="#222" stroke-width="0.8"/>
<text x="88.4" y="691.8" font-size="8.6" stroke="#000" stroke-width="0.2" textLength="10.8" lengthAdjust="spacingAndGlyphs">10<tspan dy="-2.8" font-size="5.4">1</tspan></text>
<line x1="119.4" y1="683.1" x2="119.4" y2="684.7" stroke="#222" stroke-width="0.8"/>
<text x="116.8" y="691.8" font-size="8.6" stroke="#000" stroke-width="0.2" textLength="10.8" lengthAdjust="spacingAndGlyphs">10<tspan dy="-2.8" font-size="5.4">2</tspan></text>
<line x1="147.8" y1="683.1" x2="147.8" y2="684.7" stroke="#222" stroke-width="0.8"/>
<text x="145.2" y="691.8" font-size="8.6" stroke="#000" stroke-width="0.2" textLength="10.8" lengthAdjust="spacingAndGlyphs">10<tspan dy="-2.8" font-size="5.4">3</tspan></text>
<line x1="176.3" y1="683.1" x2="176.3" y2="684.7" stroke="#222" stroke-width="0.8"/>
<text x="173.7" y="691.8" font-size="8.6" stroke="#000" stroke-width="0.2" textLength="10.8" lengthAdjust="spacingAndGlyphs">10<tspan dy="-2.8" font-size="5.4">4</tspan></text>
<text x="120.2" y="702.3" font-size="8.3" text-anchor="middle" textLength="20.8" lengthAdjust="spacingAndGlyphs">FL1-H</text>
<text x="53.2" y="621.0" font-size="8" text-anchor="middle" transform="rotate(-90 53.2 621.0)" textLength="23" lengthAdjust="spacingAndGlyphs">Events</text>
<text x="57.9" y="565.0" font-size="8" text-anchor="start" transform="rotate(-90 57.9 565.0)" textLength="7" lengthAdjust="spacingAndGlyphs" stroke="#000" stroke-width="0.2">12</text>
<text x="58.6" y="682.4" font-size="8" text-anchor="middle" transform="rotate(-90 58.6 682.4)" stroke="#000" stroke-width="0.2">0</text>
<polygon points="204.9,682.4 204.9,682.4 205.4,679.8 205.8,677.2 206.3,674.6 206.7,674 207.2,672.3 207.6,670.5 208.1,668.8 208.5,662.5 209,660.3 209.4,659.9 209.9,657.5 210.3,653.1 210.8,650.5 211.2,645.6 211.7,642.8 212.1,641.9 212.6,639.7 213,650.1 213.5,648.5 213.9,633.4 214.4,631.2 214.8,629.3 215.3,627 215.7,623.2 216.2,620.3 216.6,617 217.1,614 217.5,619.2 218,617.3 218.4,613.5 218.9,611.5 219.3,603.1 219.8,607.8 220.2,617.5 220.7,615.3 221.1,612.1 221.6,613.1 222,616 222.5,619.9 222.9,620.1 223.4,622.5 223.8,623.9 224.3,626.2 224.7,638.6 225.2,640.5 225.6,634.9 226.1,637.5 226.5,641.5 227,645.1 227.4,650.3 227.9,651.4 228.4,656.1 228.8,656.9 229.3,661.2 229.7,663.4 230.2,664.4 230.6,666.8 231.1,665.1 231.5,665.9 232,664.5 232.4,665.4 232.9,667.6 233.3,668.5 233.8,665.6 234.2,666.7 234.7,671 235.1,671.7 235.6,673.7 236,674 236.5,671.4 236.9,670.5 237.4,670.9 237.8,670.1 238.3,667.3 238.7,666.3 239.2,670.6 239.6,670.1 240.1,666.4 240.5,665.8 241,665.2 241.4,664.6 241.9,664.2 242.3,663.6 242.8,664.1 243.2,663.5 243.7,665 244.1,664.3 244.6,658.1 245,657.3 245.5,659.8 245.9,660.6 246.4,663.5 246.8,664.5 247.3,664 247.7,666 248.2,667.9 248.6,669.2 249.1,672.5 249.5,673.6 250,674.3 250.4,675.5 250.9,674.9 251.4,675.8 251.8,676.3 252.3,677.2 252.7,679.2 253.2,679.7 253.6,679.6 254.1,680 254.5,680 255,680.4 255.4,681.3 255.9,681.7 256.3,681.5 256.8,681.6 257.2,681.9 257.7,682 258.1,682.2 258.6,682.3 259,682.4 259.5,682.4 259.9,682.4 260.4,682.4 260.8,682.4 261.3,682.4 261.7,682.4 262.2,682.4 262.6,682.4 263.1,682.4 263.5,682.4 264,682.4 264.4,682.4 264.9,682.4 265.3,682.4 265.8,682.4 266.2,682.4 266.7,682.4 267.1,682.4 267.6,682.4 268,682.4 268.5,682.4 268.9,682.4 269.4,682.4 269.8,682.4 270.3,682.4 270.7,682.4 271.2,682.4 271.6,682.4 272.1,682.4 272.5,682.4 273,682.4 273.4,682.4 273.9,682.4 274.4,682.4 274.8,682.4 275.3,682.4 275.7,682.4 276.2,682.4 276.6,682.4 277.1,682.4 277.5,682.4 278,682.4 278.4,682.4 278.9,682.4 279.3,682.4 279.8,682.4 280.2,682.4 280.7,682.4 281.1,682.4 281.6,682.4 282,682.4 282.5,682.4 282.9,682.4 283.4,682.4 283.8,682.4 284.3,682.4 284.7,682.4 285.2,682.4 285.6,682.4 286.1,682.4 286.5,682.4 287,682.4 287.4,682.4 287.9,682.4 288.3,682.4 288.8,682.4 289.2,682.4 289.7,682.4 290.1,682.4 290.6,682.4 291,682.4 291.5,682.4 291.9,682.4 292.4,682.4 292.8,682.4 293.3,682.4 293.7,682.4 294.2,682.4 294.6,682.4 295.1,682.4 295.5,682.4 296,682.4 296.4,682.4 296.9,682.4 297.4,682.4 297.8,682.4 298.3,682.4 298.7,682.4 299.2,682.4 299.6,682.4 300.1,682.4 300.5,682.4 301,682.4 301.4,682.4 301.9,682.4 302.3,682.4 302.8,682.4 303.2,682.4 303.7,682.4 304.1,682.4 304.6,682.4 305,682.4 305.5,682.4 305.9,682.4 306.4,682.4 306.8,682.4 307.3,682.4 307.7,682.4 308.2,682.4 308.6,682.4 309.1,682.4 309.5,682.4 310,682.4 310.4,682.4 310.9,682.4 311.3,682.4 311.8,682.4 312.2,682.4 312.7,682.4 313.1,682.4 313.6,682.4 314,682.4 314.5,682.4 314.9,682.4 315.4,682.4 315.8,682.4 316.3,682.4 316.7,682.4 317.2,682.4 317.6,682.4 318.1,682.4 318.5,682.4 319,682.4 319.4,682.4 319.9,682.4 319.9,682.4" fill="#b4b4b4"/>
<path d="M204.9 681.9L205.4 681.8L205.8 681.7L206.3 681.6L206.7 681.8L207.2 681.7L207.6 682L208.1 682L208.5 681L209 680.9L209.4 681L209.9 680.5L210.3 679.6L210.8 679.1L211.2 679.9L211.7 679.5L212.1 677.1L212.6 677.2L213 677.7L213.5 677.9L213.9 678L214.4 678.1L214.8 679.1L215.3 679.2L215.7 678.1L216.2 677.7L216.6 677.9L217.1 677.4L217.5 677L218 676.9L218.4 676.2L218.9 676.2L219.3 676.1L219.8 676L220.2 675.3L220.7 675.2L221.1 676.1L221.6 676L222 677.1L222.5 677L222.9 675.3L223.4 675.2L223.8 675L224.3 674.8L224.7 675.3L225.2 675.2L225.6 675.4L226.1 675.3L226.5 674.7L227 674.6L227.4 674.1L227.9 674L228.4 675.6L228.8 675.5L229.3 675L229.7 674.9L230.2 674.2L230.6 674.1L231.1 673.6L231.5 672.3L232 668.4L232.4 664.9L232.9 662.8L233.3 661.4L233.8 661.3L234.2 659.9L234.7 658.5L235.1 656.7L235.6 657.7L236 656L236.5 652.1L236.9 652L237.4 649.8L237.8 649.6L238.3 651.8L238.7 650.2L239.2 649.7L239.6 648.1L240.1 647.3L240.5 646.5L241 640.9L241.4 640L241.9 638.8L242.3 638.1L242.8 640.5L243.2 640.1L243.7 641L244.1 642.3L244.6 641.7L245 643.1L245.5 646.4L245.9 647.4L246.4 651.2L246.8 652.1L247.3 651.1L247.7 651.7L248.2 647.5L248.6 650.3L249.1 654.1L249.5 658.4L250 665.1L250.4 669L250.9 670.8L251.4 672.7L251.8 674.7L252.3 676.1L252.7 675.5L253.2 676.2L253.6 677.8L254.1 678.4L254.5 677.9L255 678.3L255.4 679.9L255.9 680.3L256.3 680.5L256.8 680.9L257.2 681.1L257.7 681.3L258.1 681.2L258.6 681.3L259 681.3L259.5 681.4L259.9 681.5L260.4 681.5L260.8 680.7L261.3 680.7L261.7 682L262.2 682L262.6 682L263.1 682L263.5 682L264 682L264.4 682L264.9 682L265.3 682L265.8 682L266.2 681.9L266.7 681.9L267.1 682L267.6 682L268 681.9L268.5 681.9L268.9 681.6L269.4 681.6L269.8 682L270.3 682L270.7 681.9L271.2 681.9L271.6 682L272.1 682L272.5 682L273 682L273.4 681.9L273.9 681.9L274.4 681.6L274.8 681.6L275.3 681.8L275.7 681.8L276.2 682L276.6 682L277.1 681.9L277.5 681.9L278 681.7L278.4 681.7L278.9 682L279.3 682L279.8 682L280.2 682L280.7 682L281.1 682L281.6 682L282 682L282.5 682L282.9 682L283.4 682L283.8 682L284.3 682L284.7 682L285.2 682L285.6 682L286.1 682L286.5 682L287 681.9L287.4 681.9L287.9 682L288.3 682L288.8 682L289.2 682L289.7 682L290.1 682L290.6 682L291 682L291.5 681.8L291.9 681.8L292.4 681.9L292.8 681.9L293.3 682L293.7 682L294.2 681.9L294.6 681.9L295.1 682L295.5 682L296 682L296.4 682L296.9 681.7L297.4 681.7L297.8 682L298.3 682L298.7 682L299.2 682L299.6 682L300.1 682L300.5 681.9L301 681.9L301.4 682L301.9 682L302.3 681.9L302.8 681.9L303.2 682L303.7 682L304.1 682L304.6 682L305 681.9L305.5 681.9L305.9 682L306.4 682L306.8 681.8L307.3 681.8L307.7 682L308.2 682L308.6 682L309.1 682L309.5 681.6L310 681.6L310.4 681.6L310.9 681.6L311.3 681.8L311.8 681.8L312.2 682L312.7 682L313.1 682L313.6 682L314 681.9L314.5 681.9L314.9 681.9L315.4 681.9L315.8 682L316.3 682L316.7 682L317.2 682L317.6 682L318.1 682L318.5 682L319 682L319.4 682L319.9 682" fill="none" stroke="#000" stroke-width="1.3" stroke-linejoin="round"/>
<path d="M203.4 565.0H204.9V682.4H319.9M203.4 682.4H204.9" fill="none" stroke="#222" stroke-width="1.15"/>
<line x1="203.6" y1="653.0" x2="204.9" y2="653.0" stroke="#333" stroke-width="0.7"/>
<line x1="203.6" y1="623.7" x2="204.9" y2="623.7" stroke="#333" stroke-width="0.7"/>
<line x1="203.6" y1="594.4" x2="204.9" y2="594.4" stroke="#333" stroke-width="0.7"/>
<line x1="204.9" y1="682.4" x2="204.9" y2="684.0" stroke="#222" stroke-width="0.8"/>
<text x="202.3" y="691.1" font-size="8.6" stroke="#000" stroke-width="0.2" textLength="10.8" lengthAdjust="spacingAndGlyphs">10<tspan dy="-2.8" font-size="5.4">0</tspan></text>
<line x1="233.7" y1="682.4" x2="233.7" y2="684.0" stroke="#222" stroke-width="0.8"/>
<text x="231.1" y="691.1" font-size="8.6" stroke="#000" stroke-width="0.2" textLength="10.8" lengthAdjust="spacingAndGlyphs">10<tspan dy="-2.8" font-size="5.4">1</tspan></text>
<line x1="262.4" y1="682.4" x2="262.4" y2="684.0" stroke="#222" stroke-width="0.8"/>
<text x="259.8" y="691.1" font-size="8.6" stroke="#000" stroke-width="0.2" textLength="10.8" lengthAdjust="spacingAndGlyphs">10<tspan dy="-2.8" font-size="5.4">2</tspan></text>
<line x1="291.1" y1="682.4" x2="291.1" y2="684.0" stroke="#222" stroke-width="0.8"/>
<text x="288.5" y="691.1" font-size="8.6" stroke="#000" stroke-width="0.2" textLength="10.8" lengthAdjust="spacingAndGlyphs">10<tspan dy="-2.8" font-size="5.4">3</tspan></text>
<line x1="319.9" y1="682.4" x2="319.9" y2="684.0" stroke="#222" stroke-width="0.8"/>
<text x="317.3" y="691.1" font-size="8.6" stroke="#000" stroke-width="0.2" textLength="10.8" lengthAdjust="spacingAndGlyphs">10<tspan dy="-2.8" font-size="5.4">4</tspan></text>
<text x="263.2" y="701.6" font-size="8.3" text-anchor="middle" textLength="20.8" lengthAdjust="spacingAndGlyphs">FL1-H</text>
<text x="195.6" y="621.4" font-size="8" text-anchor="middle" transform="rotate(-90 195.6 621.4)" textLength="23" lengthAdjust="spacingAndGlyphs">Events</text>
<text x="200.3" y="566.6" font-size="8" text-anchor="start" transform="rotate(-90 200.3 566.6)" textLength="7.6" lengthAdjust="spacingAndGlyphs" stroke="#000" stroke-width="0.2">16</text>
<text x="201.0" y="681.7" font-size="8" text-anchor="middle" transform="rotate(-90 201.0 681.7)" stroke="#000" stroke-width="0.2">0</text>
<polygon points="360.4,680.7 360.4,680.7 360.8,680.7 361.3,680.7 361.7,680.7 362.2,680.7 362.6,680.7 363.1,680.7 363.5,680.7 364,680.7 364.4,680.7 364.9,680.7 365.3,680.7 365.8,680.7 366.2,680.7 366.7,680.7 367.1,680.7 367.6,680.7 368,680.7 368.5,680.7 368.9,680.7 369.4,680.7 369.8,680.7 370.3,680.7 370.7,680.7 371.2,679.8 371.6,678.9 372.1,679.9 372.5,679.7 373,676.3 373.4,675.4 373.8,675.4 374.3,674.6 374.7,679.5 375.2,679.4 375.6,680.3 376.1,680.3 376.5,669.2 377,668.8 377.4,668.9 377.9,668.4 378.3,667.7 378.8,667.3 379.2,677.5 379.7,677.4 380.1,679.8 380.6,679.8 381,678 381.5,678 381.9,678.4 382.4,678.4 382.8,668.6 383.3,668.8 383.7,678.3 384.2,677.9 384.6,679.2 385.1,679 385.5,677.9 385.9,677.6 386.4,674.8 386.8,674.5 387.3,657.1 387.7,657.1 388.2,650.7 388.6,650.7 389.1,679.2 389.5,679 390,639.7 390.4,635.5 390.9,644.9 391.3,641.4 391.8,631 392.2,627 392.7,623.7 393.1,620.5 393.6,617.2 394,614.5 394.5,613.6 394.9,611 395.4,605.2 395.8,604.7 396.3,607.8 396.7,579.4 397.2,581.6 397.6,609.2 398.1,609.6 398.5,609.6 398.9,600.8 399.4,600.3 399.8,614.9 400.3,611.3 400.7,603.4 401.2,607.7 401.6,618.3 402.1,627.4 402.5,668.5 403,669.9 403.4,640.4 403.9,645.2 404.3,675.5 404.8,675.8 405.2,658.6 405.7,660.1 406.1,670.9 406.6,670.4 407,677.4 407.5,677.3 407.9,673.7 408.4,673.9 408.8,675.5 409.3,675.7 409.7,649.4 410.2,650.5 410.6,677.5 411.1,677.6 411.5,652 411.9,652.9 412.4,659.1 412.8,659.8 413.3,662.3 413.7,662.9 414.2,677 414.6,677.1 415.1,660 415.5,660.5 416,676.1 416.4,676.2 416.9,665.7 417.3,666 417.8,665.6 418.2,666 418.7,679 419.1,679.1 419.6,678.7 420,678.8 420.5,678.6 420.9,678.7 421.4,676.9 421.8,677 422.3,671.5 422.7,672.4 423.2,672.4 423.6,673.4 424,673.1 424.5,674.3 424.9,680.1 425.4,680.3 425.8,680.6 426.3,680.7 426.7,680.7 427.2,680.7 427.6,680.7 428.1,680.7 428.5,680.7 429,680.7 429.4,680.7 429.9,680.7 430.3,680.7 430.8,680.7 431.2,680.7 431.7,680.7 432.1,680.7 432.6,680.7 433,680.7 433.5,680.7 433.9,680.7 434.4,680.7 434.8,680.7 435.3,680.7 435.7,680.7 436.2,680.7 436.6,680.7 437,680.7 437.5,680.7 437.9,680.7 438.4,680.7 438.8,680.7 439.3,680.7 439.7,680.7 440.2,680.7 440.6,680.7 441.1,680.7 441.5,680.7 442,680.7 442.4,680.7 442.9,680.7 443.3,680.7 443.8,680.7 444.2,680.7 444.7,680.7 445.1,680.7 445.6,680.7 446,680.7 446.5,680.7 446.9,680.7 447.4,680.7 447.8,680.7 448.3,680.7 448.7,680.7 449.2,680.7 449.6,680.7 450,680.7 450.5,680.7 450.9,680.7 451.4,680.7 451.8,680.7 452.3,680.7 452.7,680.7 453.2,680.7 453.6,680.7 454.1,680.7 454.5,680.7 455,680.7 455.4,680.7 455.9,680.7 456.3,680.7 456.8,680.7 457.2,680.7 457.7,680.7 458.1,680.7 458.6,680.7 459,680.7 459.5,680.7 459.9,680.7 460.4,680.7 460.8,680.7 461.3,680.7 461.7,680.7 462.1,680.7 462.6,680.7 463,680.7 463.5,680.7 463.9,680.7 464.4,680.7 464.8,680.7 465.3,680.7 465.7,680.7 466.2,680.7 466.6,680.7 467.1,680.7 467.5,680.7 468,680.7 468.4,680.7 468.9,680.7 469.3,680.7 469.8,680.7 470.2,680.7 470.7,680.7 471.1,680.7 471.6,680.7 472,680.7 472.5,680.7 472.9,680.7 473.4,680.7 473.8,680.7 474.3,680.7 474.7,680.7 474.7,680.7" fill="#bababa"/>
<path d="M360.4 680L360.8 680L361.3 680.1L361.7 680.1L362.2 680L362.6 680L363.1 679.9L363.5 679.9L364 680.2L364.4 680.2L364.9 680.2L365.3 680.2L365.8 680.2L366.2 680.2L366.7 680.1L367.1 680.1L367.6 680.1L368 680.1L368.5 679.9L368.9 679.9L369.4 680.1L369.8 680.1L370.3 680.2L370.7 680.2L371.2 679.8L371.6 679.8L372.1 680L372.5 680L373 679.9L373.4 679.9L373.8 679.6L374.3 678.7L374.7 678.5L375.2 677.8L375.6 677.3L376.1 677.9L376.5 677.9L377 678.9L377.4 679.7L377.9 679.7L378.3 680L378.8 680L379.2 679.8L379.7 679.8L380.1 680.1L380.6 680.1L381 680L381.5 680L381.9 679.9L382.4 679.9L382.8 680L383.3 680L383.7 680L384.2 680L384.6 680.1L385.1 680.1L385.5 679.8L385.9 679.8L386.4 680.1L386.8 680.1L387.3 680.1L387.7 680.1L388.2 680.2L388.6 680.2L389.1 680.2L389.5 680.2L390 680.3L390.4 680.3L390.9 680.1L391.3 680.1L391.8 679.8L392.2 679.8L392.7 680.3L393.1 680.3L393.6 680.2L394 680.2L394.5 680.2L394.9 680.2L395.4 679.3L395.8 678.5L396.3 677.8L396.7 676.9L397.2 674.7L397.6 674L398.1 676L398.5 676.4L398.9 676.7L399.4 677.1L399.8 677.1L400.3 676.3L400.7 675.4L401.2 674L401.6 672.2L402.1 670.8L402.5 670.7L403 667.4L403.4 663.1L403.9 659.7L404.3 655.1L404.8 651.4L405.2 650.1L405.7 646.3L406.1 641L406.6 638.5L407 638.2L407.5 636.3L407.9 636L408.4 633.9L408.8 628.4L409.3 626.1L409.7 626.3L410.2 624.5L410.6 622.2L411.1 621.1L411.5 624L411.9 624L412.4 620.5L412.8 622.6L413.3 631.2L413.7 633.2L414.2 634L414.6 635.8L415.1 629.3L415.5 631.3L416 640.3L416.4 643.9L416.9 647L417.3 648.2L417.8 646.1L418.2 645.8L418.7 645.8L419.1 648.6L419.6 652.2L420 656.3L420.5 659.7L420.9 664.5L421.4 670.5L421.8 675.1L422.3 675.7L422.7 676L423.2 676L423.6 676.3L424 676L424.5 675.4L424.9 674.6L425.4 674L425.8 673.8L426.3 675.1L426.7 677L427.2 678.2L427.6 679.1L428.1 679.2L428.5 678.8L429 678.9L429.4 679.1L429.9 679.2L430.3 679.5L430.8 679.6L431.2 679.6L431.7 679.6L432.1 679.9L432.6 679.9L433 678.7L433.5 677.6L433.9 676.4L434.4 675.3L434.8 676.3L435.3 676.5L435.7 676L436.2 676.2L436.6 677.2L437 677.3L437.5 675.5L437.9 675.1L438.4 675.6L438.8 675.2L439.3 675.4L439.7 675L440.2 674.7L440.6 675.3L441.1 675.4L441.5 676L442 676L442.4 674.8L442.9 674.4L443.3 673.3L443.8 671.3L444.2 670.2L444.7 670.8L445.1 671L445.6 671.9L446 672L446.5 669.6L446.9 669.8L447.4 671.1L447.8 671L448.3 671.2L448.7 670.6L449.2 669.3L449.6 668.6L450 667.3L450.5 667L450.9 666.5L451.4 666.4L451.8 667.6L452.3 667.5L452.7 668.2L453.2 668.9L453.6 669.7L454.1 670.4L454.5 671.6L455 672.3L455.4 672.1L455.9 673.4L456.3 676.2L456.8 677.3L457.2 677.1L457.7 677.4L458.1 677.1L458.6 677.4L459 677.6L459.5 678.1L459.9 679.3L460.4 679.7L460.8 679.7L461.3 679.9L461.7 680.1L462.1 680.1L462.6 680.3L463 680.3L463.5 679.8L463.9 679.8L464.4 680.3L464.8 680.3L465.3 680L465.7 680L466.2 679.8L466.6 679.8L467.1 680L467.5 680L468 680.3L468.4 680.3L468.9 680L469.3 679.7L469.8 679.4L470.2 679L470.7 678.3L471.1 677.9L471.6 677.9L472 677.5L472.5 677.7L472.9 678L473.4 678.1L473.8 679.5L474.3 680.3L474.7 680.3" fill="none" stroke="#000" stroke-width="1.3" stroke-linejoin="round"/>
<path d="M358.9 562.3H360.4V680.6999999999999H474.7M358.9 680.6999999999999H360.4" fill="none" stroke="#222" stroke-width="1.15"/>
<line x1="359.09999999999997" y1="651.1" x2="360.4" y2="651.1" stroke="#333" stroke-width="0.7"/>
<line x1="359.09999999999997" y1="621.5" x2="360.4" y2="621.5" stroke="#333" stroke-width="0.7"/>
<line x1="359.09999999999997" y1="591.9" x2="360.4" y2="591.9" stroke="#333" stroke-width="0.7"/>
<line x1="360.4" y1="680.6999999999999" x2="360.4" y2="682.3" stroke="#222" stroke-width="0.8"/>
<text x="357.8" y="689.4" font-size="8.6" stroke="#000" stroke-width="0.2" textLength="10.8" lengthAdjust="spacingAndGlyphs">10<tspan dy="-2.8" font-size="5.4">0</tspan></text>
<line x1="389.0" y1="680.6999999999999" x2="389.0" y2="682.3" stroke="#222" stroke-width="0.8"/>
<text x="386.4" y="689.4" font-size="8.6" stroke="#000" stroke-width="0.2" textLength="10.8" lengthAdjust="spacingAndGlyphs">10<tspan dy="-2.8" font-size="5.4">1</tspan></text>
<line x1="417.5" y1="680.6999999999999" x2="417.5" y2="682.3" stroke="#222" stroke-width="0.8"/>
<text x="414.9" y="689.4" font-size="8.6" stroke="#000" stroke-width="0.2" textLength="10.8" lengthAdjust="spacingAndGlyphs">10<tspan dy="-2.8" font-size="5.4">2</tspan></text>
<line x1="446.1" y1="680.6999999999999" x2="446.1" y2="682.3" stroke="#222" stroke-width="0.8"/>
<text x="443.5" y="689.4" font-size="8.6" stroke="#000" stroke-width="0.2" textLength="10.8" lengthAdjust="spacingAndGlyphs">10<tspan dy="-2.8" font-size="5.4">3</tspan></text>
<line x1="474.7" y1="680.6999999999999" x2="474.7" y2="682.3" stroke="#222" stroke-width="0.8"/>
<text x="472.1" y="689.4" font-size="8.6" stroke="#000" stroke-width="0.2" textLength="10.8" lengthAdjust="spacingAndGlyphs">10<tspan dy="-2.8" font-size="5.4">4</tspan></text>
<text x="418.3" y="699.9" font-size="8.3" text-anchor="middle" textLength="20.8" lengthAdjust="spacingAndGlyphs">FL1-H</text>
<text x="351.1" y="619.2" font-size="8" text-anchor="middle" transform="rotate(-90 351.1 619.2)" textLength="23" lengthAdjust="spacingAndGlyphs">Events</text>
<text x="355.8" y="563.9" font-size="8" text-anchor="start" transform="rotate(-90 355.8 563.9)" textLength="3.8" lengthAdjust="spacingAndGlyphs" stroke="#000" stroke-width="0.2">8</text>
<text x="356.5" y="680.0" font-size="8" text-anchor="middle" transform="rotate(-90 356.5 680.0)" stroke="#000" stroke-width="0.2">0</text>
<text x="18.7" y="362" font-size="19.4" text-anchor="start" transform="rotate(-90 18.7 362)" textLength="73.6" lengthAdjust="spacingAndGlyphs">:α-CD38</text>
<line x1="15.3" y1="366.6" x2="15.3" y2="386.8" stroke="#000" stroke-width="2.6"/>
<text x="18.7" y="503" font-size="19.4" text-anchor="start" transform="rotate(-90 18.7 503)" textLength="54.7" lengthAdjust="spacingAndGlyphs">:+ IL-2</text>
<line x1="14.5" y1="505.8" x2="14.5" y2="526" stroke="#000" stroke-width="2.6"/>
<text x="18.7" y="667.5" font-size="19.4" text-anchor="start" transform="rotate(-90 18.7 667.5)" textLength="85" lengthAdjust="spacingAndGlyphs">:untreated</text>
<line x1="14.5" y1="671.3" x2="14.5" y2="692" stroke="#000" stroke-width="2.6"/>
<rect x="181" y="723.5" width="22" height="12.3" fill="#b2b2b2"/>
<text x="205.3" y="736.3" font-size="19.2" text-anchor="start" textLength="127.4" lengthAdjust="spacingAndGlyphs">:α-CD38 + IL-2</text>
</svg>
</body></html>
